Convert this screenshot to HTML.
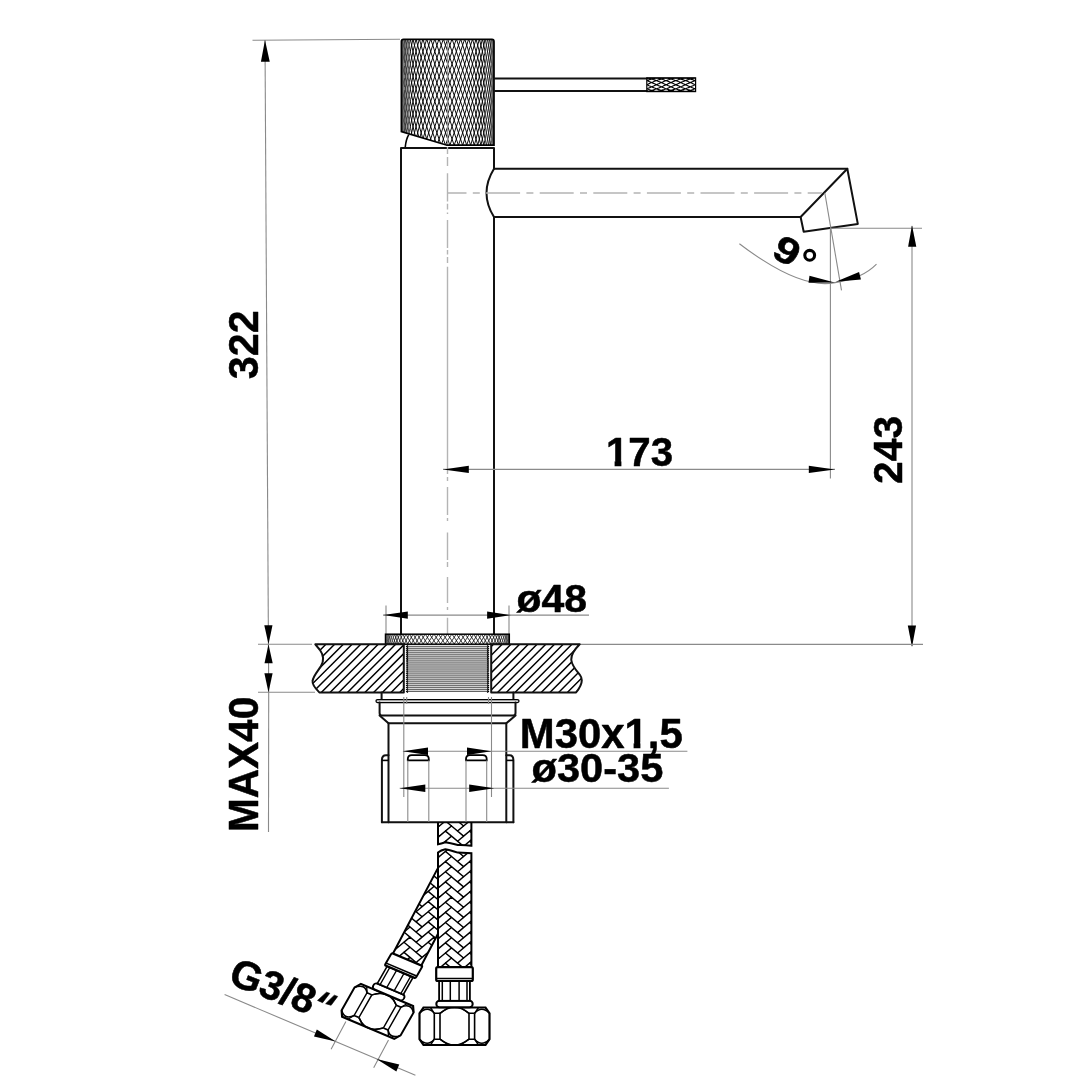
<!DOCTYPE html>
<html><head><meta charset="utf-8"><style>
html,body{margin:0;padding:0;background:#fff;}
svg{display:block;will-change:transform;}
text{font-family:"Liberation Sans",sans-serif;font-weight:bold;}
</style></head><body>
<svg width="1080" height="1080" viewBox="0 0 1080 1080">
<rect width="1080" height="1080" fill="#fff"/>
<path d="M252.5,40.3 L400,39.3" stroke="#8a8a8a" stroke-width="1.1" fill="none"/>
<path d="M265,40 L268.7,692" stroke="#8a8a8a" stroke-width="1.1" fill="none"/>
<path d="M268.7,692 L268.5,832" stroke="#8a8a8a" stroke-width="1.1" fill="none"/>
<path d="M265.00,40.00 L260.95,61.77 L269.75,61.63 Z" fill="#000"/>
<path d="M268.50,644.20 L272.50,625.28 L264.30,625.32 Z" fill="#000"/>
<path d="M268.50,644.20 L264.50,663.32 L272.70,663.28 Z" fill="#000"/>
<path d="M268.50,692.50 L272.60,673.30 L264.40,673.30 Z" fill="#000"/>
<path d="M258,644.3 L312,644.3" stroke="#8a8a8a" stroke-width="1.1" fill="none"/>
<path d="M258,692.3 L315,692.3" stroke="#8a8a8a" stroke-width="1.1" fill="none"/>
<text transform="translate(258.30,379.20) rotate(-90) scale(0.4132,0.4244)" font-size="100" fill="#000" stroke="#000" stroke-width="1.194" stroke-linejoin="round">322</text>
<text transform="translate(258.00,832.10) rotate(-90) scale(0.4060,0.4305)" font-size="100" fill="#000" stroke="#000" stroke-width="1.195" stroke-linejoin="round">MAX40</text>
<defs><clipPath id="hclip"><path d="M401.4,40 L494,40 L494,145.2 L447,145.2 L401.4,131.6 Z"/></clipPath><clipPath id="lclip"><rect x="646.8" y="77.8" width="48.8" height="13.8"/></clipPath><clipPath id="rclip"><rect x="385.5" y="634.2" width="123.8" height="10"/></clipPath></defs>
<g clip-path="url(#hclip)"><path d="M447.7,39.0 L448.7,42.0 M448.7,42.0 L449.8,45.0 M449.8,45.0 L450.8,48.0 M450.8,48.0 L451.9,51.0 M451.9,51.0 L452.9,54.0 M452.9,54.0 L453.9,57.0 M453.9,57.0 L455.0,60.0 M455.0,60.0 L456.0,63.0 M456.0,63.0 L457.0,66.0 M457.0,66.0 L458.1,69.0 M458.1,69.0 L459.1,72.0 M459.1,72.0 L460.1,75.0 M460.1,75.0 L461.1,78.0 M461.1,78.0 L462.1,81.0 M462.1,81.0 L463.1,84.0 M463.1,84.0 L464.0,87.0 M464.0,87.0 L465.0,90.0 M465.0,90.0 L466.0,93.0 M466.0,93.0 L466.9,96.0 M466.9,96.0 L467.9,99.0 M467.9,99.0 L468.8,102.0 M468.8,102.0 L469.7,105.0 M469.7,105.0 L470.7,108.0 M470.7,108.0 L471.6,111.0 M471.6,111.0 L472.4,114.0 M472.4,114.0 L473.3,117.0 M473.3,117.0 L474.2,120.0 M474.2,120.0 L475.0,123.0 M475.0,123.0 L475.9,126.0 M475.9,126.0 L476.7,129.0 M476.7,129.0 L477.5,132.0 M477.5,132.0 L478.3,135.0 M478.3,135.0 L479.1,138.0 M479.1,138.0 L479.8,141.0 M479.8,141.0 L480.6,144.0 M480.6,144.0 L481.1,146.0 M452.0,39.0 L453.1,42.0 M453.1,42.0 L454.1,45.0 M454.1,45.0 L455.2,48.0 M455.2,48.0 L456.2,51.0 M456.2,51.0 L457.2,54.0 M457.2,54.0 L458.2,57.0 M458.2,57.0 L459.2,60.0 M459.2,60.0 L460.2,63.0 M460.2,63.0 L461.2,66.0 M461.2,66.0 L462.2,69.0 M462.2,69.0 L463.2,72.0 M463.2,72.0 L464.2,75.0 M464.2,75.0 L465.2,78.0 M465.2,78.0 L466.1,81.0 M466.1,81.0 L467.1,84.0 M467.1,84.0 L468.0,87.0 M468.0,87.0 L469.0,90.0 M469.0,90.0 L469.9,93.0 M469.9,93.0 L470.8,96.0 M470.8,96.0 L471.7,99.0 M471.7,99.0 L472.6,102.0 M472.6,102.0 L473.5,105.0 M473.5,105.0 L474.3,108.0 M474.3,108.0 L475.2,111.0 M475.2,111.0 L476.0,114.0 M476.0,114.0 L476.8,117.0 M476.8,117.0 L477.6,120.0 M477.6,120.0 L478.4,123.0 M478.4,123.0 L479.2,126.0 M479.2,126.0 L480.0,129.0 M480.0,129.0 L480.7,132.0 M480.7,132.0 L481.4,135.0 M481.4,135.0 L482.1,138.0 M482.1,138.0 L482.8,141.0 M482.8,141.0 L483.5,144.0 M483.5,144.0 L483.9,146.0 M456.4,39.0 L457.4,42.0 M457.4,42.0 L458.4,45.0 M458.4,45.0 L459.4,48.0 M459.4,48.0 L460.4,51.0 M460.4,51.0 L461.4,54.0 M461.4,54.0 L462.4,57.0 M462.4,57.0 L463.4,60.0 M463.4,60.0 L464.4,63.0 M464.4,63.0 L465.3,66.0 M465.3,66.0 L466.3,69.0 M466.3,69.0 L467.3,72.0 M467.3,72.0 L468.2,75.0 M468.2,75.0 L469.1,78.0 M469.1,78.0 L470.0,81.0 M470.0,81.0 L471.0,84.0 M471.0,84.0 L471.9,87.0 M471.9,87.0 L472.7,90.0 M472.7,90.0 L473.6,93.0 M473.6,93.0 L474.5,96.0 M474.5,96.0 L475.3,99.0 M475.3,99.0 L476.2,102.0 M476.2,102.0 L477.0,105.0 M477.0,105.0 L477.8,108.0 M477.8,108.0 L478.6,111.0 M478.6,111.0 L479.3,114.0 M479.3,114.0 L480.1,117.0 M480.1,117.0 L480.8,120.0 M480.8,120.0 L481.5,123.0 M481.5,123.0 L482.3,126.0 M482.3,126.0 L482.9,129.0 M482.9,129.0 L483.6,132.0 M483.6,132.0 L484.3,135.0 M484.3,135.0 L484.9,138.0 M460.6,39.0 L461.6,42.0 M461.6,42.0 L462.6,45.0 M462.6,45.0 L463.6,48.0 M463.6,48.0 L464.5,51.0 M464.5,51.0 L465.5,54.0 M465.5,54.0 L466.5,57.0 M466.5,57.0 L467.4,60.0 M467.4,60.0 L468.4,63.0 M468.4,63.0 L469.3,66.0 M469.3,66.0 L470.2,69.0 M470.2,69.0 L471.1,72.0 M471.1,72.0 L472.0,75.0 M472.0,75.0 L472.9,78.0 M472.9,78.0 L473.8,81.0 M473.8,81.0 L474.6,84.0 M474.6,84.0 L475.5,87.0 M475.5,87.0 L476.3,90.0 M476.3,90.0 L477.1,93.0 M477.1,93.0 L477.9,96.0 M477.9,96.0 L478.7,99.0 M478.7,99.0 L479.5,102.0 M479.5,102.0 L480.2,105.0 M480.2,105.0 L480.9,108.0 M480.9,108.0 L481.7,111.0 M481.7,111.0 L482.4,114.0 M482.4,114.0 L483.1,117.0 M483.1,117.0 L483.7,120.0 M483.7,120.0 L484.4,123.0 M484.4,123.0 L485.0,126.0 M464.7,39.0 L465.7,42.0 M465.7,42.0 L466.6,45.0 M466.6,45.0 L467.6,48.0 M467.6,48.0 L468.5,51.0 M468.5,51.0 L469.4,54.0 M469.4,54.0 L470.4,57.0 M470.4,57.0 L471.3,60.0 M471.3,60.0 L472.2,63.0 M472.2,63.0 L473.0,66.0 M473.0,66.0 L473.9,69.0 M473.9,69.0 L474.8,72.0 M474.8,72.0 L475.6,75.0 M475.6,75.0 L476.4,78.0 M476.4,78.0 L477.2,81.0 M477.2,81.0 L478.0,84.0 M478.0,84.0 L478.8,87.0 M478.8,87.0 L479.6,90.0 M479.6,90.0 L480.3,93.0 M480.3,93.0 L481.1,96.0 M481.1,96.0 L481.8,99.0 M481.8,99.0 L482.5,102.0 M482.5,102.0 L483.2,105.0 M483.2,105.0 L483.8,108.0 M483.8,108.0 L484.5,111.0 M484.5,111.0 L485.1,114.0 M468.7,39.0 L469.6,42.0 M469.6,42.0 L470.5,45.0 M470.5,45.0 L471.4,48.0 M471.4,48.0 L472.3,51.0 M472.3,51.0 L473.2,54.0 M473.2,54.0 L474.0,57.0 M474.0,57.0 L474.9,60.0 M474.9,60.0 L475.7,63.0 M475.7,63.0 L476.6,66.0 M476.6,66.0 L477.4,69.0 M477.4,69.0 L478.2,72.0 M478.2,72.0 L478.9,75.0 M478.9,75.0 L479.7,78.0 M479.7,78.0 L480.5,81.0 M480.5,81.0 L481.2,84.0 M481.2,84.0 L481.9,87.0 M481.9,87.0 L482.6,90.0 M482.6,90.0 L483.3,93.0 M483.3,93.0 L483.9,96.0 M483.9,96.0 L484.6,99.0 M472.5,39.0 L473.3,42.0 M473.3,42.0 L474.2,45.0 M474.2,45.0 L475.0,48.0 M475.0,48.0 L475.9,51.0 M475.9,51.0 L476.7,54.0 M476.7,54.0 L477.5,57.0 M477.5,57.0 L478.3,60.0 M478.3,60.0 L479.1,63.0 M479.1,63.0 L479.8,66.0 M479.8,66.0 L480.6,69.0 M480.6,69.0 L481.3,72.0 M481.3,72.0 L482.0,75.0 M482.0,75.0 L482.7,78.0 M482.7,78.0 L483.4,81.0 M483.4,81.0 L484.1,84.0 M484.1,84.0 L484.7,87.0 M476.0,39.0 L476.8,42.0 M476.8,42.0 L477.6,45.0 M477.6,45.0 L478.4,48.0 M478.4,48.0 L479.2,51.0 M479.2,51.0 L480.0,54.0 M480.0,54.0 L480.7,57.0 M480.7,57.0 L481.4,60.0 M481.4,60.0 L482.1,63.0 M482.1,63.0 L482.8,66.0 M482.8,66.0 L483.5,69.0 M483.5,69.0 L484.2,72.0 M484.2,72.0 L484.8,75.0 M479.3,39.0 L480.1,42.0 M480.1,42.0 L480.8,45.0 M480.8,45.0 L481.6,48.0 M481.6,48.0 L482.3,51.0 M482.3,51.0 L482.9,54.0 M482.9,54.0 L483.6,57.0 M483.6,57.0 L484.3,60.0 M484.3,60.0 L484.9,63.0 M482.4,39.0 L483.1,42.0 M483.1,42.0 L483.7,45.0 M483.7,45.0 L484.4,48.0 M484.4,48.0 L485.0,51.0 M410.7,141.0 L411.3,144.0 M411.3,144.0 L411.8,146.0 M410.8,129.0 L411.4,132.0 M411.4,132.0 L412.1,135.0 M412.1,135.0 L412.8,138.0 M412.8,138.0 L413.5,141.0 M413.5,141.0 L414.2,144.0 M414.2,144.0 L414.7,146.0 M410.3,114.0 L410.9,117.0 M410.9,117.0 L411.6,120.0 M411.6,120.0 L412.2,123.0 M412.2,123.0 L412.9,126.0 M412.9,126.0 L413.6,129.0 M413.6,129.0 L414.3,132.0 M414.3,132.0 L415.1,135.0 M415.1,135.0 L415.8,138.0 M415.8,138.0 L416.6,141.0 M416.6,141.0 L417.4,144.0 M417.4,144.0 L417.9,146.0 M410.4,102.0 L411.0,105.0 M411.0,105.0 L411.7,108.0 M411.7,108.0 L412.3,111.0 M412.3,111.0 L413.0,114.0 M413.0,114.0 L413.7,117.0 M413.7,117.0 L414.4,120.0 M414.4,120.0 L415.2,123.0 M415.2,123.0 L415.9,126.0 M415.9,126.0 L416.7,129.0 M416.7,129.0 L417.5,132.0 M417.5,132.0 L418.3,135.0 M418.3,135.0 L419.1,138.0 M419.1,138.0 L419.9,141.0 M419.9,141.0 L420.8,144.0 M420.8,144.0 L421.3,146.0 M410.5,90.0 L411.1,93.0 M411.1,93.0 L411.8,96.0 M411.8,96.0 L412.4,99.0 M412.4,99.0 L413.1,102.0 M413.1,102.0 L413.8,105.0 M413.8,105.0 L414.6,108.0 M414.6,108.0 L415.3,111.0 M415.3,111.0 L416.1,114.0 M416.1,114.0 L416.8,117.0 M416.8,117.0 L417.6,120.0 M417.6,120.0 L418.4,123.0 M418.4,123.0 L419.2,126.0 M419.2,126.0 L420.1,129.0 M420.1,129.0 L420.9,132.0 M420.9,132.0 L421.8,135.0 M421.8,135.0 L422.6,138.0 M422.6,138.0 L423.5,141.0 M423.5,141.0 L424.4,144.0 M424.4,144.0 L425.0,146.0 M410.6,78.0 L411.2,81.0 M411.2,81.0 L411.9,84.0 M411.9,84.0 L412.6,87.0 M412.6,87.0 L413.3,90.0 M413.3,90.0 L414.0,93.0 M414.0,93.0 L414.7,96.0 M414.7,96.0 L415.4,99.0 M415.4,99.0 L416.2,102.0 M416.2,102.0 L417.0,105.0 M417.0,105.0 L417.8,108.0 M417.8,108.0 L418.6,111.0 M418.6,111.0 L419.4,114.0 M419.4,114.0 L420.2,117.0 M420.2,117.0 L421.1,120.0 M421.1,120.0 L421.9,123.0 M421.9,123.0 L422.8,126.0 M422.8,126.0 L423.7,129.0 M423.7,129.0 L424.6,132.0 M424.6,132.0 L425.5,135.0 M425.5,135.0 L426.4,138.0 M426.4,138.0 L427.3,141.0 M427.3,141.0 L428.3,144.0 M428.3,144.0 L428.9,146.0 M410.7,66.0 L411.3,69.0 M411.3,69.0 L412.0,72.0 M412.0,72.0 L412.7,75.0 M412.7,75.0 L413.4,78.0 M413.4,78.0 L414.1,81.0 M414.1,81.0 L414.8,84.0 M414.8,84.0 L415.6,87.0 M415.6,87.0 L416.3,90.0 M416.3,90.0 L417.1,93.0 M417.1,93.0 L417.9,96.0 M417.9,96.0 L418.7,99.0 M418.7,99.0 L419.5,102.0 M419.5,102.0 L420.4,105.0 M420.4,105.0 L421.2,108.0 M421.2,108.0 L422.1,111.0 M422.1,111.0 L422.9,114.0 M422.9,114.0 L423.8,117.0 M423.8,117.0 L424.7,120.0 M424.7,120.0 L425.6,123.0 M425.6,123.0 L426.6,126.0 M426.6,126.0 L427.5,129.0 M427.5,129.0 L428.4,132.0 M428.4,132.0 L429.4,135.0 M429.4,135.0 L430.4,138.0 M430.4,138.0 L431.3,141.0 M431.3,141.0 L432.3,144.0 M432.3,144.0 L433.0,146.0 M410.8,54.0 L411.5,57.0 M411.5,57.0 L412.1,60.0 M412.1,60.0 L412.8,63.0 M412.8,63.0 L413.5,66.0 M413.5,66.0 L414.2,69.0 M414.2,69.0 L414.9,72.0 M414.9,72.0 L415.7,75.0 M415.7,75.0 L416.4,78.0 M416.4,78.0 L417.2,81.0 M417.2,81.0 L418.0,84.0 M418.0,84.0 L418.8,87.0 M418.8,87.0 L419.7,90.0 M419.7,90.0 L420.5,93.0 M420.5,93.0 L421.3,96.0 M421.3,96.0 L422.2,99.0 M422.2,99.0 L423.1,102.0 M423.1,102.0 L424.0,105.0 M424.0,105.0 L424.9,108.0 M424.9,108.0 L425.8,111.0 M425.8,111.0 L426.7,114.0 M426.7,114.0 L427.7,117.0 M427.7,117.0 L428.6,120.0 M428.6,120.0 L429.6,123.0 M429.6,123.0 L430.5,126.0 M430.5,126.0 L431.5,129.0 M431.5,129.0 L432.5,132.0 M432.5,132.0 L433.5,135.0 M433.5,135.0 L434.5,138.0 M434.5,138.0 L435.5,141.0 M435.5,141.0 L436.5,144.0 M436.5,144.0 L437.2,146.0 M410.3,39.0 L410.9,42.0 M410.9,42.0 L411.6,45.0 M411.6,45.0 L412.2,48.0 M412.2,48.0 L412.9,51.0 M412.9,51.0 L413.6,54.0 M413.6,54.0 L414.3,57.0 M414.3,57.0 L415.1,60.0 M415.1,60.0 L415.8,63.0 M415.8,63.0 L416.6,66.0 M416.6,66.0 L417.4,69.0 M417.4,69.0 L418.2,72.0 M418.2,72.0 L419.0,75.0 M419.0,75.0 L419.8,78.0 M419.8,78.0 L420.6,81.0 M420.6,81.0 L421.5,84.0 M421.5,84.0 L422.4,87.0 M422.4,87.0 L423.2,90.0 M423.2,90.0 L424.1,93.0 M424.1,93.0 L425.0,96.0 M425.0,96.0 L426.0,99.0 M426.0,99.0 L426.9,102.0 M426.9,102.0 L427.8,105.0 M427.8,105.0 L428.8,108.0 M428.8,108.0 L429.7,111.0 M429.7,111.0 L430.7,114.0 M430.7,114.0 L431.7,117.0 M431.7,117.0 L432.7,120.0 M432.7,120.0 L433.6,123.0 M433.6,123.0 L434.6,126.0 M434.6,126.0 L435.6,129.0 M435.6,129.0 L436.7,132.0 M436.7,132.0 L437.7,135.0 M437.7,135.0 L438.7,138.0 M438.7,138.0 L439.7,141.0 M439.7,141.0 L440.8,144.0 M440.8,144.0 L441.4,146.0 M413.0,39.0 L413.7,42.0 M413.7,42.0 L414.4,45.0 M414.4,45.0 L415.2,48.0 M415.2,48.0 L415.9,51.0 M415.9,51.0 L416.7,54.0 M416.7,54.0 L417.5,57.0 M417.5,57.0 L418.3,60.0 M418.3,60.0 L419.1,63.0 M419.1,63.0 L419.9,66.0 M419.9,66.0 L420.8,69.0 M420.8,69.0 L421.6,72.0 M421.6,72.0 L422.5,75.0 M422.5,75.0 L423.4,78.0 M423.4,78.0 L424.3,81.0 M424.3,81.0 L425.2,84.0 M425.2,84.0 L426.1,87.0 M426.1,87.0 L427.0,90.0 M427.0,90.0 L428.0,93.0 M428.0,93.0 L428.9,96.0 M428.9,96.0 L429.9,99.0 M429.9,99.0 L430.9,102.0 M430.9,102.0 L431.8,105.0 M431.8,105.0 L432.8,108.0 M432.8,108.0 L433.8,111.0 M433.8,111.0 L434.8,114.0 M434.8,114.0 L435.8,117.0 M435.8,117.0 L436.8,120.0 M436.8,120.0 L437.8,123.0 M437.8,123.0 L438.9,126.0 M438.9,126.0 L439.9,129.0 M439.9,129.0 L440.9,132.0 M440.9,132.0 L442.0,135.0 M442.0,135.0 L443.0,138.0 M443.0,138.0 L444.0,141.0 M444.0,141.0 L445.1,144.0 M445.1,144.0 L445.8,146.0 M416.1,39.0 L416.8,42.0 M416.8,42.0 L417.6,45.0 M417.6,45.0 L418.4,48.0 M418.4,48.0 L419.2,51.0 M419.2,51.0 L420.1,54.0 M420.1,54.0 L420.9,57.0 M420.9,57.0 L421.8,60.0 M421.8,60.0 L422.7,63.0 M422.7,63.0 L423.5,66.0 M423.5,66.0 L424.4,69.0 M424.4,69.0 L425.3,72.0 M425.3,72.0 L426.3,75.0 M426.3,75.0 L427.2,78.0 M427.2,78.0 L428.1,81.0 M428.1,81.0 L429.1,84.0 M429.1,84.0 L430.0,87.0 M430.0,87.0 L431.0,90.0 M431.0,90.0 L432.0,93.0 M432.0,93.0 L433.0,96.0 M433.0,96.0 L434.0,99.0 M434.0,99.0 L435.0,102.0 M435.0,102.0 L436.0,105.0 M436.0,105.0 L437.0,108.0 M437.0,108.0 L438.0,111.0 M438.0,111.0 L439.0,114.0 M439.0,114.0 L440.1,117.0 M440.1,117.0 L441.1,120.0 M441.1,120.0 L442.1,123.0 M442.1,123.0 L443.2,126.0 M443.2,126.0 L444.2,129.0 M444.2,129.0 L445.3,132.0 M445.3,132.0 L446.3,135.0 M446.3,135.0 L447.3,138.0 M447.3,138.0 L448.4,141.0 M448.4,141.0 L449.4,144.0 M449.4,144.0 L450.1,146.0 M419.4,39.0 L420.2,42.0 M420.2,42.0 L421.1,45.0 M421.1,45.0 L421.9,48.0 M421.9,48.0 L422.8,51.0 M422.8,51.0 L423.7,54.0 M423.7,54.0 L424.6,57.0 M424.6,57.0 L425.5,60.0 M425.5,60.0 L426.4,63.0 M426.4,63.0 L427.4,66.0 M427.4,66.0 L428.3,69.0 M428.3,69.0 L429.2,72.0 M429.2,72.0 L430.2,75.0 M430.2,75.0 L431.2,78.0 M431.2,78.0 L432.2,81.0 M432.2,81.0 L433.2,84.0 M433.2,84.0 L434.1,87.0 M434.1,87.0 L435.1,90.0 M435.1,90.0 L436.2,93.0 M436.2,93.0 L437.2,96.0 M437.2,96.0 L438.2,99.0 M438.2,99.0 L439.2,102.0 M439.2,102.0 L440.2,105.0 M440.2,105.0 L441.3,108.0 M441.3,108.0 L442.3,111.0 M442.3,111.0 L443.3,114.0 M443.3,114.0 L444.4,117.0 M444.4,117.0 L445.4,120.0 M445.4,120.0 L446.5,123.0 M446.5,123.0 L447.5,126.0 M447.5,126.0 L448.6,129.0 M448.6,129.0 L449.6,132.0 M449.6,132.0 L450.6,135.0 M450.6,135.0 L451.7,138.0 M451.7,138.0 L452.7,141.0 M452.7,141.0 L453.8,144.0 M453.8,144.0 L454.5,146.0 M422.9,39.0 L423.8,42.0 M423.8,42.0 L424.7,45.0 M424.7,45.0 L425.7,48.0 M425.7,48.0 L426.6,51.0 M426.6,51.0 L427.5,54.0 M427.5,54.0 L428.5,57.0 M428.5,57.0 L429.4,60.0 M429.4,60.0 L430.4,63.0 M430.4,63.0 L431.3,66.0 M431.3,66.0 L432.3,69.0 M432.3,69.0 L433.3,72.0 M433.3,72.0 L434.3,75.0 M434.3,75.0 L435.3,78.0 M435.3,78.0 L436.3,81.0 M436.3,81.0 L437.3,84.0 M437.3,84.0 L438.4,87.0 M438.4,87.0 L439.4,90.0 M439.4,90.0 L440.4,93.0 M440.4,93.0 L441.4,96.0 M441.4,96.0 L442.5,99.0 M442.5,99.0 L443.5,102.0 M443.5,102.0 L444.6,105.0 M444.6,105.0 L445.6,108.0 M445.6,108.0 L446.6,111.0 M446.6,111.0 L447.7,114.0 M447.7,114.0 L448.7,117.0 M448.7,117.0 L449.8,120.0 M449.8,120.0 L450.8,123.0 M450.8,123.0 L451.9,126.0 M451.9,126.0 L452.9,129.0 M452.9,129.0 L453.9,132.0 M453.9,132.0 L455.0,135.0 M455.0,135.0 L456.0,138.0 M456.0,138.0 L457.0,141.0 M457.0,141.0 L458.0,144.0 M458.0,144.0 L458.7,146.0 M426.7,39.0 L427.7,42.0 M427.7,42.0 L428.6,45.0 M428.6,45.0 L429.6,48.0 M429.6,48.0 L430.5,51.0 M430.5,51.0 L431.5,54.0 M431.5,54.0 L432.5,57.0 M432.5,57.0 L433.5,60.0 M433.5,60.0 L434.5,63.0 M434.5,63.0 L435.5,66.0 M435.5,66.0 L436.5,69.0 M436.5,69.0 L437.5,72.0 M437.5,72.0 L438.5,75.0 M438.5,75.0 L439.6,78.0 M439.6,78.0 L440.6,81.0 M440.6,81.0 L441.6,84.0 M441.6,84.0 L442.7,87.0 M442.7,87.0 L443.7,90.0 M443.7,90.0 L444.7,93.0 M444.7,93.0 L445.8,96.0 M445.8,96.0 L446.8,99.0 M446.8,99.0 L447.9,102.0 M447.9,102.0 L448.9,105.0 M448.9,105.0 L450.0,108.0 M450.0,108.0 L451.0,111.0 M451.0,111.0 L452.0,114.0 M452.0,114.0 L453.1,117.0 M453.1,117.0 L454.1,120.0 M454.1,120.0 L455.1,123.0 M455.1,123.0 L456.2,126.0 M456.2,126.0 L457.2,129.0 M457.2,129.0 L458.2,132.0 M458.2,132.0 L459.2,135.0 M459.2,135.0 L460.2,138.0 M460.2,138.0 L461.2,141.0 M461.2,141.0 L462.2,144.0 M462.2,144.0 L462.9,146.0 M430.7,39.0 L431.7,42.0 M431.7,42.0 L432.7,45.0 M432.7,45.0 L433.7,48.0 M433.7,48.0 L434.6,51.0 M434.6,51.0 L435.7,54.0 M435.7,54.0 L436.7,57.0 M436.7,57.0 L437.7,60.0 M437.7,60.0 L438.7,63.0 M438.7,63.0 L439.7,66.0 M439.7,66.0 L440.8,69.0 M440.8,69.0 L441.8,72.0 M441.8,72.0 L442.8,75.0 M442.8,75.0 L443.9,78.0 M443.9,78.0 L444.9,81.0 M444.9,81.0 L446.0,84.0 M446.0,84.0 L447.0,87.0 M447.0,87.0 L448.0,90.0 M448.0,90.0 L449.1,93.0 M449.1,93.0 L450.1,96.0 M450.1,96.0 L451.2,99.0 M451.2,99.0 L452.2,102.0 M452.2,102.0 L453.2,105.0 M453.2,105.0 L454.3,108.0 M454.3,108.0 L455.3,111.0 M455.3,111.0 L456.3,114.0 M456.3,114.0 L457.4,117.0 M457.4,117.0 L458.4,120.0 M458.4,120.0 L459.4,123.0 M459.4,123.0 L460.4,126.0 M460.4,126.0 L461.4,129.0 M461.4,129.0 L462.4,132.0 M462.4,132.0 L463.4,135.0 M463.4,135.0 L464.4,138.0 M464.4,138.0 L465.3,141.0 M465.3,141.0 L466.3,144.0 M466.3,144.0 L466.9,146.0 M434.8,39.0 L435.8,42.0 M435.8,42.0 L436.8,45.0 M436.8,45.0 L437.9,48.0 M437.9,48.0 L438.9,51.0 M438.9,51.0 L439.9,54.0 M439.9,54.0 L440.9,57.0 M440.9,57.0 L442.0,60.0 M442.0,60.0 L443.0,63.0 M443.0,63.0 L444.0,66.0 M444.0,66.0 L445.1,69.0 M445.1,69.0 L446.1,72.0 M446.1,72.0 L447.2,75.0 M447.2,75.0 L448.2,78.0 M448.2,78.0 L449.3,81.0 M449.3,81.0 L450.3,84.0 M450.3,84.0 L451.3,87.0 M451.3,87.0 L452.4,90.0 M452.4,90.0 L453.4,93.0 M453.4,93.0 L454.5,96.0 M454.5,96.0 L455.5,99.0 M455.5,99.0 L456.5,102.0 M456.5,102.0 L457.5,105.0 M457.5,105.0 L458.6,108.0 M458.6,108.0 L459.6,111.0 M459.6,111.0 L460.6,114.0 M460.6,114.0 L461.6,117.0 M461.6,117.0 L462.6,120.0 M462.6,120.0 L463.6,123.0 M463.6,123.0 L464.5,126.0 M464.5,126.0 L465.5,129.0 M465.5,129.0 L466.5,132.0 M466.5,132.0 L467.4,135.0 M467.4,135.0 L468.3,138.0 M468.3,138.0 L469.3,141.0 M469.3,141.0 L470.2,144.0 M470.2,144.0 L470.8,146.0 M439.0,39.0 L440.1,42.0 M440.1,42.0 L441.1,45.0 M441.1,45.0 L442.1,48.0 M442.1,48.0 L443.2,51.0 M443.2,51.0 L444.2,54.0 M444.2,54.0 L445.3,57.0 M445.3,57.0 L446.3,60.0 M446.3,60.0 L447.3,63.0 M447.3,63.0 L448.4,66.0 M448.4,66.0 L449.4,69.0 M449.4,69.0 L450.5,72.0 M450.5,72.0 L451.5,75.0 M451.5,75.0 L452.6,78.0 M452.6,78.0 L453.6,81.0 M453.6,81.0 L454.6,84.0 M454.6,84.0 L455.7,87.0 M455.7,87.0 L456.7,90.0 M456.7,90.0 L457.7,93.0 M457.7,93.0 L458.7,96.0 M458.7,96.0 L459.7,99.0 M459.7,99.0 L460.7,102.0 M460.7,102.0 L461.7,105.0 M461.7,105.0 L462.7,108.0 M462.7,108.0 L463.7,111.0 M463.7,111.0 L464.7,114.0 M464.7,114.0 L465.7,117.0 M465.7,117.0 L466.6,120.0 M466.6,120.0 L467.6,123.0 M467.6,123.0 L468.5,126.0 M468.5,126.0 L469.4,129.0 M469.4,129.0 L470.3,132.0 M470.3,132.0 L471.3,135.0 M471.3,135.0 L472.1,138.0 M472.1,138.0 L473.0,141.0 M473.0,141.0 L473.9,144.0 M473.9,144.0 L474.5,146.0 M443.4,39.0 L444.4,42.0 M444.4,42.0 L445.4,45.0 M445.4,45.0 L446.5,48.0 M446.5,48.0 L447.5,51.0 M447.5,51.0 L448.6,54.0 M448.6,54.0 L449.6,57.0 M449.6,57.0 L450.7,60.0 M450.7,60.0 L451.7,63.0 M451.7,63.0 L452.7,66.0 M452.7,66.0 L453.8,69.0 M453.8,69.0 L454.8,72.0 M454.8,72.0 L455.8,75.0 M455.8,75.0 L456.9,78.0 M456.9,78.0 L457.9,81.0 M457.9,81.0 L458.9,84.0 M458.9,84.0 L459.9,87.0 M459.9,87.0 L460.9,90.0 M460.9,90.0 L461.9,93.0 M461.9,93.0 L462.9,96.0 M462.9,96.0 L463.9,99.0 M463.9,99.0 L464.9,102.0 M464.9,102.0 L465.8,105.0 M465.8,105.0 L466.8,108.0 M466.8,108.0 L467.7,111.0 M467.7,111.0 L468.7,114.0 M468.7,114.0 L469.6,117.0 M469.6,117.0 L470.5,120.0 M470.5,120.0 L471.4,123.0 M471.4,123.0 L472.3,126.0 M472.3,126.0 L473.2,129.0 M473.2,129.0 L474.0,132.0 M474.0,132.0 L474.9,135.0 M474.9,135.0 L475.7,138.0 M475.7,138.0 L476.6,141.0 M476.6,141.0 L477.4,144.0 M477.4,144.0 L477.9,146.0 M447.7,39.0 L446.7,42.0 M446.7,42.0 L445.6,45.0 M445.6,45.0 L444.6,48.0 M444.6,48.0 L443.5,51.0 M443.5,51.0 L442.5,54.0 M442.5,54.0 L441.5,57.0 M441.5,57.0 L440.4,60.0 M440.4,60.0 L439.4,63.0 M439.4,63.0 L438.4,66.0 M438.4,66.0 L437.3,69.0 M437.3,69.0 L436.3,72.0 M436.3,72.0 L435.3,75.0 M435.3,75.0 L434.3,78.0 M434.3,78.0 L433.3,81.0 M433.3,81.0 L432.3,84.0 M432.3,84.0 L431.4,87.0 M431.4,87.0 L430.4,90.0 M430.4,90.0 L429.4,93.0 M429.4,93.0 L428.5,96.0 M428.5,96.0 L427.5,99.0 M427.5,99.0 L426.6,102.0 M426.6,102.0 L425.7,105.0 M425.7,105.0 L424.7,108.0 M424.7,108.0 L423.8,111.0 M423.8,111.0 L423.0,114.0 M423.0,114.0 L422.1,117.0 M422.1,117.0 L421.2,120.0 M421.2,120.0 L420.4,123.0 M420.4,123.0 L419.5,126.0 M419.5,126.0 L418.7,129.0 M418.7,129.0 L417.9,132.0 M417.9,132.0 L417.1,135.0 M417.1,135.0 L416.3,138.0 M416.3,138.0 L415.6,141.0 M415.6,141.0 L414.8,144.0 M414.8,144.0 L414.3,146.0 M452.0,39.0 L451.0,42.0 M451.0,42.0 L450.0,45.0 M450.0,45.0 L448.9,48.0 M448.9,48.0 L447.9,51.0 M447.9,51.0 L446.8,54.0 M446.8,54.0 L445.8,57.0 M445.8,57.0 L444.7,60.0 M444.7,60.0 L443.7,63.0 M443.7,63.0 L442.7,66.0 M442.7,66.0 L441.6,69.0 M441.6,69.0 L440.6,72.0 M440.6,72.0 L439.6,75.0 M439.6,75.0 L438.5,78.0 M438.5,78.0 L437.5,81.0 M437.5,81.0 L436.5,84.0 M436.5,84.0 L435.5,87.0 M435.5,87.0 L434.5,90.0 M434.5,90.0 L433.5,93.0 M433.5,93.0 L432.5,96.0 M432.5,96.0 L431.5,99.0 M431.5,99.0 L430.5,102.0 M430.5,102.0 L429.6,105.0 M429.6,105.0 L428.6,108.0 M428.6,108.0 L427.7,111.0 M427.7,111.0 L426.7,114.0 M426.7,114.0 L425.8,117.0 M425.8,117.0 L424.9,120.0 M424.9,120.0 L424.0,123.0 M424.0,123.0 L423.1,126.0 M423.1,126.0 L422.2,129.0 M422.2,129.0 L421.4,132.0 M421.4,132.0 L420.5,135.0 M420.5,135.0 L419.7,138.0 M419.7,138.0 L418.8,141.0 M418.8,141.0 L418.0,144.0 M418.0,144.0 L417.5,146.0 M456.4,39.0 L455.3,42.0 M455.3,42.0 L454.3,45.0 M454.3,45.0 L453.3,48.0 M453.3,48.0 L452.2,51.0 M452.2,51.0 L451.2,54.0 M451.2,54.0 L450.1,57.0 M450.1,57.0 L449.1,60.0 M449.1,60.0 L448.1,63.0 M448.1,63.0 L447.0,66.0 M447.0,66.0 L446.0,69.0 M446.0,69.0 L444.9,72.0 M444.9,72.0 L443.9,75.0 M443.9,75.0 L442.8,78.0 M442.8,78.0 L441.8,81.0 M441.8,81.0 L440.8,84.0 M440.8,84.0 L439.7,87.0 M439.7,87.0 L438.7,90.0 M438.7,90.0 L437.7,93.0 M437.7,93.0 L436.7,96.0 M436.7,96.0 L435.7,99.0 M435.7,99.0 L434.7,102.0 M434.7,102.0 L433.7,105.0 M433.7,105.0 L432.7,108.0 M432.7,108.0 L431.7,111.0 M431.7,111.0 L430.7,114.0 M430.7,114.0 L429.7,117.0 M429.7,117.0 L428.8,120.0 M428.8,120.0 L427.8,123.0 M427.8,123.0 L426.9,126.0 M426.9,126.0 L426.0,129.0 M426.0,129.0 L425.1,132.0 M425.1,132.0 L424.1,135.0 M424.1,135.0 L423.3,138.0 M423.3,138.0 L422.4,141.0 M422.4,141.0 L421.5,144.0 M421.5,144.0 L420.9,146.0 M460.6,39.0 L459.6,42.0 M459.6,42.0 L458.6,45.0 M458.6,45.0 L457.5,48.0 M457.5,48.0 L456.5,51.0 M456.5,51.0 L455.5,54.0 M455.5,54.0 L454.5,57.0 M454.5,57.0 L453.4,60.0 M453.4,60.0 L452.4,63.0 M452.4,63.0 L451.4,66.0 M451.4,66.0 L450.3,69.0 M450.3,69.0 L449.3,72.0 M449.3,72.0 L448.2,75.0 M448.2,75.0 L447.2,78.0 M447.2,78.0 L446.1,81.0 M446.1,81.0 L445.1,84.0 M445.1,84.0 L444.1,87.0 M444.1,87.0 L443.0,90.0 M443.0,90.0 L442.0,93.0 M442.0,93.0 L440.9,96.0 M440.9,96.0 L439.9,99.0 M439.9,99.0 L438.9,102.0 M438.9,102.0 L437.9,105.0 M437.9,105.0 L436.8,108.0 M436.8,108.0 L435.8,111.0 M435.8,111.0 L434.8,114.0 M434.8,114.0 L433.8,117.0 M433.8,117.0 L432.8,120.0 M432.8,120.0 L431.8,123.0 M431.8,123.0 L430.9,126.0 M430.9,126.0 L429.9,129.0 M429.9,129.0 L428.9,132.0 M428.9,132.0 L428.0,135.0 M428.0,135.0 L427.1,138.0 M427.1,138.0 L426.1,141.0 M426.1,141.0 L425.2,144.0 M425.2,144.0 L424.6,146.0 M464.7,39.0 L463.7,42.0 M463.7,42.0 L462.7,45.0 M462.7,45.0 L461.7,48.0 M461.7,48.0 L460.8,51.0 M460.8,51.0 L459.7,54.0 M459.7,54.0 L458.7,57.0 M458.7,57.0 L457.7,60.0 M457.7,60.0 L456.7,63.0 M456.7,63.0 L455.7,66.0 M455.7,66.0 L454.6,69.0 M454.6,69.0 L453.6,72.0 M453.6,72.0 L452.6,75.0 M452.6,75.0 L451.5,78.0 M451.5,78.0 L450.5,81.0 M450.5,81.0 L449.4,84.0 M449.4,84.0 L448.4,87.0 M448.4,87.0 L447.4,90.0 M447.4,90.0 L446.3,93.0 M446.3,93.0 L445.3,96.0 M445.3,96.0 L444.2,99.0 M444.2,99.0 L443.2,102.0 M443.2,102.0 L442.2,105.0 M442.2,105.0 L441.1,108.0 M441.1,108.0 L440.1,111.0 M440.1,111.0 L439.1,114.0 M439.1,114.0 L438.0,117.0 M438.0,117.0 L437.0,120.0 M437.0,120.0 L436.0,123.0 M436.0,123.0 L435.0,126.0 M435.0,126.0 L434.0,129.0 M434.0,129.0 L433.0,132.0 M433.0,132.0 L432.0,135.0 M432.0,135.0 L431.0,138.0 M431.0,138.0 L430.1,141.0 M430.1,141.0 L429.1,144.0 M429.1,144.0 L428.5,146.0 M468.7,39.0 L467.7,42.0 M467.7,42.0 L466.8,45.0 M466.8,45.0 L465.8,48.0 M465.8,48.0 L464.9,51.0 M464.9,51.0 L463.9,54.0 M463.9,54.0 L462.9,57.0 M462.9,57.0 L461.9,60.0 M461.9,60.0 L460.9,63.0 M460.9,63.0 L459.9,66.0 M459.9,66.0 L458.9,69.0 M458.9,69.0 L457.9,72.0 M457.9,72.0 L456.9,75.0 M456.9,75.0 L455.8,78.0 M455.8,78.0 L454.8,81.0 M454.8,81.0 L453.8,84.0 M453.8,84.0 L452.7,87.0 M452.7,87.0 L451.7,90.0 M451.7,90.0 L450.7,93.0 M450.7,93.0 L449.6,96.0 M449.6,96.0 L448.6,99.0 M448.6,99.0 L447.5,102.0 M447.5,102.0 L446.5,105.0 M446.5,105.0 L445.4,108.0 M445.4,108.0 L444.4,111.0 M444.4,111.0 L443.4,114.0 M443.4,114.0 L442.3,117.0 M442.3,117.0 L441.3,120.0 M441.3,120.0 L440.3,123.0 M440.3,123.0 L439.2,126.0 M439.2,126.0 L438.2,129.0 M438.2,129.0 L437.2,132.0 M437.2,132.0 L436.2,135.0 M436.2,135.0 L435.2,138.0 M435.2,138.0 L434.2,141.0 M434.2,141.0 L433.2,144.0 M433.2,144.0 L432.5,146.0 M472.5,39.0 L471.6,42.0 M471.6,42.0 L470.7,45.0 M470.7,45.0 L469.7,48.0 M469.7,48.0 L468.8,51.0 M468.8,51.0 L467.9,54.0 M467.9,54.0 L466.9,57.0 M466.9,57.0 L466.0,60.0 M466.0,60.0 L465.0,63.0 M465.0,63.0 L464.1,66.0 M464.1,66.0 L463.1,69.0 M463.1,69.0 L462.1,72.0 M462.1,72.0 L461.1,75.0 M461.1,75.0 L460.1,78.0 M460.1,78.0 L459.1,81.0 M459.1,81.0 L458.1,84.0 M458.1,84.0 L457.0,87.0 M457.0,87.0 L456.0,90.0 M456.0,90.0 L455.0,93.0 M455.0,93.0 L454.0,96.0 M454.0,96.0 L452.9,99.0 M452.9,99.0 L451.9,102.0 M451.9,102.0 L450.8,105.0 M450.8,105.0 L449.8,108.0 M449.8,108.0 L448.8,111.0 M448.8,111.0 L447.7,114.0 M447.7,114.0 L446.7,117.0 M446.7,117.0 L445.6,120.0 M445.6,120.0 L444.6,123.0 M444.6,123.0 L443.5,126.0 M443.5,126.0 L442.5,129.0 M442.5,129.0 L441.5,132.0 M441.5,132.0 L440.4,135.0 M440.4,135.0 L439.4,138.0 M439.4,138.0 L438.4,141.0 M438.4,141.0 L437.4,144.0 M437.4,144.0 L436.7,146.0 M476.0,39.0 L475.2,42.0 M475.2,42.0 L474.3,45.0 M474.3,45.0 L473.5,48.0 M473.5,48.0 L472.6,51.0 M472.6,51.0 L471.7,54.0 M471.7,54.0 L470.8,57.0 M470.8,57.0 L469.9,60.0 M469.9,60.0 L469.0,63.0 M469.0,63.0 L468.0,66.0 M468.0,66.0 L467.1,69.0 M467.1,69.0 L466.2,72.0 M466.2,72.0 L465.2,75.0 M465.2,75.0 L464.2,78.0 M464.2,78.0 L463.2,81.0 M463.2,81.0 L462.2,84.0 M462.2,84.0 L461.3,87.0 M461.3,87.0 L460.3,90.0 M460.3,90.0 L459.2,93.0 M459.2,93.0 L458.2,96.0 M458.2,96.0 L457.2,99.0 M457.2,99.0 L456.2,102.0 M456.2,102.0 L455.2,105.0 M455.2,105.0 L454.1,108.0 M454.1,108.0 L453.1,111.0 M453.1,111.0 L452.1,114.0 M452.1,114.0 L451.0,117.0 M451.0,117.0 L450.0,120.0 M450.0,120.0 L448.9,123.0 M448.9,123.0 L447.9,126.0 M447.9,126.0 L446.8,129.0 M446.8,129.0 L445.8,132.0 M445.8,132.0 L444.8,135.0 M444.8,135.0 L443.7,138.0 M443.7,138.0 L442.7,141.0 M442.7,141.0 L441.6,144.0 M441.6,144.0 L440.9,146.0 M479.3,39.0 L478.6,42.0 M478.6,42.0 L477.8,45.0 M477.8,45.0 L477.0,48.0 M477.0,48.0 L476.2,51.0 M476.2,51.0 L475.3,54.0 M475.3,54.0 L474.5,57.0 M474.5,57.0 L473.6,60.0 M473.6,60.0 L472.7,63.0 M472.7,63.0 L471.9,66.0 M471.9,66.0 L471.0,69.0 M471.0,69.0 L470.1,72.0 M470.1,72.0 L469.1,75.0 M469.1,75.0 L468.2,78.0 M468.2,78.0 L467.3,81.0 M467.3,81.0 L466.3,84.0 M466.3,84.0 L465.4,87.0 M465.4,87.0 L464.4,90.0 M464.4,90.0 L463.4,93.0 M463.4,93.0 L462.4,96.0 M462.4,96.0 L461.4,99.0 M461.4,99.0 L460.4,102.0 M460.4,102.0 L459.4,105.0 M459.4,105.0 L458.4,108.0 M458.4,108.0 L457.4,111.0 M457.4,111.0 L456.4,114.0 M456.4,114.0 L455.3,117.0 M455.3,117.0 L454.3,120.0 M454.3,120.0 L453.3,123.0 M453.3,123.0 L452.2,126.0 M452.2,126.0 L451.2,129.0 M451.2,129.0 L450.1,132.0 M450.1,132.0 L449.1,135.0 M449.1,135.0 L448.1,138.0 M448.1,138.0 L447.0,141.0 M447.0,141.0 L446.0,144.0 M446.0,144.0 L445.3,146.0 M482.4,39.0 L481.7,42.0 M481.7,42.0 L481.0,45.0 M481.0,45.0 L480.2,48.0 M480.2,48.0 L479.5,51.0 M479.5,51.0 L478.7,54.0 M478.7,54.0 L477.9,57.0 M477.9,57.0 L477.1,60.0 M477.1,60.0 L476.3,63.0 M476.3,63.0 L475.5,66.0 M475.5,66.0 L474.6,69.0 M474.6,69.0 L473.8,72.0 M473.8,72.0 L472.9,75.0 M472.9,75.0 L472.0,78.0 M472.0,78.0 L471.1,81.0 M471.1,81.0 L470.2,84.0 M470.2,84.0 L469.3,87.0 M469.3,87.0 L468.4,90.0 M468.4,90.0 L467.4,93.0 M467.4,93.0 L466.5,96.0 M466.5,96.0 L465.5,99.0 M465.5,99.0 L464.5,102.0 M464.5,102.0 L463.6,105.0 M463.6,105.0 L462.6,108.0 M462.6,108.0 L461.6,111.0 M461.6,111.0 L460.6,114.0 M460.6,114.0 L459.6,117.0 M459.6,117.0 L458.6,120.0 M458.6,120.0 L457.6,123.0 M457.6,123.0 L456.5,126.0 M456.5,126.0 L455.5,129.0 M455.5,129.0 L454.5,132.0 M454.5,132.0 L453.4,135.0 M453.4,135.0 L452.4,138.0 M452.4,138.0 L451.4,141.0 M451.4,141.0 L450.3,144.0 M450.3,144.0 L449.6,146.0 M485.1,39.0 L484.5,42.0 M484.5,42.0 L483.8,45.0 M483.8,45.0 L483.2,48.0 M483.2,48.0 L482.5,51.0 M482.5,51.0 L481.8,54.0 M481.8,54.0 L481.1,57.0 M481.1,57.0 L480.3,60.0 M480.3,60.0 L479.6,63.0 M479.6,63.0 L478.8,66.0 M478.8,66.0 L478.0,69.0 M478.0,69.0 L477.2,72.0 M477.2,72.0 L476.4,75.0 M476.4,75.0 L475.6,78.0 M475.6,78.0 L474.8,81.0 M474.8,81.0 L473.9,84.0 M473.9,84.0 L473.0,87.0 M473.0,87.0 L472.2,90.0 M472.2,90.0 L471.3,93.0 M471.3,93.0 L470.4,96.0 M470.4,96.0 L469.4,99.0 M469.4,99.0 L468.5,102.0 M468.5,102.0 L467.6,105.0 M467.6,105.0 L466.6,108.0 M466.6,108.0 L465.7,111.0 M465.7,111.0 L464.7,114.0 M464.7,114.0 L463.7,117.0 M463.7,117.0 L462.7,120.0 M462.7,120.0 L461.8,123.0 M461.8,123.0 L460.8,126.0 M460.8,126.0 L459.8,129.0 M459.8,129.0 L458.7,132.0 M458.7,132.0 L457.7,135.0 M457.7,135.0 L456.7,138.0 M456.7,138.0 L455.7,141.0 M455.7,141.0 L454.6,144.0 M454.6,144.0 L454.0,146.0 M484.6,54.0 L483.9,57.0 M483.9,57.0 L483.3,60.0 M483.3,60.0 L482.6,63.0 M482.6,63.0 L481.9,66.0 M481.9,66.0 L481.2,69.0 M481.2,69.0 L480.5,72.0 M480.5,72.0 L479.7,75.0 M479.7,75.0 L479.0,78.0 M479.0,78.0 L478.2,81.0 M478.2,81.0 L477.4,84.0 M477.4,84.0 L476.6,87.0 M476.6,87.0 L475.7,90.0 M475.7,90.0 L474.9,93.0 M474.9,93.0 L474.1,96.0 M474.1,96.0 L473.2,99.0 M473.2,99.0 L472.3,102.0 M472.3,102.0 L471.4,105.0 M471.4,105.0 L470.5,108.0 M470.5,108.0 L469.6,111.0 M469.6,111.0 L468.7,114.0 M468.7,114.0 L467.7,117.0 M467.7,117.0 L466.8,120.0 M466.8,120.0 L465.8,123.0 M465.8,123.0 L464.9,126.0 M464.9,126.0 L463.9,129.0 M463.9,129.0 L462.9,132.0 M462.9,132.0 L461.9,135.0 M461.9,135.0 L460.9,138.0 M460.9,138.0 L459.9,141.0 M459.9,141.0 L458.9,144.0 M458.9,144.0 L458.2,146.0 M484.7,66.0 L484.1,69.0 M484.1,69.0 L483.4,72.0 M483.4,72.0 L482.7,75.0 M482.7,75.0 L482.0,78.0 M482.0,78.0 L481.3,81.0 M481.3,81.0 L480.6,84.0 M480.6,84.0 L479.8,87.0 M479.8,87.0 L479.1,90.0 M479.1,90.0 L478.3,93.0 M478.3,93.0 L477.5,96.0 M477.5,96.0 L476.7,99.0 M476.7,99.0 L475.9,102.0 M475.9,102.0 L475.0,105.0 M475.0,105.0 L474.2,108.0 M474.2,108.0 L473.3,111.0 M473.3,111.0 L472.5,114.0 M472.5,114.0 L471.6,117.0 M471.6,117.0 L470.7,120.0 M470.7,120.0 L469.8,123.0 M469.8,123.0 L468.8,126.0 M468.8,126.0 L467.9,129.0 M467.9,129.0 L467.0,132.0 M467.0,132.0 L466.0,135.0 M466.0,135.0 L465.0,138.0 M465.0,138.0 L464.1,141.0 M464.1,141.0 L463.1,144.0 M463.1,144.0 L462.4,146.0 M484.8,78.0 L484.2,81.0 M484.2,81.0 L483.5,84.0 M483.5,84.0 L482.8,87.0 M482.8,87.0 L482.1,90.0 M482.1,90.0 L481.4,93.0 M481.4,93.0 L480.7,96.0 M480.7,96.0 L480.0,99.0 M480.0,99.0 L479.2,102.0 M479.2,102.0 L478.4,105.0 M478.4,105.0 L477.6,108.0 M477.6,108.0 L476.8,111.0 M476.8,111.0 L476.0,114.0 M476.0,114.0 L475.2,117.0 M475.2,117.0 L474.3,120.0 M474.3,120.0 L473.5,123.0 M473.5,123.0 L472.6,126.0 M472.6,126.0 L471.7,129.0 M471.7,129.0 L470.8,132.0 M470.8,132.0 L469.9,135.0 M469.9,135.0 L469.0,138.0 M469.0,138.0 L468.1,141.0 M468.1,141.0 L467.1,144.0 M467.1,144.0 L466.5,146.0 M484.9,90.0 L484.3,93.0 M484.3,93.0 L483.6,96.0 M483.6,96.0 L483.0,99.0 M483.0,99.0 L482.3,102.0 M482.3,102.0 L481.6,105.0 M481.6,105.0 L480.8,108.0 M480.8,108.0 L480.1,111.0 M480.1,111.0 L479.3,114.0 M479.3,114.0 L478.6,117.0 M478.6,117.0 L477.8,120.0 M477.8,120.0 L477.0,123.0 M477.0,123.0 L476.2,126.0 M476.2,126.0 L475.3,129.0 M475.3,129.0 L474.5,132.0 M474.5,132.0 L473.6,135.0 M473.6,135.0 L472.8,138.0 M472.8,138.0 L471.9,141.0 M471.9,141.0 L471.0,144.0 M471.0,144.0 L470.4,146.0 M485.0,102.0 L484.4,105.0 M484.4,105.0 L483.7,108.0 M483.7,108.0 L483.1,111.0 M483.1,111.0 L482.4,114.0 M482.4,114.0 L481.7,117.0 M481.7,117.0 L481.0,120.0 M481.0,120.0 L480.2,123.0 M480.2,123.0 L479.5,126.0 M479.5,126.0 L478.7,129.0 M478.7,129.0 L477.9,132.0 M477.9,132.0 L477.1,135.0 M477.1,135.0 L476.3,138.0 M476.3,138.0 L475.5,141.0 M475.5,141.0 L474.6,144.0 M474.6,144.0 L474.1,146.0 M485.1,114.0 L484.5,117.0 M484.5,117.0 L483.8,120.0 M483.8,120.0 L483.2,123.0 M483.2,123.0 L482.5,126.0 M482.5,126.0 L481.8,129.0 M481.8,129.0 L481.1,132.0 M481.1,132.0 L480.3,135.0 M480.3,135.0 L479.6,138.0 M479.6,138.0 L478.8,141.0 M478.8,141.0 L478.0,144.0 M478.0,144.0 L477.5,146.0 M484.6,129.0 L484.0,132.0 M484.0,132.0 L483.3,135.0 M483.3,135.0 L482.6,138.0 M482.6,138.0 L481.9,141.0 M481.9,141.0 L481.2,144.0 M481.2,144.0 L480.7,146.0 M484.7,141.0 L484.1,144.0 M484.1,144.0 L483.6,146.0 M413.0,39.0 L412.3,42.0 M412.3,42.0 L411.7,45.0 M411.7,45.0 L411.0,48.0 M411.0,48.0 L410.4,51.0 M416.1,39.0 L415.3,42.0 M415.3,42.0 L414.6,45.0 M414.6,45.0 L413.8,48.0 M413.8,48.0 L413.1,51.0 M413.1,51.0 L412.5,54.0 M412.5,54.0 L411.8,57.0 M411.8,57.0 L411.1,60.0 M411.1,60.0 L410.5,63.0 M419.4,39.0 L418.6,42.0 M418.6,42.0 L417.8,45.0 M417.8,45.0 L417.0,48.0 M417.0,48.0 L416.2,51.0 M416.2,51.0 L415.4,54.0 M415.4,54.0 L414.7,57.0 M414.7,57.0 L414.0,60.0 M414.0,60.0 L413.3,63.0 M413.3,63.0 L412.6,66.0 M412.6,66.0 L411.9,69.0 M411.9,69.0 L411.2,72.0 M411.2,72.0 L410.6,75.0 M422.9,39.0 L422.1,42.0 M422.1,42.0 L421.2,45.0 M421.2,45.0 L420.4,48.0 M420.4,48.0 L419.5,51.0 M419.5,51.0 L418.7,54.0 M418.7,54.0 L417.9,57.0 M417.9,57.0 L417.1,60.0 M417.1,60.0 L416.3,63.0 M416.3,63.0 L415.6,66.0 M415.6,66.0 L414.8,69.0 M414.8,69.0 L414.1,72.0 M414.1,72.0 L413.4,75.0 M413.4,75.0 L412.7,78.0 M412.7,78.0 L412.0,81.0 M412.0,81.0 L411.3,84.0 M411.3,84.0 L410.7,87.0 M426.7,39.0 L425.8,42.0 M425.8,42.0 L424.9,45.0 M424.9,45.0 L424.0,48.0 M424.0,48.0 L423.1,51.0 M423.1,51.0 L422.2,54.0 M422.2,54.0 L421.4,57.0 M421.4,57.0 L420.5,60.0 M420.5,60.0 L419.7,63.0 M419.7,63.0 L418.8,66.0 M418.8,66.0 L418.0,69.0 M418.0,69.0 L417.2,72.0 M417.2,72.0 L416.5,75.0 M416.5,75.0 L415.7,78.0 M415.7,78.0 L414.9,81.0 M414.9,81.0 L414.2,84.0 M414.2,84.0 L413.5,87.0 M413.5,87.0 L412.8,90.0 M412.8,90.0 L412.1,93.0 M412.1,93.0 L411.5,96.0 M411.5,96.0 L410.8,99.0 M430.7,39.0 L429.7,42.0 M429.7,42.0 L428.8,45.0 M428.8,45.0 L427.8,48.0 M427.8,48.0 L426.9,51.0 M426.9,51.0 L426.0,54.0 M426.0,54.0 L425.0,57.0 M425.0,57.0 L424.1,60.0 M424.1,60.0 L423.2,63.0 M423.2,63.0 L422.4,66.0 M422.4,66.0 L421.5,69.0 M421.5,69.0 L420.6,72.0 M420.6,72.0 L419.8,75.0 M419.8,75.0 L419.0,78.0 M419.0,78.0 L418.2,81.0 M418.2,81.0 L417.4,84.0 M417.4,84.0 L416.6,87.0 M416.6,87.0 L415.8,90.0 M415.8,90.0 L415.1,93.0 M415.1,93.0 L414.3,96.0 M414.3,96.0 L413.6,99.0 M413.6,99.0 L412.9,102.0 M412.9,102.0 L412.2,105.0 M412.2,105.0 L411.6,108.0 M411.6,108.0 L410.9,111.0 M410.9,111.0 L410.3,114.0 M434.8,39.0 L433.8,42.0 M433.8,42.0 L432.8,45.0 M432.8,45.0 L431.8,48.0 M431.8,48.0 L430.9,51.0 M430.9,51.0 L429.9,54.0 M429.9,54.0 L428.9,57.0 M428.9,57.0 L428.0,60.0 M428.0,60.0 L427.0,63.0 M427.0,63.0 L426.1,66.0 M426.1,66.0 L425.2,69.0 M425.2,69.0 L424.3,72.0 M424.3,72.0 L423.4,75.0 M423.4,75.0 L422.5,78.0 M422.5,78.0 L421.6,81.0 M421.6,81.0 L420.8,84.0 M420.8,84.0 L419.9,87.0 M419.9,87.0 L419.1,90.0 M419.1,90.0 L418.3,93.0 M418.3,93.0 L417.5,96.0 M417.5,96.0 L416.7,99.0 M416.7,99.0 L415.9,102.0 M415.9,102.0 L415.2,105.0 M415.2,105.0 L414.5,108.0 M414.5,108.0 L413.7,111.0 M413.7,111.0 L413.0,114.0 M413.0,114.0 L412.3,117.0 M412.3,117.0 L411.7,120.0 M411.7,120.0 L411.0,123.0 M411.0,123.0 L410.4,126.0 M439.0,39.0 L438.0,42.0 M438.0,42.0 L437.0,45.0 M437.0,45.0 L436.0,48.0 M436.0,48.0 L435.0,51.0 M435.0,51.0 L434.0,54.0 M434.0,54.0 L433.0,57.0 M433.0,57.0 L432.0,60.0 M432.0,60.0 L431.0,63.0 M431.0,63.0 L430.1,66.0 M430.1,66.0 L429.1,69.0 M429.1,69.0 L428.1,72.0 M428.1,72.0 L427.2,75.0 M427.2,75.0 L426.3,78.0 M426.3,78.0 L425.4,81.0 M425.4,81.0 L424.4,84.0 M424.4,84.0 L423.5,87.0 M423.5,87.0 L422.7,90.0 M422.7,90.0 L421.8,93.0 M421.8,93.0 L420.9,96.0 M420.9,96.0 L420.1,99.0 M420.1,99.0 L419.2,102.0 M419.2,102.0 L418.4,105.0 M418.4,105.0 L417.6,108.0 M417.6,108.0 L416.8,111.0 M416.8,111.0 L416.1,114.0 M416.1,114.0 L415.3,117.0 M415.3,117.0 L414.6,120.0 M414.6,120.0 L413.9,123.0 M413.9,123.0 L413.1,126.0 M413.1,126.0 L412.5,129.0 M412.5,129.0 L411.8,132.0 M411.8,132.0 L411.1,135.0 M411.1,135.0 L410.5,138.0 M443.4,39.0 L442.3,42.0 M442.3,42.0 L441.3,45.0 M441.3,45.0 L440.2,48.0 M440.2,48.0 L439.2,51.0 M439.2,51.0 L438.2,54.0 M438.2,54.0 L437.2,57.0 M437.2,57.0 L436.2,60.0 M436.2,60.0 L435.2,63.0 M435.2,63.0 L434.2,66.0 M434.2,66.0 L433.2,69.0 M433.2,69.0 L432.2,72.0 M432.2,72.0 L431.2,75.0 M431.2,75.0 L430.2,78.0 M430.2,78.0 L429.3,81.0 M429.3,81.0 L428.3,84.0 M428.3,84.0 L427.4,87.0 M427.4,87.0 L426.4,90.0 M426.4,90.0 L425.5,93.0 M425.5,93.0 L424.6,96.0 M424.6,96.0 L423.7,99.0 M423.7,99.0 L422.8,102.0 M422.8,102.0 L421.9,105.0 M421.9,105.0 L421.1,108.0 M421.1,108.0 L420.2,111.0 M420.2,111.0 L419.4,114.0 M419.4,114.0 L418.6,117.0 M418.6,117.0 L417.8,120.0 M417.8,120.0 L417.0,123.0 M417.0,123.0 L416.2,126.0 M416.2,126.0 L415.4,129.0 M415.4,129.0 L414.7,132.0 M414.7,132.0 L414.0,135.0 M414.0,135.0 L413.3,138.0 M413.3,138.0 L412.6,141.0 M412.6,141.0 L411.9,144.0 M411.9,144.0 L411.5,146.0" stroke="#000" stroke-width="0.95" fill="none"/><path d="M484.9,138.0 L485.5,141.0 M485.5,141.0 L486.1,144.0 M486.1,144.0 L486.5,146.0 M485.0,126.0 L485.6,129.0 M485.6,129.0 L486.2,132.0 M486.2,132.0 L486.8,135.0 M486.8,135.0 L487.3,138.0 M487.3,138.0 L487.9,141.0 M487.9,141.0 L488.4,144.0 M488.4,144.0 L488.7,146.0 M485.1,114.0 L485.7,117.0 M485.7,117.0 L486.3,120.0 M486.3,120.0 L486.9,123.0 M486.9,123.0 L487.4,126.0 M487.4,126.0 L488.0,129.0 M488.0,129.0 L488.5,132.0 M488.5,132.0 L488.9,135.0 M488.9,135.0 L489.4,138.0 M489.4,138.0 L489.9,141.0 M489.9,141.0 L490.3,144.0 M490.3,144.0 L490.6,146.0 M484.6,99.0 L485.2,102.0 M485.2,102.0 L485.8,105.0 M485.8,105.0 L486.4,108.0 M486.4,108.0 L487.0,111.0 M487.0,111.0 L487.5,114.0 M487.5,114.0 L488.0,117.0 M488.0,117.0 L488.5,120.0 M488.5,120.0 L489.0,123.0 M489.0,123.0 L489.5,126.0 M489.5,126.0 L489.9,129.0 M489.9,129.0 L490.4,132.0 M490.4,132.0 L490.8,135.0 M490.8,135.0 L491.1,138.0 M484.7,87.0 L485.3,90.0 M485.3,90.0 L485.9,93.0 M485.9,93.0 L486.5,96.0 M486.5,96.0 L487.1,99.0 M487.1,99.0 L487.6,102.0 M487.6,102.0 L488.1,105.0 M488.1,105.0 L488.6,108.0 M488.6,108.0 L489.1,111.0 M489.1,111.0 L489.6,114.0 M489.6,114.0 L490.0,117.0 M490.0,117.0 L490.4,120.0 M490.4,120.0 L490.8,123.0 M490.8,123.0 L491.2,126.0 M484.8,75.0 L485.4,78.0 M485.4,78.0 L486.0,81.0 M486.0,81.0 L486.6,84.0 M486.6,84.0 L487.2,87.0 M487.2,87.0 L487.7,90.0 M487.7,90.0 L488.2,93.0 M488.2,93.0 L488.7,96.0 M488.7,96.0 L489.2,99.0 M489.2,99.0 L489.6,102.0 M489.6,102.0 L490.1,105.0 M490.1,105.0 L490.5,108.0 M490.5,108.0 L490.9,111.0 M490.9,111.0 L491.3,114.0 M484.9,63.0 L485.5,66.0 M485.5,66.0 L486.1,69.0 M486.1,69.0 L486.7,72.0 M486.7,72.0 L487.2,75.0 M487.2,75.0 L487.8,78.0 M487.8,78.0 L488.3,81.0 M488.3,81.0 L488.8,84.0 M488.8,84.0 L489.3,87.0 M489.3,87.0 L489.7,90.0 M489.7,90.0 L490.2,93.0 M490.2,93.0 L490.6,96.0 M490.6,96.0 L491.0,99.0 M491.0,99.0 L491.3,102.0 M485.0,51.0 L485.6,54.0 M485.6,54.0 L486.2,57.0 M486.2,57.0 L486.8,60.0 M486.8,60.0 L487.3,63.0 M487.3,63.0 L487.9,66.0 M487.9,66.0 L488.4,69.0 M488.4,69.0 L488.9,72.0 M488.9,72.0 L489.3,75.0 M489.3,75.0 L489.8,78.0 M489.8,78.0 L490.2,81.0 M490.2,81.0 L490.6,84.0 M490.6,84.0 L491.0,87.0 M485.1,39.0 L485.7,42.0 M485.7,42.0 L486.3,45.0 M486.3,45.0 L486.9,48.0 M486.9,48.0 L487.4,51.0 M487.4,51.0 L488.0,54.0 M488.0,54.0 L488.5,57.0 M488.5,57.0 L489.0,60.0 M489.0,60.0 L489.4,63.0 M489.4,63.0 L489.9,66.0 M489.9,66.0 L490.3,69.0 M490.3,69.0 L490.7,72.0 M490.7,72.0 L491.1,75.0 M487.5,39.0 L488.0,42.0 M488.0,42.0 L488.5,45.0 M488.5,45.0 L489.0,48.0 M489.0,48.0 L489.5,51.0 M489.5,51.0 L489.9,54.0 M489.9,54.0 L490.4,57.0 M490.4,57.0 L490.8,60.0 M490.8,60.0 L491.1,63.0 M489.6,39.0 L490.0,42.0 M490.0,42.0 L490.4,45.0 M490.4,45.0 L490.8,48.0 M490.8,48.0 L491.2,51.0 M404.4,141.0 L404.8,144.0 M404.8,144.0 L405.0,146.0 M404.1,126.0 L404.4,129.0 M404.4,129.0 L404.8,132.0 M404.8,132.0 L405.2,135.0 M405.2,135.0 L405.7,138.0 M405.7,138.0 L406.1,141.0 M406.1,141.0 L406.6,144.0 M406.6,144.0 L406.9,146.0 M404.1,114.0 L404.5,117.0 M404.5,117.0 L404.9,120.0 M404.9,120.0 L405.3,123.0 M405.3,123.0 L405.7,126.0 M405.7,126.0 L406.2,129.0 M406.2,129.0 L406.7,132.0 M406.7,132.0 L407.2,135.0 M407.2,135.0 L407.7,138.0 M407.7,138.0 L408.2,141.0 M408.2,141.0 L408.8,144.0 M408.8,144.0 L409.2,146.0 M404.2,102.0 L404.6,105.0 M404.6,105.0 L405.0,108.0 M405.0,108.0 L405.4,111.0 M405.4,111.0 L405.8,114.0 M405.8,114.0 L406.3,117.0 M406.3,117.0 L406.8,120.0 M406.8,120.0 L407.3,123.0 M407.3,123.0 L407.8,126.0 M407.8,126.0 L408.3,129.0 M408.3,129.0 L408.9,132.0 M408.9,132.0 L409.5,135.0 M409.5,135.0 L410.1,138.0 M410.1,138.0 L410.7,141.0 M404.3,90.0 L404.6,93.0 M404.6,93.0 L405.0,96.0 M405.0,96.0 L405.5,99.0 M405.5,99.0 L405.9,102.0 M405.9,102.0 L406.4,105.0 M406.4,105.0 L406.8,108.0 M406.8,108.0 L407.4,111.0 M407.4,111.0 L407.9,114.0 M407.9,114.0 L408.4,117.0 M408.4,117.0 L409.0,120.0 M409.0,120.0 L409.6,123.0 M409.6,123.0 L410.2,126.0 M410.2,126.0 L410.8,129.0 M404.3,78.0 L404.7,81.0 M404.7,81.0 L405.1,84.0 M405.1,84.0 L405.5,87.0 M405.5,87.0 L406.0,90.0 M406.0,90.0 L406.4,93.0 M406.4,93.0 L406.9,96.0 M406.9,96.0 L407.4,99.0 M407.4,99.0 L408.0,102.0 M408.0,102.0 L408.5,105.0 M408.5,105.0 L409.1,108.0 M409.1,108.0 L409.7,111.0 M409.7,111.0 L410.3,114.0 M404.4,66.0 L404.8,69.0 M404.8,69.0 L405.2,72.0 M405.2,72.0 L405.6,75.0 M405.6,75.0 L406.1,78.0 M406.1,78.0 L406.5,81.0 M406.5,81.0 L407.0,84.0 M407.0,84.0 L407.5,87.0 M407.5,87.0 L408.1,90.0 M408.1,90.0 L408.6,93.0 M408.6,93.0 L409.2,96.0 M409.2,96.0 L409.8,99.0 M409.8,99.0 L410.4,102.0 M404.1,51.0 L404.4,54.0 M404.4,54.0 L404.8,57.0 M404.8,57.0 L405.2,60.0 M405.2,60.0 L405.7,63.0 M405.7,63.0 L406.1,66.0 M406.1,66.0 L406.6,69.0 M406.6,69.0 L407.1,72.0 M407.1,72.0 L407.6,75.0 M407.6,75.0 L408.2,78.0 M408.2,78.0 L408.7,81.0 M408.7,81.0 L409.3,84.0 M409.3,84.0 L409.9,87.0 M409.9,87.0 L410.5,90.0 M404.1,39.0 L404.5,42.0 M404.5,42.0 L404.9,45.0 M404.9,45.0 L405.3,48.0 M405.3,48.0 L405.8,51.0 M405.8,51.0 L406.2,54.0 M406.2,54.0 L406.7,57.0 M406.7,57.0 L407.2,60.0 M407.2,60.0 L407.7,63.0 M407.7,63.0 L408.2,66.0 M408.2,66.0 L408.8,69.0 M408.8,69.0 L409.4,72.0 M409.4,72.0 L410.0,75.0 M410.0,75.0 L410.6,78.0 M405.8,39.0 L406.3,42.0 M406.3,42.0 L406.8,45.0 M406.8,45.0 L407.3,48.0 M407.3,48.0 L407.8,51.0 M407.8,51.0 L408.3,54.0 M408.3,54.0 L408.9,57.0 M408.9,57.0 L409.5,60.0 M409.5,60.0 L410.1,63.0 M410.1,63.0 L410.7,66.0 M407.9,39.0 L408.4,42.0 M408.4,42.0 L409.0,45.0 M409.0,45.0 L409.6,48.0 M409.6,48.0 L410.2,51.0 M410.2,51.0 L410.8,54.0 M487.5,39.0 L487.0,42.0 M487.0,42.0 L486.4,45.0 M486.4,45.0 L485.8,48.0 M485.8,48.0 L485.2,51.0 M485.2,51.0 L484.6,54.0 M489.6,39.0 L489.1,42.0 M489.1,42.0 L488.6,45.0 M488.6,45.0 L488.1,48.0 M488.1,48.0 L487.6,51.0 M487.6,51.0 L487.1,54.0 M487.1,54.0 L486.5,57.0 M486.5,57.0 L485.9,60.0 M485.9,60.0 L485.3,63.0 M485.3,63.0 L484.7,66.0 M491.3,39.0 L490.9,42.0 M490.9,42.0 L490.5,45.0 M490.5,45.0 L490.1,48.0 M490.1,48.0 L489.6,51.0 M489.6,51.0 L489.2,54.0 M489.2,54.0 L488.7,57.0 M488.7,57.0 L488.2,60.0 M488.2,60.0 L487.7,63.0 M487.7,63.0 L487.2,66.0 M487.2,66.0 L486.6,69.0 M486.6,69.0 L486.0,72.0 M486.0,72.0 L485.4,75.0 M485.4,75.0 L484.8,78.0 M491.3,51.0 L491.0,54.0 M491.0,54.0 L490.6,57.0 M490.6,57.0 L490.2,60.0 M490.2,60.0 L489.7,63.0 M489.7,63.0 L489.3,66.0 M489.3,66.0 L488.8,69.0 M488.8,69.0 L488.3,72.0 M488.3,72.0 L487.8,75.0 M487.8,75.0 L487.2,78.0 M487.2,78.0 L486.7,81.0 M486.7,81.0 L486.1,84.0 M486.1,84.0 L485.5,87.0 M485.5,87.0 L484.9,90.0 M491.0,66.0 L490.6,69.0 M490.6,69.0 L490.2,72.0 M490.2,72.0 L489.8,75.0 M489.8,75.0 L489.3,78.0 M489.3,78.0 L488.9,81.0 M488.9,81.0 L488.4,84.0 M488.4,84.0 L487.9,87.0 M487.9,87.0 L487.3,90.0 M487.3,90.0 L486.8,93.0 M486.8,93.0 L486.2,96.0 M486.2,96.0 L485.6,99.0 M485.6,99.0 L485.0,102.0 M491.1,78.0 L490.7,81.0 M490.7,81.0 L490.3,84.0 M490.3,84.0 L489.9,87.0 M489.9,87.0 L489.4,90.0 M489.4,90.0 L489.0,93.0 M489.0,93.0 L488.5,96.0 M488.5,96.0 L488.0,99.0 M488.0,99.0 L487.4,102.0 M487.4,102.0 L486.9,105.0 M486.9,105.0 L486.3,108.0 M486.3,108.0 L485.7,111.0 M485.7,111.0 L485.1,114.0 M491.1,90.0 L490.8,93.0 M490.8,93.0 L490.4,96.0 M490.4,96.0 L489.9,99.0 M489.9,99.0 L489.5,102.0 M489.5,102.0 L489.0,105.0 M489.0,105.0 L488.6,108.0 M488.6,108.0 L488.0,111.0 M488.0,111.0 L487.5,114.0 M487.5,114.0 L487.0,117.0 M487.0,117.0 L486.4,120.0 M486.4,120.0 L485.8,123.0 M485.8,123.0 L485.2,126.0 M485.2,126.0 L484.6,129.0 M491.2,102.0 L490.8,105.0 M490.8,105.0 L490.4,108.0 M490.4,108.0 L490.0,111.0 M490.0,111.0 L489.6,114.0 M489.6,114.0 L489.1,117.0 M489.1,117.0 L488.6,120.0 M488.6,120.0 L488.1,123.0 M488.1,123.0 L487.6,126.0 M487.6,126.0 L487.1,129.0 M487.1,129.0 L486.5,132.0 M486.5,132.0 L485.9,135.0 M485.9,135.0 L485.3,138.0 M485.3,138.0 L484.7,141.0 M491.3,114.0 L490.9,117.0 M490.9,117.0 L490.5,120.0 M490.5,120.0 L490.1,123.0 M490.1,123.0 L489.7,126.0 M489.7,126.0 L489.2,129.0 M489.2,129.0 L488.7,132.0 M488.7,132.0 L488.2,135.0 M488.2,135.0 L487.7,138.0 M487.7,138.0 L487.2,141.0 M487.2,141.0 L486.6,144.0 M486.6,144.0 L486.2,146.0 M491.3,126.0 L491.0,129.0 M491.0,129.0 L490.6,132.0 M490.6,132.0 L490.2,135.0 M490.2,135.0 L489.7,138.0 M489.7,138.0 L489.3,141.0 M489.3,141.0 L488.8,144.0 M488.8,144.0 L488.5,146.0 M491.0,141.0 L490.6,144.0 M490.6,144.0 L490.4,146.0 M405.8,39.0 L405.4,42.0 M405.4,42.0 L405.0,45.0 M405.0,45.0 L404.6,48.0 M404.6,48.0 L404.2,51.0 M407.9,39.0 L407.4,42.0 M407.4,42.0 L406.9,45.0 M406.9,45.0 L406.4,48.0 M406.4,48.0 L405.9,51.0 M405.9,51.0 L405.5,54.0 M405.5,54.0 L405.0,57.0 M405.0,57.0 L404.6,60.0 M404.6,60.0 L404.3,63.0 M410.3,39.0 L409.7,42.0 M409.7,42.0 L409.1,45.0 M409.1,45.0 L408.5,48.0 M408.5,48.0 L408.0,51.0 M408.0,51.0 L407.4,54.0 M407.4,54.0 L406.9,57.0 M406.9,57.0 L406.4,60.0 M406.4,60.0 L406.0,63.0 M406.0,63.0 L405.5,66.0 M405.5,66.0 L405.1,69.0 M405.1,69.0 L404.7,72.0 M404.7,72.0 L404.3,75.0 M410.4,51.0 L409.8,54.0 M409.8,54.0 L409.2,57.0 M409.2,57.0 L408.6,60.0 M408.6,60.0 L408.1,63.0 M408.1,63.0 L407.5,66.0 M407.5,66.0 L407.0,69.0 M407.0,69.0 L406.5,72.0 M406.5,72.0 L406.1,75.0 M406.1,75.0 L405.6,78.0 M405.6,78.0 L405.2,81.0 M405.2,81.0 L404.8,84.0 M404.8,84.0 L404.4,87.0 M410.5,63.0 L409.9,66.0 M409.9,66.0 L409.3,69.0 M409.3,69.0 L408.7,72.0 M408.7,72.0 L408.2,75.0 M408.2,75.0 L407.6,78.0 M407.6,78.0 L407.1,81.0 M407.1,81.0 L406.6,84.0 M406.6,84.0 L406.1,87.0 M406.1,87.0 L405.7,90.0 M405.7,90.0 L405.2,93.0 M405.2,93.0 L404.8,96.0 M404.8,96.0 L404.4,99.0 M404.4,99.0 L404.1,102.0 M410.6,75.0 L410.0,78.0 M410.0,78.0 L409.4,81.0 M409.4,81.0 L408.8,84.0 M408.8,84.0 L408.2,87.0 M408.2,87.0 L407.7,90.0 M407.7,90.0 L407.2,93.0 M407.2,93.0 L406.7,96.0 M406.7,96.0 L406.2,99.0 M406.2,99.0 L405.8,102.0 M405.8,102.0 L405.3,105.0 M405.3,105.0 L404.9,108.0 M404.9,108.0 L404.5,111.0 M404.5,111.0 L404.1,114.0 M410.7,87.0 L410.1,90.0 M410.1,90.0 L409.5,93.0 M409.5,93.0 L408.9,96.0 M408.9,96.0 L408.3,99.0 M408.3,99.0 L407.8,102.0 M407.8,102.0 L407.3,105.0 M407.3,105.0 L406.8,108.0 M406.8,108.0 L406.3,111.0 M406.3,111.0 L405.8,114.0 M405.8,114.0 L405.4,117.0 M405.4,117.0 L405.0,120.0 M405.0,120.0 L404.6,123.0 M404.6,123.0 L404.2,126.0 M410.8,99.0 L410.2,102.0 M410.2,102.0 L409.6,105.0 M409.6,105.0 L409.0,108.0 M409.0,108.0 L408.4,111.0 M408.4,111.0 L407.9,114.0 M407.9,114.0 L407.4,117.0 M407.4,117.0 L406.9,120.0 M406.9,120.0 L406.4,123.0 M406.4,123.0 L405.9,126.0 M405.9,126.0 L405.5,129.0 M405.5,129.0 L405.0,132.0 M405.0,132.0 L404.6,135.0 M404.6,135.0 L404.3,138.0 M410.3,114.0 L409.7,117.0 M409.7,117.0 L409.1,120.0 M409.1,120.0 L408.5,123.0 M408.5,123.0 L408.0,126.0 M408.0,126.0 L407.4,129.0 M407.4,129.0 L406.9,132.0 M406.9,132.0 L406.5,135.0 M406.5,135.0 L406.0,138.0 M406.0,138.0 L405.5,141.0 M405.5,141.0 L405.1,144.0 M405.1,144.0 L404.8,146.0 M410.4,126.0 L409.8,129.0 M409.8,129.0 L409.2,132.0 M409.2,132.0 L408.6,135.0 M408.6,135.0 L408.1,138.0 M408.1,138.0 L407.5,141.0 M407.5,141.0 L407.0,144.0 M407.0,144.0 L406.7,146.0 M410.5,138.0 L409.9,141.0 M409.9,141.0 L409.3,144.0 M409.3,144.0 L408.9,146.0" stroke="#000" stroke-width="0.71" fill="none"/><path d="M491.1,138.0 L491.5,141.0 M491.5,141.0 L491.8,144.0 M491.8,144.0 L492.0,146.0 M491.2,126.0 L491.5,129.0 M491.5,129.0 L491.9,132.0 M491.9,132.0 L492.2,135.0 M492.2,135.0 L492.5,138.0 M492.5,138.0 L492.7,141.0 M492.7,141.0 L493.0,144.0 M493.0,144.0 L493.1,146.0 M491.3,114.0 L491.6,117.0 M491.6,117.0 L491.9,120.0 M491.9,120.0 L492.2,123.0 M492.2,123.0 L492.5,126.0 M492.5,126.0 L492.8,129.0 M492.8,129.0 L493.0,132.0 M493.0,132.0 L493.2,135.0 M493.2,135.0 L493.4,138.0 M493.4,138.0 L493.6,141.0 M491.3,102.0 L491.7,105.0 M491.7,105.0 L492.0,108.0 M492.0,108.0 L492.3,111.0 M492.3,111.0 L492.6,114.0 M492.6,114.0 L492.8,117.0 M492.8,117.0 L493.1,120.0 M493.1,120.0 L493.3,123.0 M493.3,123.0 L493.4,126.0 M493.4,126.0 L493.6,129.0 M491.0,87.0 L491.4,90.0 M491.4,90.0 L491.7,93.0 M491.7,93.0 L492.0,96.0 M492.0,96.0 L492.3,99.0 M492.3,99.0 L492.6,102.0 M492.6,102.0 L492.9,105.0 M492.9,105.0 L493.1,108.0 M493.1,108.0 L493.3,111.0 M493.3,111.0 L493.5,114.0 M493.5,114.0 L493.6,117.0 M491.1,75.0 L491.4,78.0 M491.4,78.0 L491.8,81.0 M491.8,81.0 L492.1,84.0 M492.1,84.0 L492.4,87.0 M492.4,87.0 L492.7,90.0 M492.7,90.0 L492.9,93.0 M492.9,93.0 L493.1,96.0 M493.1,96.0 L493.3,99.0 M493.3,99.0 L493.5,102.0 M491.1,63.0 L491.5,66.0 M491.5,66.0 L491.8,69.0 M491.8,69.0 L492.1,72.0 M492.1,72.0 L492.4,75.0 M492.4,75.0 L492.7,78.0 M492.7,78.0 L492.9,81.0 M492.9,81.0 L493.2,84.0 M493.2,84.0 L493.4,87.0 M493.4,87.0 L493.5,90.0 M491.2,51.0 L491.6,54.0 M491.6,54.0 L491.9,57.0 M491.9,57.0 L492.2,60.0 M492.2,60.0 L492.5,63.0 M492.5,63.0 L492.7,66.0 M492.7,66.0 L493.0,69.0 M493.0,69.0 L493.2,72.0 M493.2,72.0 L493.4,75.0 M493.4,75.0 L493.6,78.0 M491.3,39.0 L491.6,42.0 M491.6,42.0 L491.9,45.0 M491.9,45.0 L492.2,48.0 M492.2,48.0 L492.5,51.0 M492.5,51.0 L492.8,54.0 M492.8,54.0 L493.0,57.0 M493.0,57.0 L493.2,60.0 M493.2,60.0 L493.4,63.0 M493.4,63.0 L493.6,66.0 M492.6,39.0 L492.8,42.0 M492.8,42.0 L493.1,45.0 M493.1,45.0 L493.3,48.0 M493.3,48.0 L493.4,51.0 M493.4,51.0 L493.6,54.0 M493.5,39.0 L493.6,42.0 M401.9,138.0 L402.0,141.0 M402.0,141.0 L402.2,144.0 M402.2,144.0 L402.4,146.0 M401.9,126.0 L402.1,129.0 M402.1,129.0 L402.3,132.0 M402.3,132.0 L402.5,135.0 M402.5,135.0 L402.7,138.0 M402.7,138.0 L403.0,141.0 M403.0,141.0 L403.3,144.0 M403.3,144.0 L403.5,146.0 M401.8,111.0 L401.9,114.0 M401.9,114.0 L402.1,117.0 M402.1,117.0 L402.3,120.0 M402.3,120.0 L402.5,123.0 M402.5,123.0 L402.8,126.0 M402.8,126.0 L403.1,129.0 M403.1,129.0 L403.4,132.0 M403.4,132.0 L403.7,135.0 M403.7,135.0 L404.0,138.0 M404.0,138.0 L404.4,141.0 M401.8,99.0 L402.0,102.0 M402.0,102.0 L402.1,105.0 M402.1,105.0 L402.3,108.0 M402.3,108.0 L402.6,111.0 M402.6,111.0 L402.8,114.0 M402.8,114.0 L403.1,117.0 M403.1,117.0 L403.4,120.0 M403.4,120.0 L403.7,123.0 M403.7,123.0 L404.1,126.0 M401.8,87.0 L402.0,90.0 M402.0,90.0 L402.2,93.0 M402.2,93.0 L402.4,96.0 M402.4,96.0 L402.6,99.0 M402.6,99.0 L402.9,102.0 M402.9,102.0 L403.2,105.0 M403.2,105.0 L403.5,108.0 M403.5,108.0 L403.8,111.0 M403.8,111.0 L404.1,114.0 M401.8,75.0 L402.0,78.0 M402.0,78.0 L402.2,81.0 M402.2,81.0 L402.4,84.0 M402.4,84.0 L402.7,87.0 M402.7,87.0 L402.9,90.0 M402.9,90.0 L403.2,93.0 M403.2,93.0 L403.5,96.0 M403.5,96.0 L403.8,99.0 M403.8,99.0 L404.2,102.0 M401.9,63.0 L402.0,66.0 M402.0,66.0 L402.2,69.0 M402.2,69.0 L402.5,72.0 M402.5,72.0 L402.7,75.0 M402.7,75.0 L403.0,78.0 M403.0,78.0 L403.3,81.0 M403.3,81.0 L403.6,84.0 M403.6,84.0 L403.9,87.0 M403.9,87.0 L404.3,90.0 M401.9,51.0 L402.1,54.0 M402.1,54.0 L402.3,57.0 M402.3,57.0 L402.5,60.0 M402.5,60.0 L402.7,63.0 M402.7,63.0 L403.0,66.0 M403.0,66.0 L403.3,69.0 M403.3,69.0 L403.6,72.0 M403.6,72.0 L404.0,75.0 M404.0,75.0 L404.3,78.0 M401.9,39.0 L402.1,42.0 M402.1,42.0 L402.3,45.0 M402.3,45.0 L402.5,48.0 M402.5,48.0 L402.8,51.0 M402.8,51.0 L403.1,54.0 M403.1,54.0 L403.4,57.0 M403.4,57.0 L403.7,60.0 M403.7,60.0 L404.0,63.0 M404.0,63.0 L404.4,66.0 M402.8,39.0 L403.1,42.0 M403.1,42.0 L403.4,45.0 M403.4,45.0 L403.7,48.0 M403.7,48.0 L404.1,51.0 M492.6,39.0 L492.3,42.0 M492.3,42.0 L492.0,45.0 M492.0,45.0 L491.7,48.0 M491.7,48.0 L491.3,51.0 M493.5,39.0 L493.3,42.0 M493.3,42.0 L493.1,45.0 M493.1,45.0 L492.9,48.0 M492.9,48.0 L492.6,51.0 M492.6,51.0 L492.3,54.0 M492.3,54.0 L492.0,57.0 M492.0,57.0 L491.7,60.0 M491.7,60.0 L491.4,63.0 M491.4,63.0 L491.0,66.0 M493.5,51.0 L493.3,54.0 M493.3,54.0 L493.1,57.0 M493.1,57.0 L492.9,60.0 M492.9,60.0 L492.7,63.0 M492.7,63.0 L492.4,66.0 M492.4,66.0 L492.1,69.0 M492.1,69.0 L491.8,72.0 M491.8,72.0 L491.4,75.0 M491.4,75.0 L491.1,78.0 M493.5,63.0 L493.4,66.0 M493.4,66.0 L493.2,69.0 M493.2,69.0 L492.9,72.0 M492.9,72.0 L492.7,75.0 M492.7,75.0 L492.4,78.0 M492.4,78.0 L492.1,81.0 M492.1,81.0 L491.8,84.0 M491.8,84.0 L491.5,87.0 M491.5,87.0 L491.1,90.0 M493.6,75.0 L493.4,78.0 M493.4,78.0 L493.2,81.0 M493.2,81.0 L493.0,84.0 M493.0,84.0 L492.7,87.0 M492.7,87.0 L492.5,90.0 M492.5,90.0 L492.2,93.0 M492.2,93.0 L491.9,96.0 M491.9,96.0 L491.6,99.0 M491.6,99.0 L491.2,102.0 M493.6,87.0 L493.4,90.0 M493.4,90.0 L493.2,93.0 M493.2,93.0 L493.0,96.0 M493.0,96.0 L492.8,99.0 M492.8,99.0 L492.5,102.0 M492.5,102.0 L492.2,105.0 M492.2,105.0 L491.9,108.0 M491.9,108.0 L491.6,111.0 M491.6,111.0 L491.3,114.0 M493.6,99.0 L493.4,102.0 M493.4,102.0 L493.3,105.0 M493.3,105.0 L493.1,108.0 M493.1,108.0 L492.8,111.0 M492.8,111.0 L492.6,114.0 M492.6,114.0 L492.3,117.0 M492.3,117.0 L492.0,120.0 M492.0,120.0 L491.7,123.0 M491.7,123.0 L491.3,126.0 M493.6,111.0 L493.5,114.0 M493.5,114.0 L493.3,117.0 M493.3,117.0 L493.1,120.0 M493.1,120.0 L492.9,123.0 M492.9,123.0 L492.6,126.0 M492.6,126.0 L492.3,129.0 M492.3,129.0 L492.0,132.0 M492.0,132.0 L491.7,135.0 M491.7,135.0 L491.4,138.0 M491.4,138.0 L491.0,141.0 M493.5,126.0 L493.3,129.0 M493.3,129.0 L493.1,132.0 M493.1,132.0 L492.9,135.0 M492.9,135.0 L492.7,138.0 M492.7,138.0 L492.4,141.0 M492.4,141.0 L492.1,144.0 M492.1,144.0 L491.9,146.0 M493.5,138.0 L493.4,141.0 M493.4,141.0 L493.2,144.0 M493.2,144.0 L493.0,146.0 M401.9,39.0 L401.8,42.0 M402.8,39.0 L402.6,42.0 M402.6,42.0 L402.3,45.0 M402.3,45.0 L402.1,48.0 M402.1,48.0 L402.0,51.0 M402.0,51.0 L401.8,54.0 M404.1,39.0 L403.8,42.0 M403.8,42.0 L403.5,45.0 M403.5,45.0 L403.2,48.0 M403.2,48.0 L402.9,51.0 M402.9,51.0 L402.6,54.0 M402.6,54.0 L402.4,57.0 M402.4,57.0 L402.2,60.0 M402.2,60.0 L402.0,63.0 M402.0,63.0 L401.8,66.0 M404.2,51.0 L403.8,54.0 M403.8,54.0 L403.5,57.0 M403.5,57.0 L403.2,60.0 M403.2,60.0 L402.9,63.0 M402.9,63.0 L402.7,66.0 M402.7,66.0 L402.4,69.0 M402.4,69.0 L402.2,72.0 M402.2,72.0 L402.0,75.0 M402.0,75.0 L401.8,78.0 M404.3,63.0 L403.9,66.0 M403.9,66.0 L403.6,69.0 M403.6,69.0 L403.3,72.0 M403.3,72.0 L403.0,75.0 M403.0,75.0 L402.7,78.0 M402.7,78.0 L402.5,81.0 M402.5,81.0 L402.2,84.0 M402.2,84.0 L402.0,87.0 M402.0,87.0 L401.9,90.0 M404.3,75.0 L404.0,78.0 M404.0,78.0 L403.6,81.0 M403.6,81.0 L403.3,84.0 M403.3,84.0 L403.0,87.0 M403.0,87.0 L402.7,90.0 M402.7,90.0 L402.5,93.0 M402.5,93.0 L402.3,96.0 M402.3,96.0 L402.1,99.0 M402.1,99.0 L401.9,102.0 M404.4,87.0 L404.0,90.0 M404.0,90.0 L403.7,93.0 M403.7,93.0 L403.4,96.0 M403.4,96.0 L403.1,99.0 M403.1,99.0 L402.8,102.0 M402.8,102.0 L402.5,105.0 M402.5,105.0 L402.3,108.0 M402.3,108.0 L402.1,111.0 M402.1,111.0 L401.9,114.0 M401.9,114.0 L401.8,117.0 M404.1,102.0 L403.7,105.0 M403.7,105.0 L403.4,108.0 M403.4,108.0 L403.1,111.0 M403.1,111.0 L402.8,114.0 M402.8,114.0 L402.6,117.0 M402.6,117.0 L402.3,120.0 M402.3,120.0 L402.1,123.0 M402.1,123.0 L402.0,126.0 M402.0,126.0 L401.8,129.0 M404.1,114.0 L403.8,117.0 M403.8,117.0 L403.5,120.0 M403.5,120.0 L403.2,123.0 M403.2,123.0 L402.9,126.0 M402.9,126.0 L402.6,129.0 M402.6,129.0 L402.4,132.0 M402.4,132.0 L402.2,135.0 M402.2,135.0 L402.0,138.0 M402.0,138.0 L401.8,141.0 M404.2,126.0 L403.9,129.0 M403.9,129.0 L403.5,132.0 M403.5,132.0 L403.2,135.0 M403.2,135.0 L402.9,138.0 M402.9,138.0 L402.7,141.0 M402.7,141.0 L402.4,144.0 M402.4,144.0 L402.3,146.0 M404.3,138.0 L403.9,141.0 M403.9,141.0 L403.6,144.0 M403.6,144.0 L403.4,146.0" stroke="#000" stroke-width="0.47" fill="none"/><path d="M493.6,141.0 L493.7,144.0 M493.7,144.0 L493.8,146.0 M493.6,129.0 L493.7,132.0 M493.7,132.0 L493.9,135.0 M493.9,135.0 L494.0,138.0 M494.0,138.0 L494.0,141.0 M494.0,141.0 L494.1,144.0 M494.1,144.0 L494.1,146.0 M493.6,117.0 L493.8,120.0 M493.8,120.0 L493.9,123.0 M493.9,123.0 L494.0,126.0 M494.0,126.0 L494.0,129.0 M494.0,129.0 L494.1,132.0 M494.1,132.0 L494.1,135.0 M494.1,135.0 L494.1,138.0 M493.5,102.0 L493.7,105.0 M493.7,105.0 L493.8,108.0 M493.8,108.0 L493.9,111.0 M493.9,111.0 L494.0,114.0 M494.0,114.0 L494.0,117.0 M494.0,117.0 L494.1,120.0 M494.1,120.0 L494.1,123.0 M494.1,123.0 L494.1,126.0 M493.5,90.0 L493.7,93.0 M493.7,93.0 L493.8,96.0 M493.8,96.0 L493.9,99.0 M493.9,99.0 L494.0,102.0 M494.0,102.0 L494.1,105.0 M494.1,105.0 L494.1,108.0 M494.1,108.0 L494.1,111.0 M493.6,78.0 L493.7,81.0 M493.7,81.0 L493.8,84.0 M493.8,84.0 L493.9,87.0 M493.9,87.0 L494.0,90.0 M494.0,90.0 L494.1,93.0 M494.1,93.0 L494.1,96.0 M494.1,96.0 L494.1,99.0 M493.6,66.0 L493.7,69.0 M493.7,69.0 L493.8,72.0 M493.8,72.0 L493.9,75.0 M493.9,75.0 L494.0,78.0 M494.0,78.0 L494.1,81.0 M494.1,81.0 L494.1,84.0 M494.1,84.0 L494.1,87.0 M493.6,54.0 L493.8,57.0 M493.8,57.0 L493.9,60.0 M493.9,60.0 L494.0,63.0 M494.0,63.0 L494.0,66.0 M494.0,66.0 L494.1,69.0 M494.1,69.0 L494.1,72.0 M494.1,72.0 L494.1,75.0 M493.6,42.0 L493.8,45.0 M493.8,45.0 L493.9,48.0 M493.9,48.0 L494.0,51.0 M494.0,51.0 L494.0,54.0 M494.0,54.0 L494.1,57.0 M494.1,57.0 L494.1,60.0 M494.1,60.0 L494.1,63.0 M494.0,39.0 L494.0,42.0 M494.0,42.0 L494.1,45.0 M494.1,45.0 L494.1,48.0 M494.1,48.0 L494.1,51.0 M401.3,141.0 L401.3,144.0 M401.3,144.0 L401.3,146.0 M401.3,129.0 L401.3,132.0 M401.3,132.0 L401.3,135.0 M401.3,135.0 L401.4,138.0 M401.4,138.0 L401.5,141.0 M401.5,141.0 L401.6,144.0 M401.6,144.0 L401.6,146.0 M401.3,117.0 L401.3,120.0 M401.3,120.0 L401.3,123.0 M401.3,123.0 L401.4,126.0 M401.4,126.0 L401.5,129.0 M401.5,129.0 L401.6,132.0 M401.6,132.0 L401.7,135.0 M401.7,135.0 L401.9,138.0 M401.3,102.0 L401.3,105.0 M401.3,105.0 L401.3,108.0 M401.3,108.0 L401.4,111.0 M401.4,111.0 L401.4,114.0 M401.4,114.0 L401.5,117.0 M401.5,117.0 L401.6,120.0 M401.6,120.0 L401.7,123.0 M401.7,123.0 L401.9,126.0 M401.3,90.0 L401.3,93.0 M401.3,93.0 L401.3,96.0 M401.3,96.0 L401.4,99.0 M401.4,99.0 L401.4,102.0 M401.4,102.0 L401.5,105.0 M401.5,105.0 L401.6,108.0 M401.6,108.0 L401.8,111.0 M401.3,78.0 L401.3,81.0 M401.3,81.0 L401.3,84.0 M401.3,84.0 L401.4,87.0 M401.4,87.0 L401.4,90.0 M401.4,90.0 L401.5,93.0 M401.5,93.0 L401.6,96.0 M401.6,96.0 L401.8,99.0 M401.3,66.0 L401.3,69.0 M401.3,69.0 L401.3,72.0 M401.3,72.0 L401.4,75.0 M401.4,75.0 L401.5,78.0 M401.5,78.0 L401.6,81.0 M401.6,81.0 L401.7,84.0 M401.7,84.0 L401.8,87.0 M401.3,54.0 L401.3,57.0 M401.3,57.0 L401.3,60.0 M401.3,60.0 L401.4,63.0 M401.4,63.0 L401.5,66.0 M401.5,66.0 L401.6,69.0 M401.6,69.0 L401.7,72.0 M401.7,72.0 L401.8,75.0 M401.3,42.0 L401.3,45.0 M401.3,45.0 L401.3,48.0 M401.3,48.0 L401.4,51.0 M401.4,51.0 L401.5,54.0 M401.5,54.0 L401.6,57.0 M401.6,57.0 L401.7,60.0 M401.7,60.0 L401.9,63.0 M401.4,39.0 L401.5,42.0 M401.5,42.0 L401.6,45.0 M401.6,45.0 L401.7,48.0 M401.7,48.0 L401.9,51.0 M494.0,39.0 L493.9,42.0 M493.9,42.0 L493.8,45.0 M493.8,45.0 L493.7,48.0 M493.7,48.0 L493.5,51.0 M494.1,42.0 L494.1,45.0 M494.1,45.0 L494.1,48.0 M494.1,48.0 L494.0,51.0 M494.0,51.0 L493.9,54.0 M493.9,54.0 L493.8,57.0 M493.8,57.0 L493.7,60.0 M493.7,60.0 L493.5,63.0 M494.1,54.0 L494.1,57.0 M494.1,57.0 L494.1,60.0 M494.1,60.0 L494.0,63.0 M494.0,63.0 L493.9,66.0 M493.9,66.0 L493.8,69.0 M493.8,69.0 L493.7,72.0 M493.7,72.0 L493.6,75.0 M494.1,66.0 L494.1,69.0 M494.1,69.0 L494.1,72.0 M494.1,72.0 L494.0,75.0 M494.0,75.0 L493.9,78.0 M493.9,78.0 L493.8,81.0 M493.8,81.0 L493.7,84.0 M493.7,84.0 L493.6,87.0 M494.1,78.0 L494.1,81.0 M494.1,81.0 L494.1,84.0 M494.1,84.0 L494.0,87.0 M494.0,87.0 L494.0,90.0 M494.0,90.0 L493.9,93.0 M493.9,93.0 L493.8,96.0 M493.8,96.0 L493.6,99.0 M494.1,90.0 L494.1,93.0 M494.1,93.0 L494.1,96.0 M494.1,96.0 L494.0,99.0 M494.0,99.0 L494.0,102.0 M494.0,102.0 L493.9,105.0 M493.9,105.0 L493.8,108.0 M493.8,108.0 L493.6,111.0 M494.1,102.0 L494.1,105.0 M494.1,105.0 L494.1,108.0 M494.1,108.0 L494.0,111.0 M494.0,111.0 L494.0,114.0 M494.0,114.0 L493.9,117.0 M493.9,117.0 L493.8,120.0 M493.8,120.0 L493.7,123.0 M493.7,123.0 L493.5,126.0 M494.1,117.0 L494.1,120.0 M494.1,120.0 L494.1,123.0 M494.1,123.0 L494.0,126.0 M494.0,126.0 L493.9,129.0 M493.9,129.0 L493.8,132.0 M493.8,132.0 L493.7,135.0 M493.7,135.0 L493.5,138.0 M494.1,129.0 L494.1,132.0 M494.1,132.0 L494.1,135.0 M494.1,135.0 L494.0,138.0 M494.0,138.0 L493.9,141.0 M493.9,141.0 L493.8,144.0 M493.8,144.0 L493.8,146.0 M494.1,141.0 L494.1,144.0 M494.1,144.0 L494.1,146.0 M401.4,39.0 L401.4,42.0 M401.4,42.0 L401.3,45.0 M401.3,45.0 L401.3,48.0 M401.3,48.0 L401.3,51.0 M401.8,42.0 L401.6,45.0 M401.6,45.0 L401.5,48.0 M401.5,48.0 L401.4,51.0 M401.4,51.0 L401.4,54.0 M401.4,54.0 L401.3,57.0 M401.3,57.0 L401.3,60.0 M401.3,60.0 L401.3,63.0 M401.8,54.0 L401.6,57.0 M401.6,57.0 L401.5,60.0 M401.5,60.0 L401.4,63.0 M401.4,63.0 L401.4,66.0 M401.4,66.0 L401.3,69.0 M401.3,69.0 L401.3,72.0 M401.3,72.0 L401.3,75.0 M401.8,66.0 L401.7,69.0 M401.7,69.0 L401.6,72.0 M401.6,72.0 L401.5,75.0 M401.5,75.0 L401.4,78.0 M401.4,78.0 L401.3,81.0 M401.3,81.0 L401.3,84.0 M401.3,84.0 L401.3,87.0 M401.8,78.0 L401.7,81.0 M401.7,81.0 L401.6,84.0 M401.6,84.0 L401.5,87.0 M401.5,87.0 L401.4,90.0 M401.4,90.0 L401.3,93.0 M401.3,93.0 L401.3,96.0 M401.3,96.0 L401.3,99.0 M401.9,90.0 L401.7,93.0 M401.7,93.0 L401.6,96.0 M401.6,96.0 L401.5,99.0 M401.5,99.0 L401.4,102.0 M401.4,102.0 L401.3,105.0 M401.3,105.0 L401.3,108.0 M401.3,108.0 L401.3,111.0 M401.9,102.0 L401.7,105.0 M401.7,105.0 L401.6,108.0 M401.6,108.0 L401.5,111.0 M401.5,111.0 L401.4,114.0 M401.4,114.0 L401.4,117.0 M401.4,117.0 L401.3,120.0 M401.3,120.0 L401.3,123.0 M401.3,123.0 L401.3,126.0 M401.8,117.0 L401.6,120.0 M401.6,120.0 L401.5,123.0 M401.5,123.0 L401.4,126.0 M401.4,126.0 L401.4,129.0 M401.4,129.0 L401.3,132.0 M401.3,132.0 L401.3,135.0 M401.3,135.0 L401.3,138.0 M401.8,129.0 L401.7,132.0 M401.7,132.0 L401.5,135.0 M401.5,135.0 L401.4,138.0 M401.4,138.0 L401.4,141.0 M401.4,141.0 L401.3,144.0 M401.3,144.0 L401.3,146.0 M401.8,141.0 L401.7,144.0 M401.7,144.0 L401.6,146.0" stroke="#000" stroke-width="0.24" fill="none"/></g>
<path d="M447.6,40 L447.6,146" stroke="#999" stroke-width="1.1"/>
<path d="M401.4,131.6 L401.4,41.5 Q401.4,39.4 403.5,39.4 L492,39.4 Q494,39.4 494,41.5 L494,145.2 L447,145.2 Z" stroke="#000" stroke-width="1.7" fill="none"/>
<path d="M405.2,147.5 Q406,139 408.8,134.6" stroke="#000" stroke-width="1.6" fill="none"/>
<path d="M494,78.6 L647,78.6 M494,91 L647,91" stroke="#111" stroke-width="2.0" fill="none" stroke-linejoin="round" stroke-linecap="round"/>
<g clip-path="url(#lclip)"><path d="M646.8,84.7 L647.5,85.0 L648.2,85.3 L648.9,85.7 L649.6,86.0 L650.3,86.3 L651.0,86.6 L651.7,86.9 L652.4,87.2 L653.1,87.5 L653.8,87.8 L654.5,88.1 L655.2,88.3 L655.9,88.6 L656.6,88.9 L657.3,89.1 L658.0,89.4 L658.7,89.6 L659.4,89.8 L660.1,90.0 L660.8,90.2 L661.5,90.4 L662.2,90.6 L662.9,90.8 L663.6,90.9 L664.3,91.1 L665.0,91.2 L665.7,91.3 L666.4,91.4 L667.1,91.5 L667.8,91.6 L668.5,91.6 L669.2,91.7 L669.9,91.7 L670.6,91.7 M646.8,88.8 L647.5,89.1 L648.2,89.3 L648.9,89.5 L649.6,89.8 L650.3,90.0 L651.0,90.2 L651.7,90.4 L652.4,90.6 L653.1,90.7 L653.8,90.9 L654.5,91.0 L655.2,91.2 L655.9,91.3 L656.6,91.4 L657.3,91.5 L658.0,91.5 L658.7,91.6 L659.4,91.6 L660.1,91.7 L660.8,91.7 L661.5,91.7 M646.8,91.4 L647.5,91.4 L648.2,91.5 L648.9,91.6 L649.6,91.6 L650.3,91.7 L651.0,91.7 L651.7,91.7 M690.2,77.7 L690.9,77.7 L691.6,77.7 L692.3,77.8 L693.0,77.8 L693.7,77.9 L694.4,77.9 L695.1,78.0 M680.4,77.7 L681.1,77.7 L681.8,77.7 L682.5,77.8 L683.2,77.8 L683.9,77.9 L684.6,77.9 L685.3,78.0 L686.0,78.1 L686.7,78.2 L687.4,78.4 L688.1,78.5 L688.8,78.7 L689.5,78.8 L690.2,79.0 L690.9,79.2 L691.6,79.4 L692.3,79.6 L693.0,79.8 L693.7,80.1 L694.4,80.3 L695.1,80.6 M671.3,77.7 L672.0,77.7 L672.7,77.7 L673.4,77.8 L674.1,77.8 L674.8,77.9 L675.5,78.0 L676.2,78.1 L676.9,78.2 L677.6,78.3 L678.3,78.5 L679.0,78.6 L679.7,78.8 L680.4,79.0 L681.1,79.2 L681.8,79.4 L682.5,79.6 L683.2,79.8 L683.9,80.0 L684.6,80.3 L685.3,80.5 L686.0,80.8 L686.7,81.1 L687.4,81.3 L688.1,81.6 L688.8,81.9 L689.5,82.2 L690.2,82.5 L690.9,82.8 L691.6,83.1 L692.3,83.4 L693.0,83.7 L693.7,84.0 L694.4,84.4 L695.1,84.7 M661.5,77.7 L662.2,77.7 L662.9,77.7 L663.6,77.8 L664.3,77.8 L665.0,77.9 L665.7,78.0 L666.4,78.1 L667.1,78.2 L667.8,78.3 L668.5,78.5 L669.2,78.6 L669.9,78.8 L670.6,78.9 L671.3,79.1 L672.0,79.3 L672.7,79.5 L673.4,79.8 L674.1,80.0 L674.8,80.2 L675.5,80.5 L676.2,80.7 L676.9,81.0 L677.6,81.3 L678.3,81.6 L679.0,81.8 L679.7,82.1 L680.4,82.4 L681.1,82.7 L681.8,83.0 L682.5,83.4 L683.2,83.7 L683.9,84.0 L684.6,84.3 L685.3,84.6 L686.0,84.9 L686.7,85.3 L687.4,85.6 L688.1,85.9 L688.8,86.2 L689.5,86.5 L690.2,86.8 L690.9,87.1 L691.6,87.4 L692.3,87.7 L693.0,88.0 L693.7,88.3 L694.4,88.5 L695.1,88.8 M651.7,77.7 L652.4,77.7 L653.1,77.7 L653.8,77.8 L654.5,77.8 L655.2,77.9 L655.9,78.0 L656.6,78.1 L657.3,78.2 L658.0,78.3 L658.7,78.4 L659.4,78.6 L660.1,78.7 L660.8,78.9 L661.5,79.1 L662.2,79.3 L662.9,79.5 L663.6,79.7 L664.3,79.9 L665.0,80.2 L665.7,80.4 L666.4,80.7 L667.1,80.9 L667.8,81.2 L668.5,81.5 L669.2,81.8 L669.9,82.1 L670.6,82.4 L671.3,82.7 L672.0,83.0 L672.7,83.3 L673.4,83.6 L674.1,83.9 L674.8,84.2 L675.5,84.6 L676.2,84.9 L676.9,85.2 L677.6,85.5 L678.3,85.8 L679.0,86.1 L679.7,86.5 L680.4,86.8 L681.1,87.1 L681.8,87.4 L682.5,87.7 L683.2,87.9 L683.9,88.2 L684.6,88.5 L685.3,88.8 L686.0,89.0 L686.7,89.3 L687.4,89.5 L688.1,89.7 L688.8,89.9 L689.5,90.1 L690.2,90.3 L690.9,90.5 L691.6,90.7 L692.3,90.8 L693.0,91.0 L693.7,91.1 L694.4,91.2 L695.1,91.4 M646.8,78.0 L647.5,78.1 L648.2,78.3 L648.9,78.4 L649.6,78.5 L650.3,78.7 L651.0,78.9 L651.7,79.1 L652.4,79.2 L653.1,79.5 L653.8,79.7 L654.5,79.9 L655.2,80.1 L655.9,80.4 L656.6,80.6 L657.3,80.9 L658.0,81.2 L658.7,81.4 L659.4,81.7 L660.1,82.0 L660.8,82.3 L661.5,82.6 L662.2,82.9 L662.9,83.2 L663.6,83.6 L664.3,83.9 L665.0,84.2 L665.7,84.5 L666.4,84.8 L667.1,85.1 L667.8,85.5 L668.5,85.8 L669.2,86.1 L669.9,86.4 L670.6,86.7 L671.3,87.0 L672.0,87.3 L672.7,87.6 L673.4,87.9 L674.1,88.2 L674.8,88.4 L675.5,88.7 L676.2,89.0 L676.9,89.2 L677.6,89.4 L678.3,89.7 L679.0,89.9 L679.7,90.1 L680.4,90.3 L681.1,90.5 L681.8,90.7 L682.5,90.8 L683.2,91.0 L683.9,91.1 L684.6,91.2 L685.3,91.3 L686.0,91.4 L686.7,91.5 L687.4,91.6 L688.1,91.6 L688.8,91.7 L689.5,91.7 L690.2,91.7 M646.8,80.6 L647.5,80.8 L648.2,81.1 L648.9,81.4 L649.6,81.7 L650.3,82.0 L651.0,82.3 L651.7,82.6 L652.4,82.9 L653.1,83.2 L653.8,83.5 L654.5,83.8 L655.2,84.1 L655.9,84.4 L656.6,84.8 L657.3,85.1 L658.0,85.4 L658.7,85.7 L659.4,86.0 L660.1,86.3 L660.8,86.6 L661.5,86.9 L662.2,87.2 L662.9,87.5 L663.6,87.8 L664.3,88.1 L665.0,88.4 L665.7,88.7 L666.4,88.9 L667.1,89.2 L667.8,89.4 L668.5,89.6 L669.2,89.9 L669.9,90.1 L670.6,90.3 L671.3,90.5 L672.0,90.6 L672.7,90.8 L673.4,90.9 L674.1,91.1 L674.8,91.2 L675.5,91.3 L676.2,91.4 L676.9,91.5 L677.6,91.6 L678.3,91.6 L679.0,91.7 L679.7,91.7 L680.4,91.7 M646.8,84.7 L647.5,84.4 L648.2,84.1 L648.9,83.7 L649.6,83.4 L650.3,83.1 L651.0,82.8 L651.7,82.5 L652.4,82.2 L653.1,81.9 L653.8,81.6 L654.5,81.3 L655.2,81.1 L655.9,80.8 L656.6,80.5 L657.3,80.3 L658.0,80.0 L658.7,79.8 L659.4,79.6 L660.1,79.4 L660.8,79.2 L661.5,79.0 L662.2,78.8 L662.9,78.6 L663.6,78.5 L664.3,78.3 L665.0,78.2 L665.7,78.1 L666.4,78.0 L667.1,77.9 L667.8,77.8 L668.5,77.8 L669.2,77.7 L669.9,77.7 L670.6,77.7 M646.8,88.8 L647.5,88.6 L648.2,88.3 L648.9,88.0 L649.6,87.7 L650.3,87.4 L651.0,87.1 L651.7,86.8 L652.4,86.5 L653.1,86.2 L653.8,85.9 L654.5,85.6 L655.2,85.3 L655.9,85.0 L656.6,84.6 L657.3,84.3 L658.0,84.0 L658.7,83.7 L659.4,83.4 L660.1,83.1 L660.8,82.8 L661.5,82.5 L662.2,82.2 L662.9,81.9 L663.6,81.6 L664.3,81.3 L665.0,81.0 L665.7,80.7 L666.4,80.5 L667.1,80.2 L667.8,80.0 L668.5,79.8 L669.2,79.5 L669.9,79.3 L670.6,79.1 L671.3,78.9 L672.0,78.8 L672.7,78.6 L673.4,78.5 L674.1,78.3 L674.8,78.2 L675.5,78.1 L676.2,78.0 L676.9,77.9 L677.6,77.8 L678.3,77.8 L679.0,77.7 L679.7,77.7 L680.4,77.7 M646.8,91.4 L647.5,91.3 L648.2,91.1 L648.9,91.0 L649.6,90.9 L650.3,90.7 L651.0,90.5 L651.7,90.3 L652.4,90.2 L653.1,89.9 L653.8,89.7 L654.5,89.5 L655.2,89.3 L655.9,89.0 L656.6,88.8 L657.3,88.5 L658.0,88.2 L658.7,88.0 L659.4,87.7 L660.1,87.4 L660.8,87.1 L661.5,86.8 L662.2,86.5 L662.9,86.2 L663.6,85.8 L664.3,85.5 L665.0,85.2 L665.7,84.9 L666.4,84.6 L667.1,84.3 L667.8,83.9 L668.5,83.6 L669.2,83.3 L669.9,83.0 L670.6,82.7 L671.3,82.4 L672.0,82.1 L672.7,81.8 L673.4,81.5 L674.1,81.2 L674.8,81.0 L675.5,80.7 L676.2,80.4 L676.9,80.2 L677.6,80.0 L678.3,79.7 L679.0,79.5 L679.7,79.3 L680.4,79.1 L681.1,78.9 L681.8,78.7 L682.5,78.6 L683.2,78.4 L683.9,78.3 L684.6,78.2 L685.3,78.1 L686.0,78.0 L686.7,77.9 L687.4,77.8 L688.1,77.8 L688.8,77.7 L689.5,77.7 L690.2,77.7 M651.7,91.7 L652.4,91.7 L653.1,91.7 L653.8,91.6 L654.5,91.6 L655.2,91.5 L655.9,91.4 L656.6,91.3 L657.3,91.2 L658.0,91.1 L658.7,91.0 L659.4,90.8 L660.1,90.7 L660.8,90.5 L661.5,90.3 L662.2,90.1 L662.9,89.9 L663.6,89.7 L664.3,89.5 L665.0,89.2 L665.7,89.0 L666.4,88.7 L667.1,88.5 L667.8,88.2 L668.5,87.9 L669.2,87.6 L669.9,87.3 L670.6,87.0 L671.3,86.7 L672.0,86.4 L672.7,86.1 L673.4,85.8 L674.1,85.5 L674.8,85.2 L675.5,84.8 L676.2,84.5 L676.9,84.2 L677.6,83.9 L678.3,83.6 L679.0,83.3 L679.7,82.9 L680.4,82.6 L681.1,82.3 L681.8,82.0 L682.5,81.7 L683.2,81.5 L683.9,81.2 L684.6,80.9 L685.3,80.6 L686.0,80.4 L686.7,80.1 L687.4,79.9 L688.1,79.7 L688.8,79.5 L689.5,79.3 L690.2,79.1 L690.9,78.9 L691.6,78.7 L692.3,78.6 L693.0,78.4 L693.7,78.3 L694.4,78.2 L695.1,78.0 M661.5,91.7 L662.2,91.7 L662.9,91.7 L663.6,91.6 L664.3,91.6 L665.0,91.5 L665.7,91.4 L666.4,91.3 L667.1,91.2 L667.8,91.1 L668.5,90.9 L669.2,90.8 L669.9,90.6 L670.6,90.5 L671.3,90.3 L672.0,90.1 L672.7,89.9 L673.4,89.6 L674.1,89.4 L674.8,89.2 L675.5,88.9 L676.2,88.7 L676.9,88.4 L677.6,88.1 L678.3,87.8 L679.0,87.6 L679.7,87.3 L680.4,87.0 L681.1,86.7 L681.8,86.4 L682.5,86.0 L683.2,85.7 L683.9,85.4 L684.6,85.1 L685.3,84.8 L686.0,84.5 L686.7,84.1 L687.4,83.8 L688.1,83.5 L688.8,83.2 L689.5,82.9 L690.2,82.6 L690.9,82.3 L691.6,82.0 L692.3,81.7 L693.0,81.4 L693.7,81.1 L694.4,80.9 L695.1,80.6 M671.3,91.7 L672.0,91.7 L672.7,91.7 L673.4,91.6 L674.1,91.6 L674.8,91.5 L675.5,91.4 L676.2,91.3 L676.9,91.2 L677.6,91.1 L678.3,90.9 L679.0,90.8 L679.7,90.6 L680.4,90.4 L681.1,90.2 L681.8,90.0 L682.5,89.8 L683.2,89.6 L683.9,89.4 L684.6,89.1 L685.3,88.9 L686.0,88.6 L686.7,88.3 L687.4,88.1 L688.1,87.8 L688.8,87.5 L689.5,87.2 L690.2,86.9 L690.9,86.6 L691.6,86.3 L692.3,86.0 L693.0,85.7 L693.7,85.4 L694.4,85.0 L695.1,84.7 M680.4,91.7 L681.1,91.7 L681.8,91.7 L682.5,91.6 L683.2,91.6 L683.9,91.5 L684.6,91.5 L685.3,91.4 L686.0,91.3 L686.7,91.2 L687.4,91.0 L688.1,90.9 L688.8,90.7 L689.5,90.6 L690.2,90.4 L690.9,90.2 L691.6,90.0 L692.3,89.8 L693.0,89.6 L693.7,89.3 L694.4,89.1 L695.1,88.8 M690.2,91.7 L690.9,91.7 L691.6,91.7 L692.3,91.6 L693.0,91.6 L693.7,91.5 L694.4,91.5 L695.1,91.4 M646.8,78.0 L647.5,78.0 L648.2,77.9 L648.9,77.8 L649.6,77.8 L650.3,77.7 L651.0,77.7 L651.7,77.7 M646.8,80.6 L647.5,80.3 L648.2,80.1 L648.9,79.9 L649.6,79.6 L650.3,79.4 L651.0,79.2 L651.7,79.0 L652.4,78.8 L653.1,78.7 L653.8,78.5 L654.5,78.4 L655.2,78.2 L655.9,78.1 L656.6,78.0 L657.3,77.9 L658.0,77.9 L658.7,77.8 L659.4,77.8 L660.1,77.7 L660.8,77.7 L661.5,77.7" stroke="#000" stroke-width="1.1" fill="none"/></g>
<rect x="646.8" y="77.8" width="48.8" height="13.8" stroke="#000" stroke-width="1.2" fill="none"/>
<path d="M401,634 L401,148 L494,148 L494,168.7 M494,217 L494,634" stroke="#111" stroke-width="2.0" fill="none" stroke-linejoin="round" stroke-linecap="round"/>
<path d="M494,168.7 L847.3,168.7 L857.8,223.9 L803.7,231.7 L800.6,217 L494,217 Q479,193 494,168.7" stroke="#111" stroke-width="2.0" fill="none" stroke-linejoin="round" stroke-linecap="round"/>
<path d="M800.6,217 L847.3,168.7" stroke="#111" stroke-width="2.0" fill="none" stroke-linejoin="round" stroke-linecap="round"/>
<path d="M448,193 L822,193" stroke="#b4b4b4" stroke-width="1.4" fill="none" stroke-dasharray="34 6.3 7 6.3" stroke-dashoffset="15.5"/>
<path d="M447.5,147 L447.5,154 M447.5,157 L447.5,166 M447.5,173.3 L447.5,201.5 M447.5,203.7 L447.5,209.6 M447.5,212.6 L447.5,214 M447.5,220 L447.5,248 M447.5,250 L447.5,254.5 M447.5,257 L447.5,263 M447.5,266.7 L447.5,474 M447.5,477 L447.5,481 M447.5,487 L447.5,515 M447.5,518 L447.5,521 M447.5,532.6 L447.5,560 M447.5,562 L447.5,567 M447.5,577 L447.5,603 M447.5,607 L447.5,610 M447.5,617.8 L447.5,634" stroke="#b4b4b4" stroke-width="1.4" fill="none"/>
<path d="M824.8,192.8 L841.5,290.4" stroke="#8a8a8a" stroke-width="1.1" fill="none"/>
<path d="M830.4,228 L830.4,478.4" stroke="#8a8a8a" stroke-width="1.1" fill="none"/>
<path d="M830,228.2 L922,228.2" stroke="#8a8a8a" stroke-width="1.1" fill="none"/>
<path d="M739.4,243.7 Q800,290 835,282.6 Q862,279 876.5,264.2" stroke="#8a8a8a" stroke-width="1.1" fill="none"/>
<path d="M834.70,282.60 L809.47,275.63 L808.53,282.77 Z" fill="#000"/>
<path d="M835.70,281.70 L860.92,279.59 L859.08,272.01 Z" fill="#000"/>
<text transform="translate(787.3,250.3) rotate(28) scale(0.45,0.37) translate(-27.8,36)" font-size="100" fill="#000" stroke="#000" stroke-width="1.5">9</text>
<circle cx="809.7" cy="255.3" r="4.9" stroke="#000" stroke-width="3.1" fill="none"/>
<path d="M443,469.4 L835,469.4" stroke="#8a8a8a" stroke-width="1.1" fill="none"/>
<path d="M443.20,469.40 L468.80,473.10 L468.80,465.70 Z" fill="#000"/>
<path d="M834.70,469.40 L808.80,465.70 L808.80,473.10 Z" fill="#000"/>
<text transform="translate(605.90,466.30) rotate(0) scale(0.4030,0.4145)" font-size="100" fill="#000" stroke="#000" stroke-width="1.223" stroke-linejoin="round">173</text>
<path d="M912,226 L912,646" stroke="#8a8a8a" stroke-width="1.1" fill="none"/>
<path d="M912.00,225.30 L908.10,246.74 L916.30,246.66 Z" fill="#000"/>
<path d="M912.00,647.10 L916.00,625.38 L907.80,625.42 Z" fill="#000"/>
<path d="M578,644.35 L923,644.35" stroke="#8a8a8a" stroke-width="1.1" fill="none"/>
<text transform="translate(901.50,483.90) rotate(-90) scale(0.4078,0.4115)" font-size="100" fill="#000" stroke="#000" stroke-width="1.221" stroke-linejoin="round">243</text>
<path d="M383,615.1 L589,615.1" stroke="#8a8a8a" stroke-width="1.1" fill="none"/>
<path d="M386,605.6 L386,634 M509,605.6 L509,634" stroke="#8a8a8a" stroke-width="1.1" fill="none"/>
<path d="M383.30,615.10 L407.80,618.70 L407.80,611.50 Z" fill="#000"/>
<path d="M511.00,615.10 L487.10,611.50 L487.10,618.70 Z" fill="#000"/>
<text transform="translate(516.40,611.60) rotate(0) scale(0.4099,0.3928)" font-size="100" fill="#000" stroke="#000" stroke-width="1.246" stroke-linejoin="round">ø48</text>
<g clip-path="url(#rclip)"><path d="M447.4,634.0 L447.7,634.5 M447.7,634.5 L448.1,635.0 M448.1,635.0 L448.4,635.5 M448.4,635.5 L448.8,636.0 M448.8,636.0 L449.1,636.5 M449.1,636.5 L449.4,637.0 M449.4,637.0 L449.8,637.5 M449.8,637.5 L450.1,638.0 M450.1,638.0 L450.5,638.5 M450.5,638.5 L450.8,639.0 M450.8,639.0 L451.1,639.5 M451.1,639.5 L451.5,640.0 M451.5,640.0 L451.8,640.5 M451.8,640.5 L452.2,641.0 M452.2,641.0 L452.5,641.5 M452.5,641.5 L452.8,642.0 M452.8,642.0 L453.2,642.5 M453.2,642.5 L453.5,643.0 M453.5,643.0 L453.9,643.5 M453.9,643.5 L454.2,644.0 M454.2,644.0 L454.3,644.2 M451.9,634.0 L452.3,634.5 M452.3,634.5 L452.6,635.0 M452.6,635.0 L452.9,635.5 M452.9,635.5 L453.3,636.0 M453.3,636.0 L453.6,636.5 M453.6,636.5 L454.0,637.0 M454.0,637.0 L454.3,637.5 M454.3,637.5 L454.6,638.0 M454.6,638.0 L455.0,638.5 M455.0,638.5 L455.3,639.0 M455.3,639.0 L455.7,639.5 M455.7,639.5 L456.0,640.0 M456.0,640.0 L456.3,640.5 M456.3,640.5 L456.7,641.0 M456.7,641.0 L457.0,641.5 M457.0,641.5 L457.3,642.0 M457.3,642.0 L457.7,642.5 M457.7,642.5 L458.0,643.0 M458.0,643.0 L458.4,643.5 M458.4,643.5 L458.7,644.0 M458.7,644.0 L458.8,644.2 M456.4,634.0 L456.8,634.5 M456.8,634.5 L457.1,635.0 M457.1,635.0 L457.4,635.5 M457.4,635.5 L457.8,636.0 M457.8,636.0 L458.1,636.5 M458.1,636.5 L458.4,637.0 M458.4,637.0 L458.8,637.5 M458.8,637.5 L459.1,638.0 M459.1,638.0 L459.5,638.5 M459.5,638.5 L459.8,639.0 M459.8,639.0 L460.1,639.5 M460.1,639.5 L460.5,640.0 M460.5,640.0 L460.8,640.5 M460.8,640.5 L461.1,641.0 M461.1,641.0 L461.5,641.5 M461.5,641.5 L461.8,642.0 M461.8,642.0 L462.1,642.5 M462.1,642.5 L462.4,643.0 M462.4,643.0 L462.8,643.5 M462.8,643.5 L463.1,644.0 M463.1,644.0 L463.2,644.2 M460.9,634.0 L461.2,634.5 M461.2,634.5 L461.5,635.0 M461.5,635.0 L461.9,635.5 M461.9,635.5 L462.2,636.0 M462.2,636.0 L462.5,636.5 M462.5,636.5 L462.9,637.0 M462.9,637.0 L463.2,637.5 M463.2,637.5 L463.5,638.0 M463.5,638.0 L463.9,638.5 M463.9,638.5 L464.2,639.0 M464.2,639.0 L464.5,639.5 M464.5,639.5 L464.8,640.0 M464.8,640.0 L465.2,640.5 M465.2,640.5 L465.5,641.0 M465.5,641.0 L465.8,641.5 M465.8,641.5 L466.1,642.0 M466.1,642.0 L466.5,642.5 M466.5,642.5 L466.8,643.0 M466.8,643.0 L467.1,643.5 M467.1,643.5 L467.4,644.0 M467.4,644.0 L467.6,644.2 M465.3,634.0 L465.6,634.5 M465.6,634.5 L465.9,635.0 M465.9,635.0 L466.2,635.5 M466.2,635.5 L466.6,636.0 M466.6,636.0 L466.9,636.5 M466.9,636.5 L467.2,637.0 M467.2,637.0 L467.5,637.5 M467.5,637.5 L467.9,638.0 M467.9,638.0 L468.2,638.5 M468.2,638.5 L468.5,639.0 M468.5,639.0 L468.8,639.5 M468.8,639.5 L469.1,640.0 M469.1,640.0 L469.5,640.5 M469.5,640.5 L469.8,641.0 M469.8,641.0 L470.1,641.5 M470.1,641.5 L470.4,642.0 M470.4,642.0 L470.7,642.5 M470.7,642.5 L471.0,643.0 M471.0,643.0 L471.4,643.5 M471.4,643.5 L471.7,644.0 M471.7,644.0 L471.8,644.2 M469.5,634.0 L469.9,634.5 M469.9,634.5 L470.2,635.0 M470.2,635.0 L470.5,635.5 M470.5,635.5 L470.8,636.0 M470.8,636.0 L471.1,636.5 M471.1,636.5 L471.4,637.0 M471.4,637.0 L471.8,637.5 M471.8,637.5 L472.1,638.0 M472.1,638.0 L472.4,638.5 M472.4,638.5 L472.7,639.0 M472.7,639.0 L473.0,639.5 M473.0,639.5 L473.3,640.0 M473.3,640.0 L473.6,640.5 M473.6,640.5 L473.9,641.0 M473.9,641.0 L474.2,641.5 M474.2,641.5 L474.6,642.0 M474.6,642.0 L474.9,642.5 M474.9,642.5 L475.2,643.0 M475.2,643.0 L475.5,643.5 M475.5,643.5 L475.8,644.0 M475.8,644.0 L475.9,644.2 M473.7,634.0 L474.0,634.5 M474.0,634.5 L474.3,635.0 M474.3,635.0 L474.6,635.5 M474.6,635.5 L474.9,636.0 M474.9,636.0 L475.2,636.5 M475.2,636.5 L475.6,637.0 M475.6,637.0 L475.9,637.5 M475.9,637.5 L476.2,638.0 M476.2,638.0 L476.5,638.5 M476.5,638.5 L476.8,639.0 M476.8,639.0 L477.1,639.5 M477.1,639.5 L477.4,640.0 M477.4,640.0 L477.7,640.5 M477.7,640.5 L478.0,641.0 M478.0,641.0 L478.3,641.5 M478.3,641.5 L478.5,642.0 M478.5,642.0 L478.8,642.5 M478.8,642.5 L479.1,643.0 M479.1,643.0 L479.4,643.5 M479.4,643.5 L479.7,644.0 M479.7,644.0 L479.8,644.2 M477.7,634.0 L478.0,634.5 M478.0,634.5 L478.3,635.0 M478.3,635.0 L478.6,635.5 M478.6,635.5 L478.9,636.0 M478.9,636.0 L479.2,636.5 M479.2,636.5 L479.5,637.0 M479.5,637.0 L479.8,637.5 M479.8,637.5 L480.1,638.0 M480.1,638.0 L480.4,638.5 M480.4,638.5 L480.7,639.0 M480.7,639.0 L481.0,639.5 M481.0,639.5 L481.2,640.0 M481.2,640.0 L481.5,640.5 M481.5,640.5 L481.8,641.0 M481.8,641.0 L482.1,641.5 M482.1,641.5 L482.4,642.0 M482.4,642.0 L482.7,642.5 M482.7,642.5 L482.9,643.0 M482.9,643.0 L483.2,643.5 M483.2,643.5 L483.5,644.0 M483.5,644.0 L483.6,644.2 M481.6,634.0 L481.9,634.5 M481.9,634.5 L482.2,635.0 M482.2,635.0 L482.5,635.5 M482.5,635.5 L482.7,636.0 M482.7,636.0 L483.0,636.5 M483.0,636.5 L483.3,637.0 M483.3,637.0 L483.6,637.5 M483.6,637.5 L483.9,638.0 M483.9,638.0 L484.1,638.5 M484.1,638.5 L484.4,639.0 M484.4,639.0 L484.7,639.5 M484.7,639.5 L484.9,640.0 M484.9,640.0 L485.2,640.5 M485.2,640.5 L485.5,641.0 M485.5,641.0 L485.8,641.5 M485.8,641.5 L486.0,642.0 M486.0,642.0 L486.3,642.5 M486.3,642.5 L486.6,643.0 M486.6,643.0 L486.8,643.5 M486.8,643.5 L487.1,644.0 M487.1,644.0 L487.2,644.2 M485.3,634.0 L485.6,634.5 M485.6,634.5 L485.8,635.0 M485.8,635.0 L486.1,635.5 M486.1,635.5 L486.4,636.0 M486.4,636.0 L486.6,636.5 M486.6,636.5 L486.9,637.0 M486.9,637.0 L487.2,637.5 M487.2,637.5 L487.4,638.0 M487.4,638.0 L487.7,638.5 M487.7,638.5 L487.9,639.0 M487.9,639.0 L488.2,639.5 M488.2,639.5 L488.4,640.0 M488.4,640.0 L488.7,640.5 M488.7,640.5 L489.0,641.0 M489.0,641.0 L489.2,641.5 M489.2,641.5 L489.5,642.0 M489.5,642.0 L489.7,642.5 M489.7,642.5 L490.0,643.0 M490.0,643.0 L490.2,643.5 M490.2,643.5 L490.5,644.0 M490.5,644.0 L490.5,644.2 M488.8,634.0 L489.0,634.5 M489.0,634.5 L489.3,635.0 M489.3,635.0 L489.5,635.5 M489.5,635.5 L489.8,636.0 M489.8,636.0 L490.0,636.5 M490.0,636.5 L490.3,637.0 M490.3,637.0 L490.5,637.5 M490.5,637.5 L490.8,638.0 M490.8,638.0 L491.0,638.5 M491.0,638.5 L491.2,639.0 M491.2,639.0 L491.5,639.5 M491.5,639.5 L491.7,640.0 M491.7,640.0 L492.0,640.5 M492.0,640.5 L492.2,641.0 M492.2,641.0 L492.4,641.5 M492.4,641.5 L492.7,642.0 M492.7,642.0 L492.9,642.5 M492.9,642.5 L493.1,643.0 M493.1,643.0 L493.4,643.5 M493.4,643.5 L493.6,644.0 M493.6,644.0 L493.7,644.2 M492.0,634.0 L492.3,634.5 M492.3,634.5 L492.5,635.0 M492.5,635.0 L492.7,635.5 M492.7,635.5 L493.0,636.0 M493.0,636.0 L493.2,636.5 M493.2,636.5 L493.4,637.0 M493.4,637.0 L493.7,637.5 M493.7,637.5 L493.9,638.0 M493.9,638.0 L494.1,638.5 M494.1,638.5 L494.3,639.0 M494.3,639.0 L494.6,639.5 M494.6,639.5 L494.8,640.0 M494.8,640.0 L495.0,640.5 M495.0,640.5 L495.2,641.0 M495.2,641.0 L495.4,641.5 M495.4,641.5 L495.6,642.0 M495.6,642.0 L495.9,642.5 M495.9,642.5 L496.1,643.0 M496.1,643.0 L496.3,643.5 M496.3,643.5 L496.5,644.0 M496.5,644.0 L496.6,644.2 M495.1,634.0 L495.3,634.5 M495.3,634.5 L495.5,635.0 M495.5,635.0 L495.7,635.5 M495.7,635.5 L495.9,636.0 M495.9,636.0 L496.1,636.5 M496.1,636.5 L496.3,637.0 M496.3,637.0 L496.5,637.5 M496.5,637.5 L496.8,638.0 M496.8,638.0 L497.0,638.5 M497.0,638.5 L497.2,639.0 M497.2,639.0 L497.4,639.5 M497.4,639.5 L497.6,640.0 M497.6,640.0 L497.8,640.5 M497.8,640.5 L498.0,641.0 M498.0,641.0 L498.2,641.5 M498.2,641.5 L498.4,642.0 M498.4,642.0 L498.6,642.5 M498.6,642.5 L498.7,643.0 M498.7,643.0 L498.9,643.5 M498.9,643.5 L499.1,644.0 M499.1,644.0 L499.2,644.2 M497.8,634.0 L498.0,634.5 M498.0,634.5 L498.2,635.0 M498.2,635.0 L498.4,635.5 M498.4,635.5 L498.6,636.0 M498.6,636.0 L498.8,636.5 M498.8,636.5 L499.0,637.0 M499.0,637.0 L499.2,637.5 M499.2,637.5 L499.4,638.0 M499.4,638.0 L499.5,638.5 M499.5,638.5 L499.7,639.0 M499.7,639.0 L499.9,639.5 M499.9,639.5 L500.1,640.0 M500.1,640.0 L500.3,640.5 M500.3,640.5 L500.4,641.0 M500.4,641.0 L500.6,641.5 M500.6,641.5 L500.8,642.0 M500.8,642.0 L501.0,642.5 M501.0,642.5 L501.1,643.0 M500.3,634.0 L500.5,634.5 M500.5,634.5 L500.7,635.0 M500.7,635.0 L500.8,635.5 M500.8,635.5 L501.0,636.0 M393.7,638.5 L393.9,639.0 M393.9,639.0 L394.1,639.5 M394.1,639.5 L394.3,640.0 M394.3,640.0 L394.4,640.5 M394.4,640.5 L394.6,641.0 M394.6,641.0 L394.8,641.5 M394.8,641.5 L395.0,642.0 M395.0,642.0 L395.1,642.5 M395.1,642.5 L395.3,643.0 M395.3,643.0 L395.5,643.5 M395.5,643.5 L395.7,644.0 M395.7,644.0 L395.8,644.2 M394.5,634.0 L394.7,634.5 M394.7,634.5 L394.8,635.0 M394.8,635.0 L395.0,635.5 M395.0,635.5 L395.2,636.0 M395.2,636.0 L395.4,636.5 M395.4,636.5 L395.6,637.0 M395.6,637.0 L395.8,637.5 M395.8,637.5 L395.9,638.0 M395.9,638.0 L396.1,638.5 M396.1,638.5 L396.3,639.0 M396.3,639.0 L396.5,639.5 M396.5,639.5 L396.7,640.0 M396.7,640.0 L396.9,640.5 M396.9,640.5 L397.1,641.0 M397.1,641.0 L397.3,641.5 M397.3,641.5 L397.5,642.0 M397.5,642.0 L397.7,642.5 M397.7,642.5 L397.9,643.0 M397.9,643.0 L398.1,643.5 M398.1,643.5 L398.3,644.0 M398.3,644.0 L398.4,644.2 M397.0,634.0 L397.2,634.5 M397.2,634.5 L397.4,635.0 M397.4,635.0 L397.6,635.5 M397.6,635.5 L397.8,636.0 M397.8,636.0 L398.0,636.5 M398.0,636.5 L398.2,637.0 M398.2,637.0 L398.4,637.5 M398.4,637.5 L398.6,638.0 M398.6,638.0 L398.8,638.5 M398.8,638.5 L399.0,639.0 M399.0,639.0 L399.2,639.5 M399.2,639.5 L399.5,640.0 M399.5,640.0 L399.7,640.5 M399.7,640.5 L399.9,641.0 M399.9,641.0 L400.1,641.5 M400.1,641.5 L400.3,642.0 M400.3,642.0 L400.6,642.5 M400.6,642.5 L400.8,643.0 M400.8,643.0 L401.0,643.5 M401.0,643.5 L401.2,644.0 M401.2,644.0 L401.3,644.2 M399.7,634.0 L400.0,634.5 M400.0,634.5 L400.2,635.0 M400.2,635.0 L400.4,635.5 M400.4,635.5 L400.6,636.0 M400.6,636.0 L400.9,636.5 M400.9,636.5 L401.1,637.0 M401.1,637.0 L401.3,637.5 M401.3,637.5 L401.5,638.0 M401.5,638.0 L401.8,638.5 M401.8,638.5 L402.0,639.0 M402.0,639.0 L402.2,639.5 M402.2,639.5 L402.5,640.0 M402.5,640.0 L402.7,640.5 M402.7,640.5 L402.9,641.0 M402.9,641.0 L403.2,641.5 M403.2,641.5 L403.4,642.0 M403.4,642.0 L403.7,642.5 M403.7,642.5 L403.9,643.0 M403.9,643.0 L404.1,643.5 M404.1,643.5 L404.4,644.0 M404.4,644.0 L404.5,644.2 M402.8,634.0 L403.0,634.5 M403.0,634.5 L403.2,635.0 M403.2,635.0 L403.5,635.5 M403.5,635.5 L403.7,636.0 M403.7,636.0 L404.0,636.5 M404.0,636.5 L404.2,637.0 M404.2,637.0 L404.5,637.5 M404.5,637.5 L404.7,638.0 M404.7,638.0 L404.9,638.5 M404.9,638.5 L405.2,639.0 M405.2,639.0 L405.4,639.5 M405.4,639.5 L405.7,640.0 M405.7,640.0 L406.0,640.5 M406.0,640.5 L406.2,641.0 M406.2,641.0 L406.5,641.5 M406.5,641.5 L406.7,642.0 M406.7,642.0 L407.0,642.5 M407.0,642.5 L407.2,643.0 M407.2,643.0 L407.5,643.5 M407.5,643.5 L407.8,644.0 M407.8,644.0 L407.9,644.2 M406.0,634.0 L406.3,634.5 M406.3,634.5 L406.5,635.0 M406.5,635.0 L406.8,635.5 M406.8,635.5 L407.1,636.0 M407.1,636.0 L407.3,636.5 M407.3,636.5 L407.6,637.0 M407.6,637.0 L407.8,637.5 M407.8,637.5 L408.1,638.0 M408.1,638.0 L408.4,638.5 M408.4,638.5 L408.6,639.0 M408.6,639.0 L408.9,639.5 M408.9,639.5 L409.2,640.0 M409.2,640.0 L409.4,640.5 M409.4,640.5 L409.7,641.0 M409.7,641.0 L410.0,641.5 M410.0,641.5 L410.2,642.0 M410.2,642.0 L410.5,642.5 M410.5,642.5 L410.8,643.0 M410.8,643.0 L411.1,643.5 M411.1,643.5 L411.3,644.0 M411.3,644.0 L411.5,644.2 M409.5,634.0 L409.8,634.5 M409.8,634.5 L410.0,635.0 M410.0,635.0 L410.3,635.5 M410.3,635.5 L410.6,636.0 M410.6,636.0 L410.9,636.5 M410.9,636.5 L411.1,637.0 M411.1,637.0 L411.4,637.5 M411.4,637.5 L411.7,638.0 M411.7,638.0 L412.0,638.5 M412.0,638.5 L412.3,639.0 M412.3,639.0 L412.5,639.5 M412.5,639.5 L412.8,640.0 M412.8,640.0 L413.1,640.5 M413.1,640.5 L413.4,641.0 M413.4,641.0 L413.7,641.5 M413.7,641.5 L414.0,642.0 M414.0,642.0 L414.3,642.5 M414.3,642.5 L414.5,643.0 M414.5,643.0 L414.8,643.5 M414.8,643.5 L415.1,644.0 M415.1,644.0 L415.2,644.2 M413.2,634.0 L413.5,634.5 M413.5,634.5 L413.8,635.0 M413.8,635.0 L414.0,635.5 M414.0,635.5 L414.3,636.0 M414.3,636.0 L414.6,636.5 M414.6,636.5 L414.9,637.0 M414.9,637.0 L415.2,637.5 M415.2,637.5 L415.5,638.0 M415.5,638.0 L415.8,638.5 M415.8,638.5 L416.1,639.0 M416.1,639.0 L416.4,639.5 M416.4,639.5 L416.7,640.0 M416.7,640.0 L417.0,640.5 M417.0,640.5 L417.3,641.0 M417.3,641.0 L417.6,641.5 M417.6,641.5 L417.9,642.0 M417.9,642.0 L418.2,642.5 M418.2,642.5 L418.5,643.0 M418.5,643.0 L418.8,643.5 M418.8,643.5 L419.1,644.0 M419.1,644.0 L419.2,644.2 M417.1,634.0 L417.4,634.5 M417.4,634.5 L417.7,635.0 M417.7,635.0 L418.0,635.5 M418.0,635.5 L418.3,636.0 M418.3,636.0 L418.6,636.5 M418.6,636.5 L418.9,637.0 M418.9,637.0 L419.2,637.5 M419.2,637.5 L419.5,638.0 M419.5,638.0 L419.8,638.5 M419.8,638.5 L420.1,639.0 M420.1,639.0 L420.4,639.5 M420.4,639.5 L420.7,640.0 M420.7,640.0 L421.0,640.5 M421.0,640.5 L421.3,641.0 M421.3,641.0 L421.6,641.5 M421.6,641.5 L421.9,642.0 M421.9,642.0 L422.2,642.5 M422.2,642.5 L422.5,643.0 M422.5,643.0 L422.9,643.5 M422.9,643.5 L423.2,644.0 M423.2,644.0 L423.3,644.2 M421.1,634.0 L421.4,634.5 M421.4,634.5 L421.7,635.0 M421.7,635.0 L422.0,635.5 M422.0,635.5 L422.3,636.0 M422.3,636.0 L422.6,636.5 M422.6,636.5 L423.0,637.0 M423.0,637.0 L423.3,637.5 M423.3,637.5 L423.6,638.0 M423.6,638.0 L423.9,638.5 M423.9,638.5 L424.2,639.0 M424.2,639.0 L424.5,639.5 M424.5,639.5 L424.8,640.0 M424.8,640.0 L425.2,640.5 M425.2,640.5 L425.5,641.0 M425.5,641.0 L425.8,641.5 M425.8,641.5 L426.1,642.0 M426.1,642.0 L426.4,642.5 M426.4,642.5 L426.8,643.0 M426.8,643.0 L427.1,643.5 M427.1,643.5 L427.4,644.0 M427.4,644.0 L427.5,644.2 M425.3,634.0 L425.6,634.5 M425.6,634.5 L425.9,635.0 M425.9,635.0 L426.2,635.5 M426.2,635.5 L426.5,636.0 M426.5,636.0 L426.9,636.5 M426.9,636.5 L427.2,637.0 M427.2,637.0 L427.5,637.5 M427.5,637.5 L427.8,638.0 M427.8,638.0 L428.1,638.5 M428.1,638.5 L428.5,639.0 M428.5,639.0 L428.8,639.5 M428.8,639.5 L429.1,640.0 M429.1,640.0 L429.4,640.5 M429.4,640.5 L429.8,641.0 M429.8,641.0 L430.1,641.5 M430.1,641.5 L430.4,642.0 M430.4,642.0 L430.8,642.5 M430.8,642.5 L431.1,643.0 M431.1,643.0 L431.4,643.5 M431.4,643.5 L431.7,644.0 M431.7,644.0 L431.9,644.2 M429.5,634.0 L429.9,634.5 M429.9,634.5 L430.2,635.0 M430.2,635.0 L430.5,635.5 M430.5,635.5 L430.8,636.0 M430.8,636.0 L431.2,636.5 M431.2,636.5 L431.5,637.0 M431.5,637.0 L431.8,637.5 M431.8,637.5 L432.2,638.0 M432.2,638.0 L432.5,638.5 M432.5,638.5 L432.8,639.0 M432.8,639.0 L433.2,639.5 M433.2,639.5 L433.5,640.0 M433.5,640.0 L433.8,640.5 M433.8,640.5 L434.2,641.0 M434.2,641.0 L434.5,641.5 M434.5,641.5 L434.8,642.0 M434.8,642.0 L435.2,642.5 M435.2,642.5 L435.5,643.0 M435.5,643.0 L435.8,643.5 M435.8,643.5 L436.2,644.0 M436.2,644.0 L436.3,644.2 M433.9,634.0 L434.3,634.5 M434.3,634.5 L434.6,635.0 M434.6,635.0 L434.9,635.5 M434.9,635.5 L435.3,636.0 M435.3,636.0 L435.6,636.5 M435.6,636.5 L435.9,637.0 M435.9,637.0 L436.3,637.5 M436.3,637.5 L436.6,638.0 M436.6,638.0 L436.9,638.5 M436.9,638.5 L437.3,639.0 M437.3,639.0 L437.6,639.5 M437.6,639.5 L437.9,640.0 M437.9,640.0 L438.3,640.5 M438.3,640.5 L438.6,641.0 M438.6,641.0 L439.0,641.5 M439.0,641.5 L439.3,642.0 M439.3,642.0 L439.6,642.5 M439.6,642.5 L440.0,643.0 M440.0,643.0 L440.3,643.5 M440.3,643.5 L440.6,644.0 M440.6,644.0 L440.8,644.2 M438.4,634.0 L438.7,634.5 M438.7,634.5 L439.0,635.0 M439.0,635.0 L439.4,635.5 M439.4,635.5 L439.7,636.0 M439.7,636.0 L440.1,636.5 M440.1,636.5 L440.4,637.0 M440.4,637.0 L440.7,637.5 M440.7,637.5 L441.1,638.0 M441.1,638.0 L441.4,638.5 M441.4,638.5 L441.8,639.0 M441.8,639.0 L442.1,639.5 M442.1,639.5 L442.4,640.0 M442.4,640.0 L442.8,640.5 M442.8,640.5 L443.1,641.0 M443.1,641.0 L443.5,641.5 M443.5,641.5 L443.8,642.0 M443.8,642.0 L444.1,642.5 M444.1,642.5 L444.5,643.0 M444.5,643.0 L444.8,643.5 M444.8,643.5 L445.2,644.0 M445.2,644.0 L445.3,644.2 M442.9,634.0 L443.2,634.5 M443.2,634.5 L443.6,635.0 M443.6,635.0 L443.9,635.5 M443.9,635.5 L444.2,636.0 M444.2,636.0 L444.6,636.5 M444.6,636.5 L444.9,637.0 M444.9,637.0 L445.3,637.5 M445.3,637.5 L445.6,638.0 M445.6,638.0 L445.9,638.5 M445.9,638.5 L446.3,639.0 M446.3,639.0 L446.6,639.5 M446.6,639.5 L447.0,640.0 M447.0,640.0 L447.3,640.5 M447.3,640.5 L447.6,641.0 M447.6,641.0 L448.0,641.5 M448.0,641.5 L448.3,642.0 M448.3,642.0 L448.7,642.5 M448.7,642.5 L449.0,643.0 M449.0,643.0 L449.3,643.5 M449.3,643.5 L449.7,644.0 M449.7,644.0 L449.8,644.2 M447.4,634.0 L447.1,634.5 M447.1,634.5 L446.7,635.0 M446.7,635.0 L446.4,635.5 M446.4,635.5 L446.0,636.0 M446.0,636.0 L445.7,636.5 M445.7,636.5 L445.4,637.0 M445.4,637.0 L445.0,637.5 M445.0,637.5 L444.7,638.0 M444.7,638.0 L444.3,638.5 M444.3,638.5 L444.0,639.0 M444.0,639.0 L443.7,639.5 M443.7,639.5 L443.3,640.0 M443.3,640.0 L443.0,640.5 M443.0,640.5 L442.6,641.0 M442.6,641.0 L442.3,641.5 M442.3,641.5 L442.0,642.0 M442.0,642.0 L441.6,642.5 M441.6,642.5 L441.3,643.0 M441.3,643.0 L440.9,643.5 M440.9,643.5 L440.6,644.0 M440.6,644.0 L440.5,644.2 M451.9,634.0 L451.6,634.5 M451.6,634.5 L451.2,635.0 M451.2,635.0 L450.9,635.5 M450.9,635.5 L450.6,636.0 M450.6,636.0 L450.2,636.5 M450.2,636.5 L449.9,637.0 M449.9,637.0 L449.5,637.5 M449.5,637.5 L449.2,638.0 M449.2,638.0 L448.9,638.5 M448.9,638.5 L448.5,639.0 M448.5,639.0 L448.2,639.5 M448.2,639.5 L447.8,640.0 M447.8,640.0 L447.5,640.5 M447.5,640.5 L447.2,641.0 M447.2,641.0 L446.8,641.5 M446.8,641.5 L446.5,642.0 M446.5,642.0 L446.1,642.5 M446.1,642.5 L445.8,643.0 M445.8,643.0 L445.5,643.5 M445.5,643.5 L445.1,644.0 M445.1,644.0 L445.0,644.2 M456.4,634.0 L456.1,634.5 M456.1,634.5 L455.8,635.0 M455.8,635.0 L455.4,635.5 M455.4,635.5 L455.1,636.0 M455.1,636.0 L454.7,636.5 M454.7,636.5 L454.4,637.0 M454.4,637.0 L454.1,637.5 M454.1,637.5 L453.7,638.0 M453.7,638.0 L453.4,638.5 M453.4,638.5 L453.0,639.0 M453.0,639.0 L452.7,639.5 M452.7,639.5 L452.4,640.0 M452.4,640.0 L452.0,640.5 M452.0,640.5 L451.7,641.0 M451.7,641.0 L451.3,641.5 M451.3,641.5 L451.0,642.0 M451.0,642.0 L450.7,642.5 M450.7,642.5 L450.3,643.0 M450.3,643.0 L450.0,643.5 M450.0,643.5 L449.6,644.0 M449.6,644.0 L449.5,644.2 M460.9,634.0 L460.5,634.5 M460.5,634.5 L460.2,635.0 M460.2,635.0 L459.9,635.5 M459.9,635.5 L459.5,636.0 M459.5,636.0 L459.2,636.5 M459.2,636.5 L458.9,637.0 M458.9,637.0 L458.5,637.5 M458.5,637.5 L458.2,638.0 M458.2,638.0 L457.9,638.5 M457.9,638.5 L457.5,639.0 M457.5,639.0 L457.2,639.5 M457.2,639.5 L456.9,640.0 M456.9,640.0 L456.5,640.5 M456.5,640.5 L456.2,641.0 M456.2,641.0 L455.8,641.5 M455.8,641.5 L455.5,642.0 M455.5,642.0 L455.2,642.5 M455.2,642.5 L454.8,643.0 M454.8,643.0 L454.5,643.5 M454.5,643.5 L454.2,644.0 M454.2,644.0 L454.0,644.2 M465.3,634.0 L464.9,634.5 M464.9,634.5 L464.6,635.0 M464.6,635.0 L464.3,635.5 M464.3,635.5 L464.0,636.0 M464.0,636.0 L463.6,636.5 M463.6,636.5 L463.3,637.0 M463.3,637.0 L463.0,637.5 M463.0,637.5 L462.6,638.0 M462.6,638.0 L462.3,638.5 M462.3,638.5 L462.0,639.0 M462.0,639.0 L461.6,639.5 M461.6,639.5 L461.3,640.0 M461.3,640.0 L461.0,640.5 M461.0,640.5 L460.6,641.0 M460.6,641.0 L460.3,641.5 M460.3,641.5 L460.0,642.0 M460.0,642.0 L459.6,642.5 M459.6,642.5 L459.3,643.0 M459.3,643.0 L459.0,643.5 M459.0,643.5 L458.6,644.0 M458.6,644.0 L458.5,644.2 M469.5,634.0 L469.2,634.5 M469.2,634.5 L468.9,635.0 M468.9,635.0 L468.6,635.5 M468.6,635.5 L468.3,636.0 M468.3,636.0 L467.9,636.5 M467.9,636.5 L467.6,637.0 M467.6,637.0 L467.3,637.5 M467.3,637.5 L467.0,638.0 M467.0,638.0 L466.7,638.5 M466.7,638.5 L466.3,639.0 M466.3,639.0 L466.0,639.5 M466.0,639.5 L465.7,640.0 M465.7,640.0 L465.4,640.5 M465.4,640.5 L465.0,641.0 M465.0,641.0 L464.7,641.5 M464.7,641.5 L464.4,642.0 M464.4,642.0 L464.0,642.5 M464.0,642.5 L463.7,643.0 M463.7,643.0 L463.4,643.5 M463.4,643.5 L463.1,644.0 M463.1,644.0 L462.9,644.2 M473.7,634.0 L473.4,634.5 M473.4,634.5 L473.1,635.0 M473.1,635.0 L472.8,635.5 M472.8,635.5 L472.5,636.0 M472.5,636.0 L472.2,636.5 M472.2,636.5 L471.8,637.0 M471.8,637.0 L471.5,637.5 M471.5,637.5 L471.2,638.0 M471.2,638.0 L470.9,638.5 M470.9,638.5 L470.6,639.0 M470.6,639.0 L470.3,639.5 M470.3,639.5 L470.0,640.0 M470.0,640.0 L469.6,640.5 M469.6,640.5 L469.3,641.0 M469.3,641.0 L469.0,641.5 M469.0,641.5 L468.7,642.0 M468.7,642.0 L468.4,642.5 M468.4,642.5 L468.0,643.0 M468.0,643.0 L467.7,643.5 M467.7,643.5 L467.4,644.0 M467.4,644.0 L467.3,644.2 M477.7,634.0 L477.4,634.5 M477.4,634.5 L477.1,635.0 M477.1,635.0 L476.8,635.5 M476.8,635.5 L476.5,636.0 M476.5,636.0 L476.2,636.5 M476.2,636.5 L475.9,637.0 M475.9,637.0 L475.6,637.5 M475.6,637.5 L475.3,638.0 M475.3,638.0 L475.0,638.5 M475.0,638.5 L474.7,639.0 M474.7,639.0 L474.4,639.5 M474.4,639.5 L474.1,640.0 M474.1,640.0 L473.8,640.5 M473.8,640.5 L473.5,641.0 M473.5,641.0 L473.2,641.5 M473.2,641.5 L472.9,642.0 M472.9,642.0 L472.6,642.5 M472.6,642.5 L472.3,643.0 M472.3,643.0 L471.9,643.5 M471.9,643.5 L471.6,644.0 M471.6,644.0 L471.5,644.2 M481.6,634.0 L481.3,634.5 M481.3,634.5 L481.0,635.0 M481.0,635.0 L480.8,635.5 M480.8,635.5 L480.5,636.0 M480.5,636.0 L480.2,636.5 M480.2,636.5 L479.9,637.0 M479.9,637.0 L479.6,637.5 M479.6,637.5 L479.3,638.0 M479.3,638.0 L479.0,638.5 M479.0,638.5 L478.7,639.0 M478.7,639.0 L478.4,639.5 M478.4,639.5 L478.1,640.0 M478.1,640.0 L477.8,640.5 M477.8,640.5 L477.5,641.0 M477.5,641.0 L477.2,641.5 M477.2,641.5 L476.9,642.0 M476.9,642.0 L476.6,642.5 M476.6,642.5 L476.3,643.0 M476.3,643.0 L476.0,643.5 M476.0,643.5 L475.7,644.0 M475.7,644.0 L475.6,644.2 M485.3,634.0 L485.0,634.5 M485.0,634.5 L484.8,635.0 M484.8,635.0 L484.5,635.5 M484.5,635.5 L484.2,636.0 M484.2,636.0 L483.9,636.5 M483.9,636.5 L483.7,637.0 M483.7,637.0 L483.4,637.5 M483.4,637.5 L483.1,638.0 M483.1,638.0 L482.8,638.5 M482.8,638.5 L482.5,639.0 M482.5,639.0 L482.3,639.5 M482.3,639.5 L482.0,640.0 M482.0,640.0 L481.7,640.5 M481.7,640.5 L481.4,641.0 M481.4,641.0 L481.1,641.5 M481.1,641.5 L480.8,642.0 M480.8,642.0 L480.5,642.5 M480.5,642.5 L480.3,643.0 M480.3,643.0 L480.0,643.5 M480.0,643.5 L479.7,644.0 M479.7,644.0 L479.6,644.2 M488.8,634.0 L488.5,634.5 M488.5,634.5 L488.3,635.0 M488.3,635.0 L488.0,635.5 M488.0,635.5 L487.7,636.0 M487.7,636.0 L487.5,636.5 M487.5,636.5 L487.2,637.0 M487.2,637.0 L487.0,637.5 M487.0,637.5 L486.7,638.0 M486.7,638.0 L486.4,638.5 M486.4,638.5 L486.2,639.0 M486.2,639.0 L485.9,639.5 M485.9,639.5 L485.6,640.0 M485.6,640.0 L485.4,640.5 M485.4,640.5 L485.1,641.0 M485.1,641.0 L484.8,641.5 M484.8,641.5 L484.6,642.0 M484.6,642.0 L484.3,642.5 M484.3,642.5 L484.0,643.0 M484.0,643.0 L483.7,643.5 M483.7,643.5 L483.5,644.0 M483.5,644.0 L483.3,644.2 M492.0,634.0 L491.8,634.5 M491.8,634.5 L491.6,635.0 M491.6,635.0 L491.3,635.5 M491.3,635.5 L491.1,636.0 M491.1,636.0 L490.8,636.5 M490.8,636.5 L490.6,637.0 M490.6,637.0 L490.3,637.5 M490.3,637.5 L490.1,638.0 M490.1,638.0 L489.9,638.5 M489.9,638.5 L489.6,639.0 M489.6,639.0 L489.4,639.5 M489.4,639.5 L489.1,640.0 M489.1,640.0 L488.8,640.5 M488.8,640.5 L488.6,641.0 M488.6,641.0 L488.3,641.5 M488.3,641.5 L488.1,642.0 M488.1,642.0 L487.8,642.5 M487.8,642.5 L487.6,643.0 M487.6,643.0 L487.3,643.5 M487.3,643.5 L487.0,644.0 M487.0,644.0 L486.9,644.2 M495.1,634.0 L494.8,634.5 M494.8,634.5 L494.6,635.0 M494.6,635.0 L494.4,635.5 M494.4,635.5 L494.2,636.0 M494.2,636.0 L493.9,636.5 M493.9,636.5 L493.7,637.0 M493.7,637.0 L493.5,637.5 M493.5,637.5 L493.3,638.0 M493.3,638.0 L493.0,638.5 M493.0,638.5 L492.8,639.0 M492.8,639.0 L492.6,639.5 M492.6,639.5 L492.3,640.0 M492.3,640.0 L492.1,640.5 M492.1,640.5 L491.9,641.0 M491.9,641.0 L491.6,641.5 M491.6,641.5 L491.4,642.0 M491.4,642.0 L491.1,642.5 M491.1,642.5 L490.9,643.0 M490.9,643.0 L490.7,643.5 M490.7,643.5 L490.4,644.0 M490.4,644.0 L490.3,644.2 M497.8,634.0 L497.6,634.5 M497.6,634.5 L497.4,635.0 M497.4,635.0 L497.2,635.5 M497.2,635.5 L497.0,636.0 M497.0,636.0 L496.8,636.5 M496.8,636.5 L496.6,637.0 M496.6,637.0 L496.4,637.5 M496.4,637.5 L496.2,638.0 M496.2,638.0 L496.0,638.5 M496.0,638.5 L495.8,639.0 M495.8,639.0 L495.6,639.5 M495.6,639.5 L495.3,640.0 M495.3,640.0 L495.1,640.5 M495.1,640.5 L494.9,641.0 M494.9,641.0 L494.7,641.5 M494.7,641.5 L494.5,642.0 M494.5,642.0 L494.2,642.5 M494.2,642.5 L494.0,643.0 M494.0,643.0 L493.8,643.5 M493.8,643.5 L493.6,644.0 M493.6,644.0 L493.5,644.2 M500.3,634.0 L500.1,634.5 M500.1,634.5 L500.0,635.0 M500.0,635.0 L499.8,635.5 M499.8,635.5 L499.6,636.0 M499.6,636.0 L499.4,636.5 M499.4,636.5 L499.2,637.0 M499.2,637.0 L499.0,637.5 M499.0,637.5 L498.9,638.0 M498.9,638.0 L498.7,638.5 M498.7,638.5 L498.5,639.0 M498.5,639.0 L498.3,639.5 M498.3,639.5 L498.1,640.0 M498.1,640.0 L497.9,640.5 M497.9,640.5 L497.7,641.0 M497.7,641.0 L497.5,641.5 M497.5,641.5 L497.3,642.0 M497.3,642.0 L497.1,642.5 M497.1,642.5 L496.9,643.0 M496.9,643.0 L496.7,643.5 M496.7,643.5 L496.5,644.0 M496.5,644.0 L496.4,644.2 M501.1,638.5 L500.9,639.0 M500.9,639.0 L500.7,639.5 M500.7,639.5 L500.5,640.0 M500.5,640.0 L500.4,640.5 M500.4,640.5 L500.2,641.0 M500.2,641.0 L500.0,641.5 M500.0,641.5 L499.8,642.0 M499.8,642.0 L499.7,642.5 M499.7,642.5 L499.5,643.0 M499.5,643.0 L499.3,643.5 M499.3,643.5 L499.1,644.0 M499.1,644.0 L499.0,644.2 M394.5,634.0 L394.3,634.5 M394.3,634.5 L394.1,635.0 M394.1,635.0 L394.0,635.5 M394.0,635.5 L393.8,636.0 M397.0,634.0 L396.8,634.5 M396.8,634.5 L396.6,635.0 M396.6,635.0 L396.4,635.5 M396.4,635.5 L396.2,636.0 M396.2,636.0 L396.0,636.5 M396.0,636.5 L395.8,637.0 M395.8,637.0 L395.6,637.5 M395.6,637.5 L395.4,638.0 M395.4,638.0 L395.3,638.5 M395.3,638.5 L395.1,639.0 M395.1,639.0 L394.9,639.5 M394.9,639.5 L394.7,640.0 M394.7,640.0 L394.5,640.5 M394.5,640.5 L394.4,641.0 M394.4,641.0 L394.2,641.5 M394.2,641.5 L394.0,642.0 M394.0,642.0 L393.8,642.5 M393.8,642.5 L393.7,643.0 M399.7,634.0 L399.5,634.5 M399.5,634.5 L399.3,635.0 M399.3,635.0 L399.1,635.5 M399.1,635.5 L398.9,636.0 M398.9,636.0 L398.7,636.5 M398.7,636.5 L398.5,637.0 M398.5,637.0 L398.3,637.5 M398.3,637.5 L398.0,638.0 M398.0,638.0 L397.8,638.5 M397.8,638.5 L397.6,639.0 M397.6,639.0 L397.4,639.5 M397.4,639.5 L397.2,640.0 M397.2,640.0 L397.0,640.5 M397.0,640.5 L396.8,641.0 M396.8,641.0 L396.6,641.5 M396.6,641.5 L396.4,642.0 M396.4,642.0 L396.2,642.5 M396.2,642.5 L396.1,643.0 M396.1,643.0 L395.9,643.5 M395.9,643.5 L395.7,644.0 M395.7,644.0 L395.6,644.2 M402.8,634.0 L402.5,634.5 M402.5,634.5 L402.3,635.0 M402.3,635.0 L402.1,635.5 M402.1,635.5 L401.8,636.0 M401.8,636.0 L401.6,636.5 M401.6,636.5 L401.4,637.0 M401.4,637.0 L401.1,637.5 M401.1,637.5 L400.9,638.0 M400.9,638.0 L400.7,638.5 M400.7,638.5 L400.5,639.0 M400.5,639.0 L400.2,639.5 M400.2,639.5 L400.0,640.0 M400.0,640.0 L399.8,640.5 M399.8,640.5 L399.6,641.0 M399.6,641.0 L399.4,641.5 M399.4,641.5 L399.2,642.0 M399.2,642.0 L398.9,642.5 M398.9,642.5 L398.7,643.0 M398.7,643.0 L398.5,643.5 M398.5,643.5 L398.3,644.0 M398.3,644.0 L398.2,644.2 M406.0,634.0 L405.8,634.5 M405.8,634.5 L405.5,635.0 M405.5,635.0 L405.3,635.5 M405.3,635.5 L405.0,636.0 M405.0,636.0 L404.8,636.5 M404.8,636.5 L404.5,637.0 M404.5,637.0 L404.3,637.5 M404.3,637.5 L404.0,638.0 M404.0,638.0 L403.8,638.5 M403.8,638.5 L403.6,639.0 M403.6,639.0 L403.3,639.5 M403.3,639.5 L403.1,640.0 M403.1,640.0 L402.8,640.5 M402.8,640.5 L402.6,641.0 M402.6,641.0 L402.4,641.5 M402.4,641.5 L402.1,642.0 M402.1,642.0 L401.9,642.5 M401.9,642.5 L401.7,643.0 M401.7,643.0 L401.4,643.5 M401.4,643.5 L401.2,644.0 M401.2,644.0 L401.1,644.2 M409.5,634.0 L409.2,634.5 M409.2,634.5 L409.0,635.0 M409.0,635.0 L408.7,635.5 M408.7,635.5 L408.4,636.0 M408.4,636.0 L408.2,636.5 M408.2,636.5 L407.9,637.0 M407.9,637.0 L407.6,637.5 M407.6,637.5 L407.4,638.0 M407.4,638.0 L407.1,638.5 M407.1,638.5 L406.9,639.0 M406.9,639.0 L406.6,639.5 M406.6,639.5 L406.4,640.0 M406.4,640.0 L406.1,640.5 M406.1,640.5 L405.8,641.0 M405.8,641.0 L405.6,641.5 M405.6,641.5 L405.3,642.0 M405.3,642.0 L405.1,642.5 M405.1,642.5 L404.8,643.0 M404.8,643.0 L404.6,643.5 M404.6,643.5 L404.3,644.0 M404.3,644.0 L404.3,644.2 M413.2,634.0 L412.9,634.5 M412.9,634.5 L412.6,635.0 M412.6,635.0 L412.3,635.5 M412.3,635.5 L412.1,636.0 M412.1,636.0 L411.8,636.5 M411.8,636.5 L411.5,637.0 M411.5,637.0 L411.2,637.5 M411.2,637.5 L410.9,638.0 M410.9,638.0 L410.7,638.5 M410.7,638.5 L410.4,639.0 M410.4,639.0 L410.1,639.5 M410.1,639.5 L409.9,640.0 M409.9,640.0 L409.6,640.5 M409.6,640.5 L409.3,641.0 M409.3,641.0 L409.0,641.5 M409.0,641.5 L408.8,642.0 M408.8,642.0 L408.5,642.5 M408.5,642.5 L408.2,643.0 M408.2,643.0 L408.0,643.5 M408.0,643.5 L407.7,644.0 M407.7,644.0 L407.6,644.2 M417.1,634.0 L416.8,634.5 M416.8,634.5 L416.5,635.0 M416.5,635.0 L416.2,635.5 M416.2,635.5 L415.9,636.0 M415.9,636.0 L415.6,636.5 M415.6,636.5 L415.3,637.0 M415.3,637.0 L415.0,637.5 M415.0,637.5 L414.7,638.0 M414.7,638.0 L414.4,638.5 M414.4,638.5 L414.1,639.0 M414.1,639.0 L413.8,639.5 M413.8,639.5 L413.6,640.0 M413.6,640.0 L413.3,640.5 M413.3,640.5 L413.0,641.0 M413.0,641.0 L412.7,641.5 M412.7,641.5 L412.4,642.0 M412.4,642.0 L412.1,642.5 M412.1,642.5 L411.9,643.0 M411.9,643.0 L411.6,643.5 M411.6,643.5 L411.3,644.0 M411.3,644.0 L411.2,644.2 M421.1,634.0 L420.8,634.5 M420.8,634.5 L420.5,635.0 M420.5,635.0 L420.2,635.5 M420.2,635.5 L419.9,636.0 M419.9,636.0 L419.6,636.5 M419.6,636.5 L419.2,637.0 M419.2,637.0 L418.9,637.5 M418.9,637.5 L418.6,638.0 M418.6,638.0 L418.3,638.5 M418.3,638.5 L418.0,639.0 M418.0,639.0 L417.7,639.5 M417.7,639.5 L417.4,640.0 M417.4,640.0 L417.1,640.5 M417.1,640.5 L416.8,641.0 M416.8,641.0 L416.5,641.5 M416.5,641.5 L416.3,642.0 M416.3,642.0 L416.0,642.5 M416.0,642.5 L415.7,643.0 M415.7,643.0 L415.4,643.5 M415.4,643.5 L415.1,644.0 M415.1,644.0 L415.0,644.2 M425.3,634.0 L424.9,634.5 M424.9,634.5 L424.6,635.0 M424.6,635.0 L424.3,635.5 M424.3,635.5 L424.0,636.0 M424.0,636.0 L423.7,636.5 M423.7,636.5 L423.4,637.0 M423.4,637.0 L423.0,637.5 M423.0,637.5 L422.7,638.0 M422.7,638.0 L422.4,638.5 M422.4,638.5 L422.1,639.0 M422.1,639.0 L421.8,639.5 M421.8,639.5 L421.5,640.0 M421.5,640.0 L421.2,640.5 M421.2,640.5 L420.9,641.0 M420.9,641.0 L420.6,641.5 M420.6,641.5 L420.2,642.0 M420.2,642.0 L419.9,642.5 M419.9,642.5 L419.6,643.0 M419.6,643.0 L419.3,643.5 M419.3,643.5 L419.0,644.0 M419.0,644.0 L418.9,644.2 M429.5,634.0 L429.2,634.5 M429.2,634.5 L428.9,635.0 M428.9,635.0 L428.6,635.5 M428.6,635.5 L428.2,636.0 M428.2,636.0 L427.9,636.5 M427.9,636.5 L427.6,637.0 M427.6,637.0 L427.3,637.5 M427.3,637.5 L426.9,638.0 M426.9,638.0 L426.6,638.5 M426.6,638.5 L426.3,639.0 M426.3,639.0 L426.0,639.5 M426.0,639.5 L425.7,640.0 M425.7,640.0 L425.3,640.5 M425.3,640.5 L425.0,641.0 M425.0,641.0 L424.7,641.5 M424.7,641.5 L424.4,642.0 M424.4,642.0 L424.1,642.5 M424.1,642.5 L423.8,643.0 M423.8,643.0 L423.4,643.5 M423.4,643.5 L423.1,644.0 M423.1,644.0 L423.0,644.2 M433.9,634.0 L433.6,634.5 M433.6,634.5 L433.3,635.0 M433.3,635.0 L432.9,635.5 M432.9,635.5 L432.6,636.0 M432.6,636.0 L432.3,636.5 M432.3,636.5 L431.9,637.0 M431.9,637.0 L431.6,637.5 M431.6,637.5 L431.3,638.0 M431.3,638.0 L430.9,638.5 M430.9,638.5 L430.6,639.0 M430.6,639.0 L430.3,639.5 M430.3,639.5 L430.0,640.0 M430.0,640.0 L429.6,640.5 M429.6,640.5 L429.3,641.0 M429.3,641.0 L429.0,641.5 M429.0,641.5 L428.7,642.0 M428.7,642.0 L428.3,642.5 M428.3,642.5 L428.0,643.0 M428.0,643.0 L427.7,643.5 M427.7,643.5 L427.4,644.0 M427.4,644.0 L427.2,644.2 M438.4,634.0 L438.0,634.5 M438.0,634.5 L437.7,635.0 M437.7,635.0 L437.4,635.5 M437.4,635.5 L437.0,636.0 M437.0,636.0 L436.7,636.5 M436.7,636.5 L436.4,637.0 M436.4,637.0 L436.0,637.5 M436.0,637.5 L435.7,638.0 M435.7,638.0 L435.3,638.5 M435.3,638.5 L435.0,639.0 M435.0,639.0 L434.7,639.5 M434.7,639.5 L434.3,640.0 M434.3,640.0 L434.0,640.5 M434.0,640.5 L433.7,641.0 M433.7,641.0 L433.3,641.5 M433.3,641.5 L433.0,642.0 M433.0,642.0 L432.7,642.5 M432.7,642.5 L432.4,643.0 M432.4,643.0 L432.0,643.5 M432.0,643.5 L431.7,644.0 M431.7,644.0 L431.6,644.2 M442.9,634.0 L442.5,634.5 M442.5,634.5 L442.2,635.0 M442.2,635.0 L441.9,635.5 M441.9,635.5 L441.5,636.0 M441.5,636.0 L441.2,636.5 M441.2,636.5 L440.8,637.0 M440.8,637.0 L440.5,637.5 M440.5,637.5 L440.2,638.0 M440.2,638.0 L439.8,638.5 M439.8,638.5 L439.5,639.0 M439.5,639.0 L439.1,639.5 M439.1,639.5 L438.8,640.0 M438.8,640.0 L438.5,640.5 M438.5,640.5 L438.1,641.0 M438.1,641.0 L437.8,641.5 M437.8,641.5 L437.5,642.0 M437.5,642.0 L437.1,642.5 M437.1,642.5 L436.8,643.0 M436.8,643.0 L436.4,643.5 M436.4,643.5 L436.1,644.0 M436.1,644.0 L436.0,644.2" stroke="#000" stroke-width="0.90" fill="none"/><path d="M501.1,643.0 L501.3,643.5 M501.3,643.5 L501.5,644.0 M501.5,644.0 L501.5,644.2 M501.0,636.0 L501.2,636.5 M501.2,636.5 L501.4,637.0 M501.4,637.0 L501.5,637.5 M501.5,637.5 L501.7,638.0 M501.7,638.0 L501.9,638.5 M501.9,638.5 L502.0,639.0 M502.0,639.0 L502.2,639.5 M502.2,639.5 L502.3,640.0 M502.3,640.0 L502.5,640.5 M502.5,640.5 L502.7,641.0 M502.7,641.0 L502.8,641.5 M502.8,641.5 L503.0,642.0 M503.0,642.0 L503.1,642.5 M503.1,642.5 L503.3,643.0 M503.3,643.0 L503.4,643.5 M503.4,643.5 L503.5,644.0 M503.5,644.0 L503.6,644.2 M502.5,634.0 L502.7,634.5 M502.7,634.5 L502.8,635.0 M502.8,635.0 L503.0,635.5 M503.0,635.5 L503.1,636.0 M503.1,636.0 L503.3,636.5 M503.3,636.5 L503.4,637.0 M503.4,637.0 L503.6,637.5 M503.6,637.5 L503.7,638.0 M503.7,638.0 L503.9,638.5 M503.9,638.5 L504.0,639.0 M504.0,639.0 L504.2,639.5 M504.2,639.5 L504.3,640.0 M504.3,640.0 L504.4,640.5 M504.4,640.5 L504.6,641.0 M504.6,641.0 L504.7,641.5 M504.7,641.5 L504.8,642.0 M504.8,642.0 L504.9,642.5 M504.9,642.5 L505.1,643.0 M505.1,643.0 L505.2,643.5 M505.2,643.5 L505.3,644.0 M505.3,644.0 L505.4,644.2 M504.5,634.0 L504.6,634.5 M504.6,634.5 L504.7,635.0 M504.7,635.0 L504.9,635.5 M504.9,635.5 L505.0,636.0 M505.0,636.0 L505.1,636.5 M505.1,636.5 L505.2,637.0 M505.2,637.0 L505.4,637.5 M505.4,637.5 L505.5,638.0 M505.5,638.0 L505.6,638.5 M505.6,638.5 L505.7,639.0 M505.7,639.0 L505.8,639.5 M505.8,639.5 L505.9,640.0 M505.9,640.0 L506.0,640.5 M506.0,640.5 L506.2,641.0 M506.2,641.0 L506.3,641.5 M506.3,641.5 L506.4,642.0 M506.4,642.0 L506.5,642.5 M506.5,642.5 L506.6,643.0 M506.6,643.0 L506.7,643.5 M506.7,643.5 L506.8,644.0 M506.8,644.0 L506.8,644.2 M506.1,634.0 L506.2,634.5 M506.2,634.5 L506.3,635.0 M506.3,635.0 L506.4,635.5 M506.4,635.5 L506.5,636.0 M506.5,636.0 L506.6,636.5 M506.6,636.5 L506.7,637.0 M506.7,637.0 L506.8,637.5 M506.8,637.5 L506.9,638.0 M506.9,638.0 L507.0,638.5 M507.0,638.5 L507.1,639.0 M507.1,639.0 L507.2,639.5 M507.2,639.5 L507.3,640.0 M507.3,640.0 L507.4,640.5 M507.4,640.5 L507.4,641.0 M507.4,634.0 L507.5,634.5 M387.4,640.5 L387.5,641.0 M387.5,641.0 L387.6,641.5 M387.6,641.5 L387.7,642.0 M387.7,642.0 L387.7,642.5 M387.7,642.5 L387.8,643.0 M387.8,643.0 L387.9,643.5 M387.9,643.5 L388.0,644.0 M388.0,644.0 L388.1,644.2 M387.4,634.0 L387.5,634.5 M387.5,634.5 L387.6,635.0 M387.6,635.0 L387.7,635.5 M387.7,635.5 L387.8,636.0 M387.8,636.0 L387.9,636.5 M387.9,636.5 L388.0,637.0 M388.0,637.0 L388.1,637.5 M388.1,637.5 L388.2,638.0 M388.2,638.0 L388.3,638.5 M388.3,638.5 L388.4,639.0 M388.4,639.0 L388.5,639.5 M388.5,639.5 L388.6,640.0 M388.6,640.0 L388.7,640.5 M388.7,640.5 L388.8,641.0 M388.8,641.0 L388.9,641.5 M388.9,641.5 L389.0,642.0 M389.0,642.0 L389.1,642.5 M389.1,642.5 L389.3,643.0 M389.3,643.0 L389.4,643.5 M389.4,643.5 L389.5,644.0 M389.5,644.0 L389.5,644.2 M388.7,634.0 L388.8,634.5 M388.8,634.5 L388.9,635.0 M388.9,635.0 L389.1,635.5 M389.1,635.5 L389.2,636.0 M389.2,636.0 L389.3,636.5 M389.3,636.5 L389.4,637.0 M389.4,637.0 L389.5,637.5 M389.5,637.5 L389.7,638.0 M389.7,638.0 L389.8,638.5 M389.8,638.5 L389.9,639.0 M389.9,639.0 L390.0,639.5 M390.0,639.5 L390.2,640.0 M390.2,640.0 L390.3,640.5 M390.3,640.5 L390.4,641.0 M390.4,641.0 L390.6,641.5 M390.6,641.5 L390.7,642.0 M390.7,642.0 L390.8,642.5 M390.8,642.5 L391.0,643.0 M391.0,643.0 L391.1,643.5 M391.1,643.5 L391.3,644.0 M391.3,644.0 L391.3,644.2 M390.3,634.0 L390.5,634.5 M390.5,634.5 L390.6,635.0 M390.6,635.0 L390.7,635.5 M390.7,635.5 L390.9,636.0 M390.9,636.0 L391.0,636.5 M391.0,636.5 L391.2,637.0 M391.2,637.0 L391.3,637.5 M391.3,637.5 L391.5,638.0 M391.5,638.0 L391.6,638.5 M391.6,638.5 L391.8,639.0 M391.8,639.0 L391.9,639.5 M391.9,639.5 L392.1,640.0 M392.1,640.0 L392.2,640.5 M392.2,640.5 L392.4,641.0 M392.4,641.0 L392.5,641.5 M392.5,641.5 L392.7,642.0 M392.7,642.0 L392.9,642.5 M392.9,642.5 L393.0,643.0 M393.0,643.0 L393.2,643.5 M393.2,643.5 L393.3,644.0 M393.3,644.0 L393.4,644.2 M392.3,634.0 L392.4,634.5 M392.4,634.5 L392.6,635.0 M392.6,635.0 L392.7,635.5 M392.7,635.5 L392.9,636.0 M392.9,636.0 L393.1,636.5 M393.1,636.5 L393.2,637.0 M393.2,637.0 L393.4,637.5 M393.4,637.5 L393.6,638.0 M393.6,638.0 L393.7,638.5 M502.5,634.0 L502.4,634.5 M502.4,634.5 L502.2,635.0 M502.2,635.0 L502.1,635.5 M502.1,635.5 L501.9,636.0 M501.9,636.0 L501.7,636.5 M501.7,636.5 L501.6,637.0 M501.6,637.0 L501.4,637.5 M501.4,637.5 L501.2,638.0 M501.2,638.0 L501.1,638.5 M504.5,634.0 L504.3,634.5 M504.3,634.5 L504.2,635.0 M504.2,635.0 L504.1,635.5 M504.1,635.5 L503.9,636.0 M503.9,636.0 L503.8,636.5 M503.8,636.5 L503.6,637.0 M503.6,637.0 L503.5,637.5 M503.5,637.5 L503.3,638.0 M503.3,638.0 L503.2,638.5 M503.2,638.5 L503.0,639.0 M503.0,639.0 L502.9,639.5 M502.9,639.5 L502.7,640.0 M502.7,640.0 L502.6,640.5 M502.6,640.5 L502.4,641.0 M502.4,641.0 L502.3,641.5 M502.3,641.5 L502.1,642.0 M502.1,642.0 L501.9,642.5 M501.9,642.5 L501.8,643.0 M501.8,643.0 L501.6,643.5 M501.6,643.5 L501.5,644.0 M501.5,644.0 L501.4,644.2 M506.1,634.0 L506.0,634.5 M506.0,634.5 L505.9,635.0 M505.9,635.0 L505.7,635.5 M505.7,635.5 L505.6,636.0 M505.6,636.0 L505.5,636.5 M505.5,636.5 L505.4,637.0 M505.4,637.0 L505.3,637.5 M505.3,637.5 L505.1,638.0 M505.1,638.0 L505.0,638.5 M505.0,638.5 L504.9,639.0 M504.9,639.0 L504.8,639.5 M504.8,639.5 L504.6,640.0 M504.6,640.0 L504.5,640.5 M504.5,640.5 L504.4,641.0 M504.4,641.0 L504.2,641.5 M504.2,641.5 L504.1,642.0 M504.1,642.0 L504.0,642.5 M504.0,642.5 L503.8,643.0 M503.8,643.0 L503.7,643.5 M503.7,643.5 L503.5,644.0 M503.5,644.0 L503.5,644.2 M507.4,634.0 L507.3,634.5 M507.3,634.5 L507.2,635.0 M507.2,635.0 L507.1,635.5 M507.1,635.5 L507.0,636.0 M507.0,636.0 L506.9,636.5 M506.9,636.5 L506.8,637.0 M506.8,637.0 L506.7,637.5 M506.7,637.5 L506.6,638.0 M506.6,638.0 L506.5,638.5 M506.5,638.5 L506.4,639.0 M506.4,639.0 L506.3,639.5 M506.3,639.5 L506.2,640.0 M506.2,640.0 L506.1,640.5 M506.1,640.5 L506.0,641.0 M506.0,641.0 L505.9,641.5 M505.9,641.5 L505.8,642.0 M505.8,642.0 L505.7,642.5 M505.7,642.5 L505.5,643.0 M505.5,643.0 L505.4,643.5 M505.4,643.5 L505.3,644.0 M505.3,644.0 L505.3,644.2 M507.4,640.5 L507.3,641.0 M507.3,641.0 L507.2,641.5 M507.2,641.5 L507.1,642.0 M507.1,642.0 L507.1,642.5 M507.1,642.5 L507.0,643.0 M507.0,643.0 L506.9,643.5 M506.9,643.5 L506.8,644.0 M506.8,644.0 L506.7,644.2 M387.4,634.0 L387.3,634.5 M388.7,634.0 L388.6,634.5 M388.6,634.5 L388.5,635.0 M388.5,635.0 L388.4,635.5 M388.4,635.5 L388.3,636.0 M388.3,636.0 L388.2,636.5 M388.2,636.5 L388.1,637.0 M388.1,637.0 L388.0,637.5 M388.0,637.5 L387.9,638.0 M387.9,638.0 L387.8,638.5 M387.8,638.5 L387.7,639.0 M387.7,639.0 L387.6,639.5 M387.6,639.5 L387.5,640.0 M387.5,640.0 L387.4,640.5 M387.4,640.5 L387.4,641.0 M390.3,634.0 L390.2,634.5 M390.2,634.5 L390.1,635.0 M390.1,635.0 L389.9,635.5 M389.9,635.5 L389.8,636.0 M389.8,636.0 L389.7,636.5 M389.7,636.5 L389.6,637.0 M389.6,637.0 L389.4,637.5 M389.4,637.5 L389.3,638.0 M389.3,638.0 L389.2,638.5 M389.2,638.5 L389.1,639.0 M389.1,639.0 L389.0,639.5 M389.0,639.5 L388.9,640.0 M388.9,640.0 L388.8,640.5 M388.8,640.5 L388.6,641.0 M388.6,641.0 L388.5,641.5 M388.5,641.5 L388.4,642.0 M388.4,642.0 L388.3,642.5 M388.3,642.5 L388.2,643.0 M388.2,643.0 L388.1,643.5 M388.1,643.5 L388.0,644.0 M388.0,644.0 L388.0,644.2 M392.3,634.0 L392.1,634.5 M392.1,634.5 L392.0,635.0 M392.0,635.0 L391.8,635.5 M391.8,635.5 L391.7,636.0 M391.7,636.0 L391.5,636.5 M391.5,636.5 L391.4,637.0 M391.4,637.0 L391.2,637.5 M391.2,637.5 L391.1,638.0 M391.1,638.0 L390.9,638.5 M390.9,638.5 L390.8,639.0 M390.8,639.0 L390.6,639.5 M390.6,639.5 L390.5,640.0 M390.5,640.0 L390.4,640.5 M390.4,640.5 L390.2,641.0 M390.2,641.0 L390.1,641.5 M390.1,641.5 L390.0,642.0 M390.0,642.0 L389.9,642.5 M389.9,642.5 L389.7,643.0 M389.7,643.0 L389.6,643.5 M389.6,643.5 L389.5,644.0 M389.5,644.0 L389.4,644.2 M393.8,636.0 L393.6,636.5 M393.6,636.5 L393.4,637.0 M393.4,637.0 L393.3,637.5 M393.3,637.5 L393.1,638.0 M393.1,638.0 L392.9,638.5 M392.9,638.5 L392.8,639.0 M392.8,639.0 L392.6,639.5 M392.6,639.5 L392.5,640.0 M392.5,640.0 L392.3,640.5 M392.3,640.5 L392.1,641.0 M392.1,641.0 L392.0,641.5 M392.0,641.5 L391.8,642.0 M391.8,642.0 L391.7,642.5 M391.7,642.5 L391.5,643.0 M391.5,643.0 L391.4,643.5 M391.4,643.5 L391.3,644.0 M391.3,644.0 L391.2,644.2 M393.7,643.0 L393.5,643.5 M393.5,643.5 L393.3,644.0 M393.3,644.0 L393.3,644.2" stroke="#000" stroke-width="0.63" fill="none"/><path d="M507.4,641.0 L507.5,641.5 M507.5,641.5 L507.6,642.0 M507.6,642.0 L507.7,642.5 M507.7,642.5 L507.8,643.0 M507.8,643.0 L507.8,643.5 M507.8,643.5 L507.9,644.0 M507.9,644.0 L508.0,644.2 M507.5,634.5 L507.6,635.0 M507.6,635.0 L507.6,635.5 M507.6,635.5 L507.7,636.0 M507.7,636.0 L507.8,636.5 M507.8,636.5 L507.9,637.0 M507.9,637.0 L507.9,637.5 M507.9,637.5 L508.0,638.0 M508.0,638.0 L508.1,638.5 M508.1,638.5 L508.2,639.0 M508.2,639.0 L508.2,639.5 M508.2,639.5 L508.3,640.0 M508.3,640.0 L508.4,640.5 M508.4,640.5 L508.4,641.0 M508.4,641.0 L508.5,641.5 M508.5,641.5 L508.5,642.0 M508.5,642.0 L508.6,642.5 M508.6,642.5 L508.6,643.0 M508.6,643.0 L508.7,643.5 M508.7,643.5 L508.7,644.0 M508.7,644.0 L508.8,644.2 M508.4,634.0 L508.4,634.5 M508.4,634.5 L508.5,635.0 M508.5,635.0 L508.5,635.5 M508.5,635.5 L508.6,636.0 M508.6,636.0 L508.7,636.5 M508.7,636.5 L508.7,637.0 M508.7,637.0 L508.8,637.5 M508.8,637.5 L508.8,638.0 M508.8,638.0 L508.9,638.5 M508.9,638.5 L508.9,639.0 M508.9,639.0 L508.9,639.5 M508.9,639.5 L509.0,640.0 M509.0,640.0 L509.0,640.5 M509.0,640.5 L509.1,641.0 M509.1,641.0 L509.1,641.5 M509.1,641.5 L509.1,642.0 M509.1,642.0 L509.2,642.5 M509.2,642.5 L509.2,643.0 M509.2,643.0 L509.2,643.5 M509.2,643.5 L509.2,644.0 M509.2,644.0 L509.2,644.2 M509.0,634.0 L509.1,634.5 M509.1,634.5 L509.1,635.0 M509.1,635.0 L509.1,635.5 M509.1,635.5 L509.2,636.0 M509.2,636.0 L509.2,636.5 M509.2,636.5 L509.2,637.0 M509.2,637.0 L509.2,637.5 M509.2,637.5 L509.3,638.0 M509.3,638.0 L509.3,638.5 M509.3,638.5 L509.3,639.0 M509.3,639.0 L509.3,639.5 M509.3,639.5 L509.3,640.0 M509.3,640.0 L509.4,640.5 M509.4,640.5 L509.4,641.0 M509.4,641.0 L509.4,641.5 M509.4,641.5 L509.4,642.0 M509.4,642.0 L509.4,642.5 M509.4,642.5 L509.4,643.0 M509.4,643.0 L509.4,643.5 M509.4,643.5 L509.4,644.0 M509.4,644.0 L509.4,644.2 M509.4,634.0 L509.4,634.5 M509.4,634.5 L509.4,635.0 M509.4,635.0 L509.4,635.5 M509.4,635.5 L509.4,636.0 M509.4,636.0 L509.4,636.5 M509.4,636.5 L509.4,637.0 M509.4,637.0 L509.4,637.5 M509.4,637.5 L509.4,638.0 M385.4,643.0 L385.4,643.5 M385.4,643.5 L385.4,644.0 M385.4,644.0 L385.4,644.2 M385.4,636.5 L385.4,637.0 M385.4,637.0 L385.4,637.5 M385.4,637.5 L385.4,638.0 M385.4,638.0 L385.4,638.5 M385.4,638.5 L385.4,639.0 M385.4,639.0 L385.4,639.5 M385.4,639.5 L385.4,640.0 M385.4,640.0 L385.4,640.5 M385.4,640.5 L385.5,641.0 M385.5,641.0 L385.5,641.5 M385.5,641.5 L385.5,642.0 M385.5,642.0 L385.5,642.5 M385.5,642.5 L385.5,643.0 M385.5,643.0 L385.5,643.5 M385.5,643.5 L385.6,644.0 M385.6,644.0 L385.6,644.2 M385.4,634.0 L385.5,634.5 M385.5,634.5 L385.5,635.0 M385.5,635.0 L385.5,635.5 M385.5,635.5 L385.5,636.0 M385.5,636.0 L385.5,636.5 M385.5,636.5 L385.5,637.0 M385.5,637.0 L385.6,637.5 M385.6,637.5 L385.6,638.0 M385.6,638.0 L385.6,638.5 M385.6,638.5 L385.7,639.0 M385.7,639.0 L385.7,639.5 M385.7,639.5 L385.7,640.0 M385.7,640.0 L385.8,640.5 M385.8,640.5 L385.8,641.0 M385.8,641.0 L385.8,641.5 M385.8,641.5 L385.9,642.0 M385.9,642.0 L385.9,642.5 M385.9,642.5 L386.0,643.0 M386.0,643.0 L386.0,643.5 M386.0,643.5 L386.1,644.0 M386.1,644.0 L386.1,644.2 M385.8,634.0 L385.8,634.5 M385.8,634.5 L385.9,635.0 M385.9,635.0 L385.9,635.5 M385.9,635.5 L385.9,636.0 M385.9,636.0 L386.0,636.5 M386.0,636.5 L386.0,637.0 M386.0,637.0 L386.1,637.5 M386.1,637.5 L386.1,638.0 M386.1,638.0 L386.2,638.5 M386.2,638.5 L386.2,639.0 M386.2,639.0 L386.3,639.5 M386.3,639.5 L386.4,640.0 M386.4,640.0 L386.4,640.5 M386.4,640.5 L386.5,641.0 M386.5,641.0 L386.5,641.5 M386.5,641.5 L386.6,642.0 M386.6,642.0 L386.7,642.5 M386.7,642.5 L386.7,643.0 M386.7,643.0 L386.8,643.5 M386.8,643.5 L386.9,644.0 M386.9,644.0 L386.9,644.2 M386.4,634.0 L386.5,634.5 M386.5,634.5 L386.6,635.0 M386.6,635.0 L386.6,635.5 M386.6,635.5 L386.7,636.0 M386.7,636.0 L386.8,636.5 M386.8,636.5 L386.8,637.0 M386.8,637.0 L386.9,637.5 M386.9,637.5 L387.0,638.0 M387.0,638.0 L387.1,638.5 M387.1,638.5 L387.1,639.0 M387.1,639.0 L387.2,639.5 M387.2,639.5 L387.3,640.0 M387.3,640.0 L387.4,640.5 M508.4,634.0 L508.3,634.5 M508.3,634.5 L508.2,635.0 M508.2,635.0 L508.2,635.5 M508.2,635.5 L508.1,636.0 M508.1,636.0 L508.0,636.5 M508.0,636.5 L508.0,637.0 M508.0,637.0 L507.9,637.5 M507.9,637.5 L507.8,638.0 M507.8,638.0 L507.7,638.5 M507.7,638.5 L507.7,639.0 M507.7,639.0 L507.6,639.5 M507.6,639.5 L507.5,640.0 M507.5,640.0 L507.4,640.5 M509.0,634.0 L509.0,634.5 M509.0,634.5 L508.9,635.0 M508.9,635.0 L508.9,635.5 M508.9,635.5 L508.9,636.0 M508.9,636.0 L508.8,636.5 M508.8,636.5 L508.8,637.0 M508.8,637.0 L508.7,637.5 M508.7,637.5 L508.7,638.0 M508.7,638.0 L508.6,638.5 M508.6,638.5 L508.6,639.0 M508.6,639.0 L508.5,639.5 M508.5,639.5 L508.4,640.0 M508.4,640.0 L508.4,640.5 M508.4,640.5 L508.3,641.0 M508.3,641.0 L508.3,641.5 M508.3,641.5 L508.2,642.0 M508.2,642.0 L508.1,642.5 M508.1,642.5 L508.1,643.0 M508.1,643.0 L508.0,643.5 M508.0,643.5 L507.9,644.0 M507.9,644.0 L507.9,644.2 M509.4,634.0 L509.3,634.5 M509.3,634.5 L509.3,635.0 M509.3,635.0 L509.3,635.5 M509.3,635.5 L509.3,636.0 M509.3,636.0 L509.3,636.5 M509.3,636.5 L509.3,637.0 M509.3,637.0 L509.2,637.5 M509.2,637.5 L509.2,638.0 M509.2,638.0 L509.2,638.5 M509.2,638.5 L509.1,639.0 M509.1,639.0 L509.1,639.5 M509.1,639.5 L509.1,640.0 M509.1,640.0 L509.0,640.5 M509.0,640.5 L509.0,641.0 M509.0,641.0 L509.0,641.5 M509.0,641.5 L508.9,642.0 M508.9,642.0 L508.9,642.5 M508.9,642.5 L508.8,643.0 M508.8,643.0 L508.8,643.5 M508.8,643.5 L508.7,644.0 M508.7,644.0 L508.7,644.2 M509.4,636.5 L509.4,637.0 M509.4,637.0 L509.4,637.5 M509.4,637.5 L509.4,638.0 M509.4,638.0 L509.4,638.5 M509.4,638.5 L509.4,639.0 M509.4,639.0 L509.4,639.5 M509.4,639.5 L509.4,640.0 M509.4,640.0 L509.4,640.5 M509.4,640.5 L509.3,641.0 M509.3,641.0 L509.3,641.5 M509.3,641.5 L509.3,642.0 M509.3,642.0 L509.3,642.5 M509.3,642.5 L509.3,643.0 M509.3,643.0 L509.3,643.5 M509.3,643.5 L509.2,644.0 M509.2,644.0 L509.2,644.2 M509.4,643.0 L509.4,643.5 M509.4,643.5 L509.4,644.0 M509.4,644.0 L509.4,644.2 M385.4,634.0 L385.4,634.5 M385.4,634.5 L385.4,635.0 M385.4,635.0 L385.4,635.5 M385.4,635.5 L385.4,636.0 M385.4,636.0 L385.4,636.5 M385.4,636.5 L385.4,637.0 M385.4,637.0 L385.4,637.5 M385.4,637.5 L385.4,638.0 M385.8,634.0 L385.7,634.5 M385.7,634.5 L385.7,635.0 M385.7,635.0 L385.7,635.5 M385.7,635.5 L385.6,636.0 M385.6,636.0 L385.6,636.5 M385.6,636.5 L385.6,637.0 M385.6,637.0 L385.6,637.5 M385.6,637.5 L385.5,638.0 M385.5,638.0 L385.5,638.5 M385.5,638.5 L385.5,639.0 M385.5,639.0 L385.5,639.5 M385.5,639.5 L385.5,640.0 M385.5,640.0 L385.4,640.5 M385.4,640.5 L385.4,641.0 M385.4,641.0 L385.4,641.5 M385.4,641.5 L385.4,642.0 M385.4,642.0 L385.4,642.5 M385.4,642.5 L385.4,643.0 M385.4,643.0 L385.4,643.5 M385.4,643.5 L385.4,644.0 M385.4,644.0 L385.4,644.2 M386.4,634.0 L386.4,634.5 M386.4,634.5 L386.3,635.0 M386.3,635.0 L386.3,635.5 M386.3,635.5 L386.2,636.0 M386.2,636.0 L386.1,636.5 M386.1,636.5 L386.1,637.0 M386.1,637.0 L386.0,637.5 M386.0,637.5 L386.0,638.0 M386.0,638.0 L385.9,638.5 M385.9,638.5 L385.9,639.0 M385.9,639.0 L385.9,639.5 M385.9,639.5 L385.8,640.0 M385.8,640.0 L385.8,640.5 M385.8,640.5 L385.7,641.0 M385.7,641.0 L385.7,641.5 M385.7,641.5 L385.7,642.0 M385.7,642.0 L385.6,642.5 M385.6,642.5 L385.6,643.0 M385.6,643.0 L385.6,643.5 M385.6,643.5 L385.6,644.0 M385.6,644.0 L385.6,644.2 M387.3,634.5 L387.2,635.0 M387.2,635.0 L387.2,635.5 M387.2,635.5 L387.1,636.0 M387.1,636.0 L387.0,636.5 M387.0,636.5 L386.9,637.0 M386.9,637.0 L386.9,637.5 M386.9,637.5 L386.8,638.0 M386.8,638.0 L386.7,638.5 M386.7,638.5 L386.6,639.0 M386.6,639.0 L386.6,639.5 M386.6,639.5 L386.5,640.0 M386.5,640.0 L386.4,640.5 M386.4,640.5 L386.4,641.0 M386.4,641.0 L386.3,641.5 M386.3,641.5 L386.3,642.0 M386.3,642.0 L386.2,642.5 M386.2,642.5 L386.2,643.0 M386.2,643.0 L386.1,643.5 M386.1,643.5 L386.1,644.0 M386.1,644.0 L386.0,644.2 M387.4,641.0 L387.3,641.5 M387.3,641.5 L387.2,642.0 M387.2,642.0 L387.1,642.5 M387.1,642.5 L387.0,643.0 M387.0,643.0 L387.0,643.5 M387.0,643.5 L386.9,644.0 M386.9,644.0 L386.8,644.2" stroke="#000" stroke-width="0.36" fill="none"/></g>
<path d="M401,634.2 L401,634.2" stroke="#111" stroke-width="2.0" fill="none" stroke-linejoin="round" stroke-linecap="round"/>
<rect x="385.5" y="634.2" width="123.8" height="10" stroke="#000" stroke-width="1.5" fill="none"/>
<defs><clipPath id="lsc"><path d="M315.3,644.3 L403.8,644.3 L403.8,692.4 L319.3,692.4 C314,687 312,684 312.6,681 C313,676 318,671 321,666 C324,661 323.5,655 320,650 Z"/></clipPath><clipPath id="rsc"><path d="M491.2,644.3 L579.7,644.3 C575,649 571,655 571.3,660 C572,666 576,670 580,675 C583,679 583,684 576.1,692.4 L491.2,692.4 Z"/></clipPath></defs>
<g clip-path="url(#lsc)"><path d="M251.00,693.00 L300.00,644.00 M259.72,693.00 L308.72,644.00 M268.44,693.00 L317.44,644.00 M277.16,693.00 L326.16,644.00 M285.88,693.00 L334.88,644.00 M294.60,693.00 L343.60,644.00 M303.32,693.00 L352.32,644.00 M312.04,693.00 L361.04,644.00 M320.76,693.00 L369.76,644.00 M329.48,693.00 L378.48,644.00 M338.20,693.00 L387.20,644.00 M346.92,693.00 L395.92,644.00 M355.64,693.00 L404.64,644.00 M364.36,693.00 L413.36,644.00 M373.08,693.00 L422.08,644.00 M381.80,693.00 L430.80,644.00 M390.52,693.00 L439.52,644.00 M399.24,693.00 L448.24,644.00 M407.96,693.00 L456.96,644.00 M416.68,693.00 L465.68,644.00 M425.40,693.00 L474.40,644.00 M434.12,693.00 L483.12,644.00 M442.84,693.00 L491.84,644.00 M451.56,693.00 L500.56,644.00" stroke="#000" stroke-width="1.45" fill="none"/></g>
<g clip-path="url(#rsc)"><path d="M436.00,693.00 L485.00,644.00 M444.72,693.00 L493.72,644.00 M453.44,693.00 L502.44,644.00 M462.16,693.00 L511.16,644.00 M470.88,693.00 L519.88,644.00 M479.60,693.00 L528.60,644.00 M488.32,693.00 L537.32,644.00 M497.04,693.00 L546.04,644.00 M505.76,693.00 L554.76,644.00 M514.48,693.00 L563.48,644.00 M523.20,693.00 L572.20,644.00 M531.92,693.00 L580.92,644.00 M540.64,693.00 L589.64,644.00 M549.36,693.00 L598.36,644.00 M558.08,693.00 L607.08,644.00 M566.80,693.00 L615.80,644.00 M575.52,693.00 L624.52,644.00 M584.24,693.00 L633.24,644.00 M592.96,693.00 L641.96,644.00 M601.68,693.00 L650.68,644.00 M610.40,693.00 L659.40,644.00 M619.12,693.00 L668.12,644.00 M627.84,693.00 L676.84,644.00 M636.56,693.00 L685.56,644.00" stroke="#000" stroke-width="1.45" fill="none"/></g>
<path d="M315.3,644.3 L403.8,644.3 L403.8,692.4 L319.3,692.4 C314,687 312,684 312.6,681 C313,676 318,671 321,666 C324,661 323.5,655 320,650 Z" stroke="#111" stroke-width="2.0" fill="none" stroke-linejoin="round" stroke-linecap="round"/>
<path d="M491.2,644.3 L579.7,644.3 C575,649 571,655 571.3,660 C572,666 576,670 580,675 C583,679 583,684 576.1,692.4 L491.2,692.4 Z" stroke="#111" stroke-width="2.0" fill="none" stroke-linejoin="round" stroke-linecap="round"/>
<rect x="407.5" y="645.2" width="80" height="46.8" fill="#dcdcdc"/>
<path d="M407.5,646.60 L487.5,646.60 M407.5,648.64 L487.5,648.64 M407.5,650.68 L487.5,650.68 M407.5,652.72 L487.5,652.72 M407.5,654.76 L487.5,654.76 M407.5,656.80 L487.5,656.80 M407.5,658.84 L487.5,658.84 M407.5,660.88 L487.5,660.88 M407.5,662.92 L487.5,662.92 M407.5,664.96 L487.5,664.96 M407.5,667.00 L487.5,667.00 M407.5,669.04 L487.5,669.04 M407.5,671.08 L487.5,671.08 M407.5,673.12 L487.5,673.12 M407.5,675.16 L487.5,675.16 M407.5,677.20 L487.5,677.20 M407.5,679.24 L487.5,679.24 M407.5,681.28 L487.5,681.28 M407.5,683.32 L487.5,683.32 M407.5,685.36 L487.5,685.36 M407.5,687.40 L487.5,687.40 M407.5,689.44 L487.5,689.44 M407.5,691.48 L487.5,691.48" stroke="#5a5a5a" stroke-width="0.95" fill="none"/>
<path d="M407.9,645.60 L406.7,646.62 L407.9,647.64 M407.9,647.64 L406.7,648.66 L407.9,649.68 M407.9,649.68 L406.7,650.70 L407.9,651.72 M407.9,651.72 L406.7,652.74 L407.9,653.76 M407.9,653.76 L406.7,654.78 L407.9,655.80 M407.9,655.80 L406.7,656.82 L407.9,657.84 M407.9,657.84 L406.7,658.86 L407.9,659.88 M407.9,659.88 L406.7,660.90 L407.9,661.92 M407.9,661.92 L406.7,662.94 L407.9,663.96 M407.9,663.96 L406.7,664.98 L407.9,666.00 M407.9,666.00 L406.7,667.02 L407.9,668.04 M407.9,668.04 L406.7,669.06 L407.9,670.08 M407.9,670.08 L406.7,671.10 L407.9,672.12 M407.9,672.12 L406.7,673.14 L407.9,674.16 M407.9,674.16 L406.7,675.18 L407.9,676.20 M407.9,676.20 L406.7,677.22 L407.9,678.24 M407.9,678.24 L406.7,679.26 L407.9,680.28 M407.9,680.28 L406.7,681.30 L407.9,682.32 M407.9,682.32 L406.7,683.34 L407.9,684.36 M407.9,684.36 L406.7,685.38 L407.9,686.40 M407.9,686.40 L406.7,687.42 L407.9,688.44 M407.9,688.44 L406.7,689.46 L407.9,690.48 M407.9,690.48 L406.7,691.50 L407.9,692.52 M487.2,645.60 L488.4,646.62 L487.2,647.64 M487.2,647.64 L488.4,648.66 L487.2,649.68 M487.2,649.68 L488.4,650.70 L487.2,651.72 M487.2,651.72 L488.4,652.74 L487.2,653.76 M487.2,653.76 L488.4,654.78 L487.2,655.80 M487.2,655.80 L488.4,656.82 L487.2,657.84 M487.2,657.84 L488.4,658.86 L487.2,659.88 M487.2,659.88 L488.4,660.90 L487.2,661.92 M487.2,661.92 L488.4,662.94 L487.2,663.96 M487.2,663.96 L488.4,664.98 L487.2,666.00 M487.2,666.00 L488.4,667.02 L487.2,668.04 M487.2,668.04 L488.4,669.06 L487.2,670.08 M487.2,670.08 L488.4,671.10 L487.2,672.12 M487.2,672.12 L488.4,673.14 L487.2,674.16 M487.2,674.16 L488.4,675.18 L487.2,676.20 M487.2,676.20 L488.4,677.22 L487.2,678.24 M487.2,678.24 L488.4,679.26 L487.2,680.28 M487.2,680.28 L488.4,681.30 L487.2,682.32 M487.2,682.32 L488.4,683.34 L487.2,684.36 M487.2,684.36 L488.4,685.38 L487.2,686.40 M487.2,686.40 L488.4,687.42 L487.2,688.44 M487.2,688.44 L488.4,689.46 L487.2,690.48 M487.2,690.48 L488.4,691.50 L487.2,692.52" stroke="#000" stroke-width="1.3" fill="none"/>
<path d="M381.6,692.4 L381.6,699.6 M513.4,692.4 L513.4,699.6" stroke="#111" stroke-width="2.0" fill="none" stroke-linejoin="round" stroke-linecap="round"/>
<path d="M377.5,699.6 L517.3,699.6 Q519,699.6 519,701.1 Q519,702.6 517.3,702.6 L377.5,702.6 Q376,702.6 376,701.1 Q376,699.6 377.5,699.6 Z" stroke="#000" stroke-width="1.3" fill="#ddd"/>
<path d="M379.6,702.6 L379.6,713 Q379.6,715.5 382,715.5 L513,715.5 Q515.5,715.5 515.5,713 L515.5,702.6" stroke="#111" stroke-width="2.0" fill="none" stroke-linejoin="round" stroke-linecap="round"/>
<path d="M379.6,715.5 L388.5,723.3 L506.3,723.3 L515.5,715.5" stroke="#111" stroke-width="2.0" fill="none" stroke-linejoin="round" stroke-linecap="round"/>
<path d="M388.5,723.3 L388.5,822.3 M506.3,723.3 L506.3,822.3" stroke="#111" stroke-width="2.0" fill="none" stroke-linejoin="round" stroke-linecap="round"/>
<path d="M381.9,822.3 L381.9,760 Q381.9,755.2 386,755.2 L388.5,755.2" stroke="#111" stroke-width="2.0" fill="none" stroke-linejoin="round" stroke-linecap="round"/>
<path d="M381.9,760.4 L388.5,760.4" stroke="#000" stroke-width="1.6"/>
<path d="M513.4,822.3 L513.4,760 Q513.4,755.2 509.5,755.2 L506.3,755.2" stroke="#111" stroke-width="2.0" fill="none" stroke-linejoin="round" stroke-linecap="round"/>
<path d="M506.3,760.4 L513.4,760.4" stroke="#000" stroke-width="1.6"/>
<path d="M381.9,822.3 L513.4,822.3" stroke="#111" stroke-width="2.0" fill="none" stroke-linejoin="round" stroke-linecap="round"/>
<path d="M407.8,760.4 L407.8,759 Q407.8,755.2 411.8,755.2 L424.8,755.2 Q428.8,755.2 428.8,759 L428.8,760.4 Z" stroke="#000" stroke-width="1.8" fill="none"/>
<path d="M466,760.4 L466,759 Q466,755.2 470,755.2 L482.7,755.2 Q486.7,755.2 486.7,759 L486.7,760.4 Z" stroke="#000" stroke-width="1.8" fill="none"/>
<path d="M403.8,697 L403.8,797 M406.7,697 L406.7,704 M488.5,697 L488.5,704 M491.5,697 L491.5,797" stroke="#8a8a8a" stroke-width="1.1" fill="none"/>
<path d="M407.8,760.4 L407.8,822 M428.8,760.4 L428.8,822 M466,760.4 L466,822 M486.7,760.4 L486.7,822" stroke="#8a8a8a" stroke-width="1.1" fill="none"/>
<path d="M402.9,751.3 L687.4,751.3" stroke="#8a8a8a" stroke-width="1.1" fill="none"/>
<path d="M402.90,751.30 L428.00,755.00 L428.00,747.60 Z" fill="#000"/>
<path d="M491.50,751.30 L467.00,747.60 L467.00,755.00 Z" fill="#000"/>
<path d="M399.7,788.3 L668.9,788.3" stroke="#8a8a8a" stroke-width="1.1" fill="none"/>
<path d="M399.70,788.30 L425.30,792.00 L425.30,784.60 Z" fill="#000"/>
<path d="M494.20,788.30 L469.20,784.60 L469.20,792.00 Z" fill="#000"/>
<text transform="translate(519.80,747.60) rotate(0) scale(0.4188,0.4201)" font-size="100" fill="#000" stroke="#000" stroke-width="1.192" stroke-linejoin="round">M30x1,5</text>
<text transform="translate(531.50,781.70) rotate(0) scale(0.4161,0.4000)" font-size="100" fill="#000" stroke="#000" stroke-width="1.225" stroke-linejoin="round">ø30-35</text>
<defs><clipPath id="ahc"><path d="M393.13,953.20 L437.60,868.60 L438.00,868.60 L438.00,933.75 L421.45,965.23 Z"/></clipPath></defs>
<g clip-path="url(#ahc)"><path d="M361.59,815.22 L373.69,825.38 M373.69,825.38 L367.64,830.45 M367.64,830.45 L355.53,820.30 M355.53,820.30 L361.59,815.22 M355.53,820.30 L361.59,825.38 M361.59,825.38 L349.48,835.53 M349.48,835.53 L343.43,830.45 M343.43,830.45 L355.53,820.30 M385.79,815.22 L397.90,825.38 M397.90,825.38 L391.84,830.45 M391.84,830.45 L379.74,820.30 M379.74,820.30 L385.79,815.22 M379.74,820.30 L385.79,825.38 M385.79,825.38 L373.69,835.53 M373.69,835.53 L367.64,830.45 M367.64,830.45 L379.74,820.30 M410.00,815.22 L422.10,825.38 M422.10,825.38 L416.05,830.45 M416.05,830.45 L403.95,820.30 M403.95,820.30 L410.00,815.22 M403.95,820.30 L410.00,825.38 M410.00,825.38 L397.90,835.53 M397.90,835.53 L391.84,830.45 M391.84,830.45 L403.95,820.30 M434.21,815.22 L446.31,825.38 M446.31,825.38 L440.26,830.45 M440.26,830.45 L428.16,820.30 M428.16,820.30 L434.21,815.22 M428.16,820.30 L434.21,825.38 M434.21,825.38 L422.10,835.53 M422.10,835.53 L416.05,830.45 M416.05,830.45 L428.16,820.30 M458.41,815.22 L470.52,825.38 M470.52,825.38 L464.47,830.45 M464.47,830.45 L452.36,820.30 M452.36,820.30 L458.41,815.22 M452.36,820.30 L458.41,825.38 M458.41,825.38 L446.31,835.53 M446.31,835.53 L440.26,830.45 M440.26,830.45 L452.36,820.30 M361.59,825.38 L373.69,835.53 M373.69,835.53 L367.64,840.61 M367.64,840.61 L355.53,830.45 M355.53,830.45 L361.59,825.38 M355.53,830.45 L361.59,835.53 M361.59,835.53 L349.48,845.69 M349.48,845.69 L343.43,840.61 M343.43,840.61 L355.53,830.45 M385.79,825.38 L397.90,835.53 M397.90,835.53 L391.84,840.61 M391.84,840.61 L379.74,830.45 M379.74,830.45 L385.79,825.38 M379.74,830.45 L385.79,835.53 M385.79,835.53 L373.69,845.69 M373.69,845.69 L367.64,840.61 M367.64,840.61 L379.74,830.45 M410.00,825.38 L422.10,835.53 M422.10,835.53 L416.05,840.61 M416.05,840.61 L403.95,830.45 M403.95,830.45 L410.00,825.38 M403.95,830.45 L410.00,835.53 M410.00,835.53 L397.90,845.69 M397.90,845.69 L391.84,840.61 M391.84,840.61 L403.95,830.45 M434.21,825.38 L446.31,835.53 M446.31,835.53 L440.26,840.61 M440.26,840.61 L428.16,830.45 M428.16,830.45 L434.21,825.38 M428.16,830.45 L434.21,835.53 M434.21,835.53 L422.10,845.69 M422.10,845.69 L416.05,840.61 M416.05,840.61 L428.16,830.45 M458.41,825.38 L470.52,835.53 M470.52,835.53 L464.47,840.61 M464.47,840.61 L452.36,830.45 M452.36,830.45 L458.41,825.38 M452.36,830.45 L458.41,835.53 M458.41,835.53 L446.31,845.69 M446.31,845.69 L440.26,840.61 M440.26,840.61 L452.36,830.45 M361.59,835.53 L373.69,845.69 M373.69,845.69 L367.64,850.77 M367.64,850.77 L355.53,840.61 M355.53,840.61 L361.59,835.53 M355.53,840.61 L361.59,845.69 M361.59,845.69 L349.48,855.84 M349.48,855.84 L343.43,850.77 M343.43,850.77 L355.53,840.61 M385.79,835.53 L397.90,845.69 M397.90,845.69 L391.84,850.77 M391.84,850.77 L379.74,840.61 M379.74,840.61 L385.79,835.53 M379.74,840.61 L385.79,845.69 M385.79,845.69 L373.69,855.84 M373.69,855.84 L367.64,850.77 M367.64,850.77 L379.74,840.61 M410.00,835.53 L422.10,845.69 M422.10,845.69 L416.05,850.77 M416.05,850.77 L403.95,840.61 M403.95,840.61 L410.00,835.53 M403.95,840.61 L410.00,845.69 M410.00,845.69 L397.90,855.84 M397.90,855.84 L391.84,850.77 M391.84,850.77 L403.95,840.61 M434.21,835.53 L446.31,845.69 M446.31,845.69 L440.26,850.77 M440.26,850.77 L428.16,840.61 M428.16,840.61 L434.21,835.53 M428.16,840.61 L434.21,845.69 M434.21,845.69 L422.10,855.84 M422.10,855.84 L416.05,850.77 M416.05,850.77 L428.16,840.61 M458.41,835.53 L470.52,845.69 M470.52,845.69 L464.47,850.77 M464.47,850.77 L452.36,840.61 M452.36,840.61 L458.41,835.53 M452.36,840.61 L458.41,845.69 M458.41,845.69 L446.31,855.84 M446.31,855.84 L440.26,850.77 M440.26,850.77 L452.36,840.61 M361.59,845.69 L373.69,855.84 M373.69,855.84 L367.64,860.92 M367.64,860.92 L355.53,850.77 M355.53,850.77 L361.59,845.69 M355.53,850.77 L361.59,855.84 M361.59,855.84 L349.48,866.00 M349.48,866.00 L343.43,860.92 M343.43,860.92 L355.53,850.77 M385.79,845.69 L397.90,855.84 M397.90,855.84 L391.84,860.92 M391.84,860.92 L379.74,850.77 M379.74,850.77 L385.79,845.69 M379.74,850.77 L385.79,855.84 M385.79,855.84 L373.69,866.00 M373.69,866.00 L367.64,860.92 M367.64,860.92 L379.74,850.77 M410.00,845.69 L422.10,855.84 M422.10,855.84 L416.05,860.92 M416.05,860.92 L403.95,850.77 M403.95,850.77 L410.00,845.69 M403.95,850.77 L410.00,855.84 M410.00,855.84 L397.90,866.00 M397.90,866.00 L391.84,860.92 M391.84,860.92 L403.95,850.77 M434.21,845.69 L446.31,855.84 M446.31,855.84 L440.26,860.92 M440.26,860.92 L428.16,850.77 M428.16,850.77 L434.21,845.69 M428.16,850.77 L434.21,855.84 M434.21,855.84 L422.10,866.00 M422.10,866.00 L416.05,860.92 M416.05,860.92 L428.16,850.77 M458.41,845.69 L470.52,855.84 M470.52,855.84 L464.47,860.92 M464.47,860.92 L452.36,850.77 M452.36,850.77 L458.41,845.69 M452.36,850.77 L458.41,855.84 M458.41,855.84 L446.31,866.00 M446.31,866.00 L440.26,860.92 M440.26,860.92 L452.36,850.77 M361.59,855.84 L373.69,866.00 M373.69,866.00 L367.64,871.08 M367.64,871.08 L355.53,860.92 M355.53,860.92 L361.59,855.84 M355.53,860.92 L361.59,866.00 M361.59,866.00 L349.48,876.16 M349.48,876.16 L343.43,871.08 M343.43,871.08 L355.53,860.92 M385.79,855.84 L397.90,866.00 M397.90,866.00 L391.84,871.08 M391.84,871.08 L379.74,860.92 M379.74,860.92 L385.79,855.84 M379.74,860.92 L385.79,866.00 M385.79,866.00 L373.69,876.16 M373.69,876.16 L367.64,871.08 M367.64,871.08 L379.74,860.92 M410.00,855.84 L422.10,866.00 M422.10,866.00 L416.05,871.08 M416.05,871.08 L403.95,860.92 M403.95,860.92 L410.00,855.84 M403.95,860.92 L410.00,866.00 M410.00,866.00 L397.90,876.16 M397.90,876.16 L391.84,871.08 M391.84,871.08 L403.95,860.92 M434.21,855.84 L446.31,866.00 M446.31,866.00 L440.26,871.08 M440.26,871.08 L428.16,860.92 M428.16,860.92 L434.21,855.84 M428.16,860.92 L434.21,866.00 M434.21,866.00 L422.10,876.16 M422.10,876.16 L416.05,871.08 M416.05,871.08 L428.16,860.92 M458.41,855.84 L470.52,866.00 M470.52,866.00 L464.47,871.08 M464.47,871.08 L452.36,860.92 M452.36,860.92 L458.41,855.84 M452.36,860.92 L458.41,866.00 M458.41,866.00 L446.31,876.16 M446.31,876.16 L440.26,871.08 M440.26,871.08 L452.36,860.92 M361.59,866.00 L373.69,876.16 M373.69,876.16 L367.64,881.23 M367.64,881.23 L355.53,871.08 M355.53,871.08 L361.59,866.00 M355.53,871.08 L361.59,876.16 M361.59,876.16 L349.48,886.31 M349.48,886.31 L343.43,881.23 M343.43,881.23 L355.53,871.08 M385.79,866.00 L397.90,876.16 M397.90,876.16 L391.84,881.23 M391.84,881.23 L379.74,871.08 M379.74,871.08 L385.79,866.00 M379.74,871.08 L385.79,876.16 M385.79,876.16 L373.69,886.31 M373.69,886.31 L367.64,881.23 M367.64,881.23 L379.74,871.08 M410.00,866.00 L422.10,876.16 M422.10,876.16 L416.05,881.23 M416.05,881.23 L403.95,871.08 M403.95,871.08 L410.00,866.00 M403.95,871.08 L410.00,876.16 M410.00,876.16 L397.90,886.31 M397.90,886.31 L391.84,881.23 M391.84,881.23 L403.95,871.08 M434.21,866.00 L446.31,876.16 M446.31,876.16 L440.26,881.23 M440.26,881.23 L428.16,871.08 M428.16,871.08 L434.21,866.00 M428.16,871.08 L434.21,876.16 M434.21,876.16 L422.10,886.31 M422.10,886.31 L416.05,881.23 M416.05,881.23 L428.16,871.08 M458.41,866.00 L470.52,876.16 M470.52,876.16 L464.47,881.23 M464.47,881.23 L452.36,871.08 M452.36,871.08 L458.41,866.00 M452.36,871.08 L458.41,876.16 M458.41,876.16 L446.31,886.31 M446.31,886.31 L440.26,881.23 M440.26,881.23 L452.36,871.08 M361.59,876.16 L373.69,886.31 M373.69,886.31 L367.64,891.39 M367.64,891.39 L355.53,881.23 M355.53,881.23 L361.59,876.16 M355.53,881.23 L361.59,886.31 M361.59,886.31 L349.48,896.47 M349.48,896.47 L343.43,891.39 M343.43,891.39 L355.53,881.23 M385.79,876.16 L397.90,886.31 M397.90,886.31 L391.84,891.39 M391.84,891.39 L379.74,881.23 M379.74,881.23 L385.79,876.16 M379.74,881.23 L385.79,886.31 M385.79,886.31 L373.69,896.47 M373.69,896.47 L367.64,891.39 M367.64,891.39 L379.74,881.23 M410.00,876.16 L422.10,886.31 M422.10,886.31 L416.05,891.39 M416.05,891.39 L403.95,881.23 M403.95,881.23 L410.00,876.16 M403.95,881.23 L410.00,886.31 M410.00,886.31 L397.90,896.47 M397.90,896.47 L391.84,891.39 M391.84,891.39 L403.95,881.23 M434.21,876.16 L446.31,886.31 M446.31,886.31 L440.26,891.39 M440.26,891.39 L428.16,881.23 M428.16,881.23 L434.21,876.16 M428.16,881.23 L434.21,886.31 M434.21,886.31 L422.10,896.47 M422.10,896.47 L416.05,891.39 M416.05,891.39 L428.16,881.23 M458.41,876.16 L470.52,886.31 M470.52,886.31 L464.47,891.39 M464.47,891.39 L452.36,881.23 M452.36,881.23 L458.41,876.16 M452.36,881.23 L458.41,886.31 M458.41,886.31 L446.31,896.47 M446.31,896.47 L440.26,891.39 M440.26,891.39 L452.36,881.23 M361.59,886.31 L373.69,896.47 M373.69,896.47 L367.64,901.55 M367.64,901.55 L355.53,891.39 M355.53,891.39 L361.59,886.31 M355.53,891.39 L361.59,896.47 M361.59,896.47 L349.48,906.62 M349.48,906.62 L343.43,901.55 M343.43,901.55 L355.53,891.39 M385.79,886.31 L397.90,896.47 M397.90,896.47 L391.84,901.55 M391.84,901.55 L379.74,891.39 M379.74,891.39 L385.79,886.31 M379.74,891.39 L385.79,896.47 M385.79,896.47 L373.69,906.62 M373.69,906.62 L367.64,901.55 M367.64,901.55 L379.74,891.39 M410.00,886.31 L422.10,896.47 M422.10,896.47 L416.05,901.55 M416.05,901.55 L403.95,891.39 M403.95,891.39 L410.00,886.31 M403.95,891.39 L410.00,896.47 M410.00,896.47 L397.90,906.62 M397.90,906.62 L391.84,901.55 M391.84,901.55 L403.95,891.39 M434.21,886.31 L446.31,896.47 M446.31,896.47 L440.26,901.55 M440.26,901.55 L428.16,891.39 M428.16,891.39 L434.21,886.31 M428.16,891.39 L434.21,896.47 M434.21,896.47 L422.10,906.62 M422.10,906.62 L416.05,901.55 M416.05,901.55 L428.16,891.39 M458.41,886.31 L470.52,896.47 M470.52,896.47 L464.47,901.55 M464.47,901.55 L452.36,891.39 M452.36,891.39 L458.41,886.31 M452.36,891.39 L458.41,896.47 M458.41,896.47 L446.31,906.62 M446.31,906.62 L440.26,901.55 M440.26,901.55 L452.36,891.39 M361.59,896.47 L373.69,906.62 M373.69,906.62 L367.64,911.70 M367.64,911.70 L355.53,901.55 M355.53,901.55 L361.59,896.47 M355.53,901.55 L361.59,906.62 M361.59,906.62 L349.48,916.78 M349.48,916.78 L343.43,911.70 M343.43,911.70 L355.53,901.55 M385.79,896.47 L397.90,906.62 M397.90,906.62 L391.84,911.70 M391.84,911.70 L379.74,901.55 M379.74,901.55 L385.79,896.47 M379.74,901.55 L385.79,906.62 M385.79,906.62 L373.69,916.78 M373.69,916.78 L367.64,911.70 M367.64,911.70 L379.74,901.55 M410.00,896.47 L422.10,906.62 M422.10,906.62 L416.05,911.70 M416.05,911.70 L403.95,901.55 M403.95,901.55 L410.00,896.47 M403.95,901.55 L410.00,906.62 M410.00,906.62 L397.90,916.78 M397.90,916.78 L391.84,911.70 M391.84,911.70 L403.95,901.55 M434.21,896.47 L446.31,906.62 M446.31,906.62 L440.26,911.70 M440.26,911.70 L428.16,901.55 M428.16,901.55 L434.21,896.47 M428.16,901.55 L434.21,906.62 M434.21,906.62 L422.10,916.78 M422.10,916.78 L416.05,911.70 M416.05,911.70 L428.16,901.55 M458.41,896.47 L470.52,906.62 M470.52,906.62 L464.47,911.70 M464.47,911.70 L452.36,901.55 M452.36,901.55 L458.41,896.47 M452.36,901.55 L458.41,906.62 M458.41,906.62 L446.31,916.78 M446.31,916.78 L440.26,911.70 M440.26,911.70 L452.36,901.55 M361.59,906.62 L373.69,916.78 M373.69,916.78 L367.64,921.86 M367.64,921.86 L355.53,911.70 M355.53,911.70 L361.59,906.62 M355.53,911.70 L361.59,916.78 M361.59,916.78 L349.48,926.94 M349.48,926.94 L343.43,921.86 M343.43,921.86 L355.53,911.70 M385.79,906.62 L397.90,916.78 M397.90,916.78 L391.84,921.86 M391.84,921.86 L379.74,911.70 M379.74,911.70 L385.79,906.62 M379.74,911.70 L385.79,916.78 M385.79,916.78 L373.69,926.94 M373.69,926.94 L367.64,921.86 M367.64,921.86 L379.74,911.70 M410.00,906.62 L422.10,916.78 M422.10,916.78 L416.05,921.86 M416.05,921.86 L403.95,911.70 M403.95,911.70 L410.00,906.62 M403.95,911.70 L410.00,916.78 M410.00,916.78 L397.90,926.94 M397.90,926.94 L391.84,921.86 M391.84,921.86 L403.95,911.70 M434.21,906.62 L446.31,916.78 M446.31,916.78 L440.26,921.86 M440.26,921.86 L428.16,911.70 M428.16,911.70 L434.21,906.62 M428.16,911.70 L434.21,916.78 M434.21,916.78 L422.10,926.94 M422.10,926.94 L416.05,921.86 M416.05,921.86 L428.16,911.70 M458.41,906.62 L470.52,916.78 M470.52,916.78 L464.47,921.86 M464.47,921.86 L452.36,911.70 M452.36,911.70 L458.41,906.62 M452.36,911.70 L458.41,916.78 M458.41,916.78 L446.31,926.94 M446.31,926.94 L440.26,921.86 M440.26,921.86 L452.36,911.70 M361.59,916.78 L373.69,926.94 M373.69,926.94 L367.64,932.01 M367.64,932.01 L355.53,921.86 M355.53,921.86 L361.59,916.78 M355.53,921.86 L361.59,926.94 M361.59,926.94 L349.48,937.09 M349.48,937.09 L343.43,932.01 M343.43,932.01 L355.53,921.86 M385.79,916.78 L397.90,926.94 M397.90,926.94 L391.84,932.01 M391.84,932.01 L379.74,921.86 M379.74,921.86 L385.79,916.78 M379.74,921.86 L385.79,926.94 M385.79,926.94 L373.69,937.09 M373.69,937.09 L367.64,932.01 M367.64,932.01 L379.74,921.86 M410.00,916.78 L422.10,926.94 M422.10,926.94 L416.05,932.01 M416.05,932.01 L403.95,921.86 M403.95,921.86 L410.00,916.78 M403.95,921.86 L410.00,926.94 M410.00,926.94 L397.90,937.09 M397.90,937.09 L391.84,932.01 M391.84,932.01 L403.95,921.86 M434.21,916.78 L446.31,926.94 M446.31,926.94 L440.26,932.01 M440.26,932.01 L428.16,921.86 M428.16,921.86 L434.21,916.78 M428.16,921.86 L434.21,926.94 M434.21,926.94 L422.10,937.09 M422.10,937.09 L416.05,932.01 M416.05,932.01 L428.16,921.86 M458.41,916.78 L470.52,926.94 M470.52,926.94 L464.47,932.01 M464.47,932.01 L452.36,921.86 M452.36,921.86 L458.41,916.78 M452.36,921.86 L458.41,926.94 M458.41,926.94 L446.31,937.09 M446.31,937.09 L440.26,932.01 M440.26,932.01 L452.36,921.86 M361.59,926.94 L373.69,937.09 M373.69,937.09 L367.64,942.17 M367.64,942.17 L355.53,932.01 M355.53,932.01 L361.59,926.94 M355.53,932.01 L361.59,937.09 M361.59,937.09 L349.48,947.25 M349.48,947.25 L343.43,942.17 M343.43,942.17 L355.53,932.01 M385.79,926.94 L397.90,937.09 M397.90,937.09 L391.84,942.17 M391.84,942.17 L379.74,932.01 M379.74,932.01 L385.79,926.94 M379.74,932.01 L385.79,937.09 M385.79,937.09 L373.69,947.25 M373.69,947.25 L367.64,942.17 M367.64,942.17 L379.74,932.01 M410.00,926.94 L422.10,937.09 M422.10,937.09 L416.05,942.17 M416.05,942.17 L403.95,932.01 M403.95,932.01 L410.00,926.94 M403.95,932.01 L410.00,937.09 M410.00,937.09 L397.90,947.25 M397.90,947.25 L391.84,942.17 M391.84,942.17 L403.95,932.01 M434.21,926.94 L446.31,937.09 M446.31,937.09 L440.26,942.17 M440.26,942.17 L428.16,932.01 M428.16,932.01 L434.21,926.94 M428.16,932.01 L434.21,937.09 M434.21,937.09 L422.10,947.25 M422.10,947.25 L416.05,942.17 M416.05,942.17 L428.16,932.01 M458.41,926.94 L470.52,937.09 M470.52,937.09 L464.47,942.17 M464.47,942.17 L452.36,932.01 M452.36,932.01 L458.41,926.94 M452.36,932.01 L458.41,937.09 M458.41,937.09 L446.31,947.25 M446.31,947.25 L440.26,942.17 M440.26,942.17 L452.36,932.01 M361.59,937.09 L373.69,947.25 M373.69,947.25 L367.64,952.33 M367.64,952.33 L355.53,942.17 M355.53,942.17 L361.59,937.09 M355.53,942.17 L361.59,947.25 M361.59,947.25 L349.48,957.40 M349.48,957.40 L343.43,952.33 M343.43,952.33 L355.53,942.17 M385.79,937.09 L397.90,947.25 M397.90,947.25 L391.84,952.33 M391.84,952.33 L379.74,942.17 M379.74,942.17 L385.79,937.09 M379.74,942.17 L385.79,947.25 M385.79,947.25 L373.69,957.40 M373.69,957.40 L367.64,952.33 M367.64,952.33 L379.74,942.17 M410.00,937.09 L422.10,947.25 M422.10,947.25 L416.05,952.33 M416.05,952.33 L403.95,942.17 M403.95,942.17 L410.00,937.09 M403.95,942.17 L410.00,947.25 M410.00,947.25 L397.90,957.40 M397.90,957.40 L391.84,952.33 M391.84,952.33 L403.95,942.17 M434.21,937.09 L446.31,947.25 M446.31,947.25 L440.26,952.33 M440.26,952.33 L428.16,942.17 M428.16,942.17 L434.21,937.09 M428.16,942.17 L434.21,947.25 M434.21,947.25 L422.10,957.40 M422.10,957.40 L416.05,952.33 M416.05,952.33 L428.16,942.17 M458.41,937.09 L470.52,947.25 M470.52,947.25 L464.47,952.33 M464.47,952.33 L452.36,942.17 M452.36,942.17 L458.41,937.09 M452.36,942.17 L458.41,947.25 M458.41,947.25 L446.31,957.40 M446.31,957.40 L440.26,952.33 M440.26,952.33 L452.36,942.17 M361.59,947.25 L373.69,957.40 M373.69,957.40 L367.64,962.48 M367.64,962.48 L355.53,952.33 M355.53,952.33 L361.59,947.25 M355.53,952.33 L361.59,957.40 M361.59,957.40 L349.48,967.56 M349.48,967.56 L343.43,962.48 M343.43,962.48 L355.53,952.33 M385.79,947.25 L397.90,957.40 M397.90,957.40 L391.84,962.48 M391.84,962.48 L379.74,952.33 M379.74,952.33 L385.79,947.25 M379.74,952.33 L385.79,957.40 M385.79,957.40 L373.69,967.56 M373.69,967.56 L367.64,962.48 M367.64,962.48 L379.74,952.33 M410.00,947.25 L422.10,957.40 M422.10,957.40 L416.05,962.48 M416.05,962.48 L403.95,952.33 M403.95,952.33 L410.00,947.25 M403.95,952.33 L410.00,957.40 M410.00,957.40 L397.90,967.56 M397.90,967.56 L391.84,962.48 M391.84,962.48 L403.95,952.33 M434.21,947.25 L446.31,957.40 M446.31,957.40 L440.26,962.48 M440.26,962.48 L428.16,952.33 M428.16,952.33 L434.21,947.25 M428.16,952.33 L434.21,957.40 M434.21,957.40 L422.10,967.56 M422.10,967.56 L416.05,962.48 M416.05,962.48 L428.16,952.33 M458.41,947.25 L470.52,957.40 M470.52,957.40 L464.47,962.48 M464.47,962.48 L452.36,952.33 M452.36,952.33 L458.41,947.25 M452.36,952.33 L458.41,957.40 M458.41,957.40 L446.31,967.56 M446.31,967.56 L440.26,962.48 M440.26,962.48 L452.36,952.33 M361.59,957.40 L373.69,967.56 M373.69,967.56 L367.64,972.64 M367.64,972.64 L355.53,962.48 M355.53,962.48 L361.59,957.40 M355.53,962.48 L361.59,967.56 M361.59,967.56 L349.48,977.72 M349.48,977.72 L343.43,972.64 M343.43,972.64 L355.53,962.48 M385.79,957.40 L397.90,967.56 M397.90,967.56 L391.84,972.64 M391.84,972.64 L379.74,962.48 M379.74,962.48 L385.79,957.40 M379.74,962.48 L385.79,967.56 M385.79,967.56 L373.69,977.72 M373.69,977.72 L367.64,972.64 M367.64,972.64 L379.74,962.48 M410.00,957.40 L422.10,967.56 M422.10,967.56 L416.05,972.64 M416.05,972.64 L403.95,962.48 M403.95,962.48 L410.00,957.40 M403.95,962.48 L410.00,967.56 M410.00,967.56 L397.90,977.72 M397.90,977.72 L391.84,972.64 M391.84,972.64 L403.95,962.48 M434.21,957.40 L446.31,967.56 M446.31,967.56 L440.26,972.64 M440.26,972.64 L428.16,962.48 M428.16,962.48 L434.21,957.40 M428.16,962.48 L434.21,967.56 M434.21,967.56 L422.10,977.72 M422.10,977.72 L416.05,972.64 M416.05,972.64 L428.16,962.48 M458.41,957.40 L470.52,967.56 M470.52,967.56 L464.47,972.64 M464.47,972.64 L452.36,962.48 M452.36,962.48 L458.41,957.40 M452.36,962.48 L458.41,967.56 M458.41,967.56 L446.31,977.72 M446.31,977.72 L440.26,972.64 M440.26,972.64 L452.36,962.48 M361.59,967.56 L373.69,977.72 M373.69,977.72 L367.64,982.79 M367.64,982.79 L355.53,972.64 M355.53,972.64 L361.59,967.56 M355.53,972.64 L361.59,977.72 M361.59,977.72 L349.48,987.87 M349.48,987.87 L343.43,982.79 M343.43,982.79 L355.53,972.64 M385.79,967.56 L397.90,977.72 M397.90,977.72 L391.84,982.79 M391.84,982.79 L379.74,972.64 M379.74,972.64 L385.79,967.56 M379.74,972.64 L385.79,977.72 M385.79,977.72 L373.69,987.87 M373.69,987.87 L367.64,982.79 M367.64,982.79 L379.74,972.64 M410.00,967.56 L422.10,977.72 M422.10,977.72 L416.05,982.79 M416.05,982.79 L403.95,972.64 M403.95,972.64 L410.00,967.56 M403.95,972.64 L410.00,977.72 M410.00,977.72 L397.90,987.87 M397.90,987.87 L391.84,982.79 M391.84,982.79 L403.95,972.64 M434.21,967.56 L446.31,977.72 M446.31,977.72 L440.26,982.79 M440.26,982.79 L428.16,972.64 M428.16,972.64 L434.21,967.56 M428.16,972.64 L434.21,977.72 M434.21,977.72 L422.10,987.87 M422.10,987.87 L416.05,982.79 M416.05,982.79 L428.16,972.64 M458.41,967.56 L470.52,977.72 M470.52,977.72 L464.47,982.79 M464.47,982.79 L452.36,972.64 M452.36,972.64 L458.41,967.56 M452.36,972.64 L458.41,977.72 M458.41,977.72 L446.31,987.87 M446.31,987.87 L440.26,982.79 M440.26,982.79 L452.36,972.64 M361.59,977.72 L373.69,987.87 M373.69,987.87 L367.64,992.95 M367.64,992.95 L355.53,982.79 M355.53,982.79 L361.59,977.72 M355.53,982.79 L361.59,987.87 M361.59,987.87 L349.48,998.03 M349.48,998.03 L343.43,992.95 M343.43,992.95 L355.53,982.79 M385.79,977.72 L397.90,987.87 M397.90,987.87 L391.84,992.95 M391.84,992.95 L379.74,982.79 M379.74,982.79 L385.79,977.72 M379.74,982.79 L385.79,987.87 M385.79,987.87 L373.69,998.03 M373.69,998.03 L367.64,992.95 M367.64,992.95 L379.74,982.79 M410.00,977.72 L422.10,987.87 M422.10,987.87 L416.05,992.95 M416.05,992.95 L403.95,982.79 M403.95,982.79 L410.00,977.72 M403.95,982.79 L410.00,987.87 M410.00,987.87 L397.90,998.03 M397.90,998.03 L391.84,992.95 M391.84,992.95 L403.95,982.79 M434.21,977.72 L446.31,987.87 M446.31,987.87 L440.26,992.95 M440.26,992.95 L428.16,982.79 M428.16,982.79 L434.21,977.72 M428.16,982.79 L434.21,987.87 M434.21,987.87 L422.10,998.03 M422.10,998.03 L416.05,992.95 M416.05,992.95 L428.16,982.79 M458.41,977.72 L470.52,987.87 M470.52,987.87 L464.47,992.95 M464.47,992.95 L452.36,982.79 M452.36,982.79 L458.41,977.72 M452.36,982.79 L458.41,987.87 M458.41,987.87 L446.31,998.03 M446.31,998.03 L440.26,992.95 M440.26,992.95 L452.36,982.79 M361.59,987.87 L373.69,998.03 M373.69,998.03 L367.64,1003.11 M367.64,1003.11 L355.53,992.95 M355.53,992.95 L361.59,987.87 M355.53,992.95 L361.59,998.03 M361.59,998.03 L349.48,1008.18 M349.48,1008.18 L343.43,1003.11 M343.43,1003.11 L355.53,992.95 M385.79,987.87 L397.90,998.03 M397.90,998.03 L391.84,1003.11 M391.84,1003.11 L379.74,992.95 M379.74,992.95 L385.79,987.87 M379.74,992.95 L385.79,998.03 M385.79,998.03 L373.69,1008.18 M373.69,1008.18 L367.64,1003.11 M367.64,1003.11 L379.74,992.95 M410.00,987.87 L422.10,998.03 M422.10,998.03 L416.05,1003.11 M416.05,1003.11 L403.95,992.95 M403.95,992.95 L410.00,987.87 M403.95,992.95 L410.00,998.03 M410.00,998.03 L397.90,1008.18 M397.90,1008.18 L391.84,1003.11 M391.84,1003.11 L403.95,992.95 M434.21,987.87 L446.31,998.03 M446.31,998.03 L440.26,1003.11 M440.26,1003.11 L428.16,992.95 M428.16,992.95 L434.21,987.87 M428.16,992.95 L434.21,998.03 M434.21,998.03 L422.10,1008.18 M422.10,1008.18 L416.05,1003.11 M416.05,1003.11 L428.16,992.95 M458.41,987.87 L470.52,998.03 M470.52,998.03 L464.47,1003.11 M464.47,1003.11 L452.36,992.95 M452.36,992.95 L458.41,987.87 M452.36,992.95 L458.41,998.03 M458.41,998.03 L446.31,1008.18 M446.31,1008.18 L440.26,1003.11 M440.26,1003.11 L452.36,992.95 M361.59,998.03 L373.69,1008.18 M373.69,1008.18 L367.64,1013.26 M367.64,1013.26 L355.53,1003.11 M355.53,1003.11 L361.59,998.03 M355.53,1003.11 L361.59,1008.18 M361.59,1008.18 L349.48,1018.34 M349.48,1018.34 L343.43,1013.26 M343.43,1013.26 L355.53,1003.11 M385.79,998.03 L397.90,1008.18 M397.90,1008.18 L391.84,1013.26 M391.84,1013.26 L379.74,1003.11 M379.74,1003.11 L385.79,998.03 M379.74,1003.11 L385.79,1008.18 M385.79,1008.18 L373.69,1018.34 M373.69,1018.34 L367.64,1013.26 M367.64,1013.26 L379.74,1003.11 M410.00,998.03 L422.10,1008.18 M422.10,1008.18 L416.05,1013.26 M416.05,1013.26 L403.95,1003.11 M403.95,1003.11 L410.00,998.03 M403.95,1003.11 L410.00,1008.18 M410.00,1008.18 L397.90,1018.34 M397.90,1018.34 L391.84,1013.26 M391.84,1013.26 L403.95,1003.11 M434.21,998.03 L446.31,1008.18 M446.31,1008.18 L440.26,1013.26 M440.26,1013.26 L428.16,1003.11 M428.16,1003.11 L434.21,998.03 M428.16,1003.11 L434.21,1008.18 M434.21,1008.18 L422.10,1018.34 M422.10,1018.34 L416.05,1013.26 M416.05,1013.26 L428.16,1003.11 M458.41,998.03 L470.52,1008.18 M470.52,1008.18 L464.47,1013.26 M464.47,1013.26 L452.36,1003.11 M452.36,1003.11 L458.41,998.03 M452.36,1003.11 L458.41,1008.18 M458.41,1008.18 L446.31,1018.34 M446.31,1018.34 L440.26,1013.26 M440.26,1013.26 L452.36,1003.11" stroke="#000" stroke-width="1.4" fill="none" stroke-linecap="square"/></g>
<path d="M393.13,953.20 L437.60,868.60 M421.45,965.23 L438.00,933.75" stroke="#000" stroke-width="2" fill="none"/>
<g transform="matrix(0.843,0.358,-0.499,0.877,377.6,1011.4)"><path d="M-31,-18.75 L31,-18.75 L35,-13 L35,13 L31,18.75 L-31,18.75 L-35,13 L-35,-13 Z" stroke="#000" stroke-width="2.2" fill="#fff"/><path d="M-20.2,-12.95 L-20.2,12.95 M-14.5,-12.95 L-14.5,12.95 M14.5,-12.95 L14.5,12.95 M20.1,-12.95 L20.1,12.95 M-20.2,-12.95 L-14.5,-12.95 M-20.2,12.95 L-14.5,12.95 M14.5,-12.95 L20.1,-12.95 M14.5,12.95 L20.1,12.95" stroke="#000" stroke-width="1.6" fill="none"/><path d="M-35,-13 Q-27,-21 -20.2,-12.95 M-35,13 Q-27,21 -20.2,12.95 M35,-13 Q27,-21 20.1,-12.95 M35,13 Q27,21 20.1,12.95" stroke="#000" stroke-width="1.6" fill="none"/><path d="M-14.5,-12.95 Q0,-25 14.5,-12.95 M-14.5,12.95 Q0,25 14.5,12.95" stroke="#000" stroke-width="1.6" fill="none"/><path d="M-24,-18.75 L-20.2,-12.95 M-6,-18.75 L-14.5,-12.95 M6,-18.75 L14.5,-12.95 M24,-18.75 L20.1,-12.95 M-24,18.75 L-20.2,12.95 M-6,18.75 L-14.5,12.95 M6,18.75 L14.5,12.95 M24,18.75 L20.1,12.95" stroke="#000" stroke-width="1.4" fill="none"/><rect x="-18.2" y="-25.45" width="36.4" height="6.5" rx="3.2" stroke="#000" stroke-width="2" fill="#fff"/><rect x="-15.4" y="-45.2" width="30.8" height="19.75" stroke="#000" stroke-width="1.8" fill="#fff"/><path d="M-12.2,-45 L-12.2,-25.5 M-4.2,-45 L-4.2,-25.5 M4.6,-45 L4.6,-25.5 M12.5,-45 L12.5,-25.5" stroke="#000" stroke-width="1.5" fill="none"/><rect x="-18.3" y="-59.15" width="36.6" height="13.9" rx="1.5" stroke="#000" stroke-width="2.2" fill="#fff"/><path d="M-18,-47.7 L18,-47.7" stroke="#000" stroke-width="1.5"/></g>
<defs><clipPath id="shc1"><path d="M438,822.3 L471.4,822.3 L471.4,845.7 Q465,844.8 457.8,845 Q450,843 445.3,842.2 Q441,843.5 438,844.3 Z"/></clipPath><clipPath id="shc2"><path d="M438,852.6 Q441,850 445.3,849.2 Q450,850 457.8,852.6 Q465,853 471.4,853.3 L471.4,967.1 L438,967.1 Z"/></clipPath></defs>
<g clip-path="url(#shc1)"><path d="M403.09,775.22 L415.19,785.38 M415.19,785.38 L409.14,790.45 M409.14,790.45 L397.03,780.30 M397.03,780.30 L403.09,775.22 M397.03,780.30 L403.09,785.38 M403.09,785.38 L390.98,795.53 M390.98,795.53 L384.93,790.45 M384.93,790.45 L397.03,780.30 M427.29,775.22 L439.40,785.38 M439.40,785.38 L433.34,790.45 M433.34,790.45 L421.24,780.30 M421.24,780.30 L427.29,775.22 M421.24,780.30 L427.29,785.38 M427.29,785.38 L415.19,795.53 M415.19,795.53 L409.14,790.45 M409.14,790.45 L421.24,780.30 M451.50,775.22 L463.60,785.38 M463.60,785.38 L457.55,790.45 M457.55,790.45 L445.45,780.30 M445.45,780.30 L451.50,775.22 M445.45,780.30 L451.50,785.38 M451.50,785.38 L439.40,795.53 M439.40,795.53 L433.34,790.45 M433.34,790.45 L445.45,780.30 M475.71,775.22 L487.81,785.38 M487.81,785.38 L481.76,790.45 M481.76,790.45 L469.66,780.30 M469.66,780.30 L475.71,775.22 M469.66,780.30 L475.71,785.38 M475.71,785.38 L463.60,795.53 M463.60,795.53 L457.55,790.45 M457.55,790.45 L469.66,780.30 M499.91,775.22 L512.02,785.38 M512.02,785.38 L505.97,790.45 M505.97,790.45 L493.86,780.30 M493.86,780.30 L499.91,775.22 M493.86,780.30 L499.91,785.38 M499.91,785.38 L487.81,795.53 M487.81,795.53 L481.76,790.45 M481.76,790.45 L493.86,780.30 M403.09,785.38 L415.19,795.53 M415.19,795.53 L409.14,800.61 M409.14,800.61 L397.03,790.45 M397.03,790.45 L403.09,785.38 M397.03,790.45 L403.09,795.53 M403.09,795.53 L390.98,805.69 M390.98,805.69 L384.93,800.61 M384.93,800.61 L397.03,790.45 M427.29,785.38 L439.40,795.53 M439.40,795.53 L433.34,800.61 M433.34,800.61 L421.24,790.45 M421.24,790.45 L427.29,785.38 M421.24,790.45 L427.29,795.53 M427.29,795.53 L415.19,805.69 M415.19,805.69 L409.14,800.61 M409.14,800.61 L421.24,790.45 M451.50,785.38 L463.60,795.53 M463.60,795.53 L457.55,800.61 M457.55,800.61 L445.45,790.45 M445.45,790.45 L451.50,785.38 M445.45,790.45 L451.50,795.53 M451.50,795.53 L439.40,805.69 M439.40,805.69 L433.34,800.61 M433.34,800.61 L445.45,790.45 M475.71,785.38 L487.81,795.53 M487.81,795.53 L481.76,800.61 M481.76,800.61 L469.66,790.45 M469.66,790.45 L475.71,785.38 M469.66,790.45 L475.71,795.53 M475.71,795.53 L463.60,805.69 M463.60,805.69 L457.55,800.61 M457.55,800.61 L469.66,790.45 M499.91,785.38 L512.02,795.53 M512.02,795.53 L505.97,800.61 M505.97,800.61 L493.86,790.45 M493.86,790.45 L499.91,785.38 M493.86,790.45 L499.91,795.53 M499.91,795.53 L487.81,805.69 M487.81,805.69 L481.76,800.61 M481.76,800.61 L493.86,790.45 M403.09,795.53 L415.19,805.69 M415.19,805.69 L409.14,810.77 M409.14,810.77 L397.03,800.61 M397.03,800.61 L403.09,795.53 M397.03,800.61 L403.09,805.69 M403.09,805.69 L390.98,815.84 M390.98,815.84 L384.93,810.77 M384.93,810.77 L397.03,800.61 M427.29,795.53 L439.40,805.69 M439.40,805.69 L433.34,810.77 M433.34,810.77 L421.24,800.61 M421.24,800.61 L427.29,795.53 M421.24,800.61 L427.29,805.69 M427.29,805.69 L415.19,815.84 M415.19,815.84 L409.14,810.77 M409.14,810.77 L421.24,800.61 M451.50,795.53 L463.60,805.69 M463.60,805.69 L457.55,810.77 M457.55,810.77 L445.45,800.61 M445.45,800.61 L451.50,795.53 M445.45,800.61 L451.50,805.69 M451.50,805.69 L439.40,815.84 M439.40,815.84 L433.34,810.77 M433.34,810.77 L445.45,800.61 M475.71,795.53 L487.81,805.69 M487.81,805.69 L481.76,810.77 M481.76,810.77 L469.66,800.61 M469.66,800.61 L475.71,795.53 M469.66,800.61 L475.71,805.69 M475.71,805.69 L463.60,815.84 M463.60,815.84 L457.55,810.77 M457.55,810.77 L469.66,800.61 M499.91,795.53 L512.02,805.69 M512.02,805.69 L505.97,810.77 M505.97,810.77 L493.86,800.61 M493.86,800.61 L499.91,795.53 M493.86,800.61 L499.91,805.69 M499.91,805.69 L487.81,815.84 M487.81,815.84 L481.76,810.77 M481.76,810.77 L493.86,800.61 M403.09,805.69 L415.19,815.84 M415.19,815.84 L409.14,820.92 M409.14,820.92 L397.03,810.77 M397.03,810.77 L403.09,805.69 M397.03,810.77 L403.09,815.84 M403.09,815.84 L390.98,826.00 M390.98,826.00 L384.93,820.92 M384.93,820.92 L397.03,810.77 M427.29,805.69 L439.40,815.84 M439.40,815.84 L433.34,820.92 M433.34,820.92 L421.24,810.77 M421.24,810.77 L427.29,805.69 M421.24,810.77 L427.29,815.84 M427.29,815.84 L415.19,826.00 M415.19,826.00 L409.14,820.92 M409.14,820.92 L421.24,810.77 M451.50,805.69 L463.60,815.84 M463.60,815.84 L457.55,820.92 M457.55,820.92 L445.45,810.77 M445.45,810.77 L451.50,805.69 M445.45,810.77 L451.50,815.84 M451.50,815.84 L439.40,826.00 M439.40,826.00 L433.34,820.92 M433.34,820.92 L445.45,810.77 M475.71,805.69 L487.81,815.84 M487.81,815.84 L481.76,820.92 M481.76,820.92 L469.66,810.77 M469.66,810.77 L475.71,805.69 M469.66,810.77 L475.71,815.84 M475.71,815.84 L463.60,826.00 M463.60,826.00 L457.55,820.92 M457.55,820.92 L469.66,810.77 M499.91,805.69 L512.02,815.84 M512.02,815.84 L505.97,820.92 M505.97,820.92 L493.86,810.77 M493.86,810.77 L499.91,805.69 M493.86,810.77 L499.91,815.84 M499.91,815.84 L487.81,826.00 M487.81,826.00 L481.76,820.92 M481.76,820.92 L493.86,810.77 M403.09,815.84 L415.19,826.00 M415.19,826.00 L409.14,831.08 M409.14,831.08 L397.03,820.92 M397.03,820.92 L403.09,815.84 M397.03,820.92 L403.09,826.00 M403.09,826.00 L390.98,836.16 M390.98,836.16 L384.93,831.08 M384.93,831.08 L397.03,820.92 M427.29,815.84 L439.40,826.00 M439.40,826.00 L433.34,831.08 M433.34,831.08 L421.24,820.92 M421.24,820.92 L427.29,815.84 M421.24,820.92 L427.29,826.00 M427.29,826.00 L415.19,836.16 M415.19,836.16 L409.14,831.08 M409.14,831.08 L421.24,820.92 M451.50,815.84 L463.60,826.00 M463.60,826.00 L457.55,831.08 M457.55,831.08 L445.45,820.92 M445.45,820.92 L451.50,815.84 M445.45,820.92 L451.50,826.00 M451.50,826.00 L439.40,836.16 M439.40,836.16 L433.34,831.08 M433.34,831.08 L445.45,820.92 M475.71,815.84 L487.81,826.00 M487.81,826.00 L481.76,831.08 M481.76,831.08 L469.66,820.92 M469.66,820.92 L475.71,815.84 M469.66,820.92 L475.71,826.00 M475.71,826.00 L463.60,836.16 M463.60,836.16 L457.55,831.08 M457.55,831.08 L469.66,820.92 M499.91,815.84 L512.02,826.00 M512.02,826.00 L505.97,831.08 M505.97,831.08 L493.86,820.92 M493.86,820.92 L499.91,815.84 M493.86,820.92 L499.91,826.00 M499.91,826.00 L487.81,836.16 M487.81,836.16 L481.76,831.08 M481.76,831.08 L493.86,820.92 M403.09,826.00 L415.19,836.16 M415.19,836.16 L409.14,841.23 M409.14,841.23 L397.03,831.08 M397.03,831.08 L403.09,826.00 M397.03,831.08 L403.09,836.16 M403.09,836.16 L390.98,846.31 M390.98,846.31 L384.93,841.23 M384.93,841.23 L397.03,831.08 M427.29,826.00 L439.40,836.16 M439.40,836.16 L433.34,841.23 M433.34,841.23 L421.24,831.08 M421.24,831.08 L427.29,826.00 M421.24,831.08 L427.29,836.16 M427.29,836.16 L415.19,846.31 M415.19,846.31 L409.14,841.23 M409.14,841.23 L421.24,831.08 M451.50,826.00 L463.60,836.16 M463.60,836.16 L457.55,841.23 M457.55,841.23 L445.45,831.08 M445.45,831.08 L451.50,826.00 M445.45,831.08 L451.50,836.16 M451.50,836.16 L439.40,846.31 M439.40,846.31 L433.34,841.23 M433.34,841.23 L445.45,831.08 M475.71,826.00 L487.81,836.16 M487.81,836.16 L481.76,841.23 M481.76,841.23 L469.66,831.08 M469.66,831.08 L475.71,826.00 M469.66,831.08 L475.71,836.16 M475.71,836.16 L463.60,846.31 M463.60,846.31 L457.55,841.23 M457.55,841.23 L469.66,831.08 M499.91,826.00 L512.02,836.16 M512.02,836.16 L505.97,841.23 M505.97,841.23 L493.86,831.08 M493.86,831.08 L499.91,826.00 M493.86,831.08 L499.91,836.16 M499.91,836.16 L487.81,846.31 M487.81,846.31 L481.76,841.23 M481.76,841.23 L493.86,831.08 M403.09,836.16 L415.19,846.31 M415.19,846.31 L409.14,851.39 M409.14,851.39 L397.03,841.23 M397.03,841.23 L403.09,836.16 M397.03,841.23 L403.09,846.31 M403.09,846.31 L390.98,856.47 M390.98,856.47 L384.93,851.39 M384.93,851.39 L397.03,841.23 M427.29,836.16 L439.40,846.31 M439.40,846.31 L433.34,851.39 M433.34,851.39 L421.24,841.23 M421.24,841.23 L427.29,836.16 M421.24,841.23 L427.29,846.31 M427.29,846.31 L415.19,856.47 M415.19,856.47 L409.14,851.39 M409.14,851.39 L421.24,841.23 M451.50,836.16 L463.60,846.31 M463.60,846.31 L457.55,851.39 M457.55,851.39 L445.45,841.23 M445.45,841.23 L451.50,836.16 M445.45,841.23 L451.50,846.31 M451.50,846.31 L439.40,856.47 M439.40,856.47 L433.34,851.39 M433.34,851.39 L445.45,841.23 M475.71,836.16 L487.81,846.31 M487.81,846.31 L481.76,851.39 M481.76,851.39 L469.66,841.23 M469.66,841.23 L475.71,836.16 M469.66,841.23 L475.71,846.31 M475.71,846.31 L463.60,856.47 M463.60,856.47 L457.55,851.39 M457.55,851.39 L469.66,841.23 M499.91,836.16 L512.02,846.31 M512.02,846.31 L505.97,851.39 M505.97,851.39 L493.86,841.23 M493.86,841.23 L499.91,836.16 M493.86,841.23 L499.91,846.31 M499.91,846.31 L487.81,856.47 M487.81,856.47 L481.76,851.39 M481.76,851.39 L493.86,841.23 M403.09,846.31 L415.19,856.47 M415.19,856.47 L409.14,861.55 M409.14,861.55 L397.03,851.39 M397.03,851.39 L403.09,846.31 M397.03,851.39 L403.09,856.47 M403.09,856.47 L390.98,866.62 M390.98,866.62 L384.93,861.55 M384.93,861.55 L397.03,851.39 M427.29,846.31 L439.40,856.47 M439.40,856.47 L433.34,861.55 M433.34,861.55 L421.24,851.39 M421.24,851.39 L427.29,846.31 M421.24,851.39 L427.29,856.47 M427.29,856.47 L415.19,866.62 M415.19,866.62 L409.14,861.55 M409.14,861.55 L421.24,851.39 M451.50,846.31 L463.60,856.47 M463.60,856.47 L457.55,861.55 M457.55,861.55 L445.45,851.39 M445.45,851.39 L451.50,846.31 M445.45,851.39 L451.50,856.47 M451.50,856.47 L439.40,866.62 M439.40,866.62 L433.34,861.55 M433.34,861.55 L445.45,851.39 M475.71,846.31 L487.81,856.47 M487.81,856.47 L481.76,861.55 M481.76,861.55 L469.66,851.39 M469.66,851.39 L475.71,846.31 M469.66,851.39 L475.71,856.47 M475.71,856.47 L463.60,866.62 M463.60,866.62 L457.55,861.55 M457.55,861.55 L469.66,851.39 M499.91,846.31 L512.02,856.47 M512.02,856.47 L505.97,861.55 M505.97,861.55 L493.86,851.39 M493.86,851.39 L499.91,846.31 M493.86,851.39 L499.91,856.47 M499.91,856.47 L487.81,866.62 M487.81,866.62 L481.76,861.55 M481.76,861.55 L493.86,851.39 M403.09,856.47 L415.19,866.62 M415.19,866.62 L409.14,871.70 M409.14,871.70 L397.03,861.55 M397.03,861.55 L403.09,856.47 M397.03,861.55 L403.09,866.62 M403.09,866.62 L390.98,876.78 M390.98,876.78 L384.93,871.70 M384.93,871.70 L397.03,861.55 M427.29,856.47 L439.40,866.62 M439.40,866.62 L433.34,871.70 M433.34,871.70 L421.24,861.55 M421.24,861.55 L427.29,856.47 M421.24,861.55 L427.29,866.62 M427.29,866.62 L415.19,876.78 M415.19,876.78 L409.14,871.70 M409.14,871.70 L421.24,861.55 M451.50,856.47 L463.60,866.62 M463.60,866.62 L457.55,871.70 M457.55,871.70 L445.45,861.55 M445.45,861.55 L451.50,856.47 M445.45,861.55 L451.50,866.62 M451.50,866.62 L439.40,876.78 M439.40,876.78 L433.34,871.70 M433.34,871.70 L445.45,861.55 M475.71,856.47 L487.81,866.62 M487.81,866.62 L481.76,871.70 M481.76,871.70 L469.66,861.55 M469.66,861.55 L475.71,856.47 M469.66,861.55 L475.71,866.62 M475.71,866.62 L463.60,876.78 M463.60,876.78 L457.55,871.70 M457.55,871.70 L469.66,861.55 M499.91,856.47 L512.02,866.62 M512.02,866.62 L505.97,871.70 M505.97,871.70 L493.86,861.55 M493.86,861.55 L499.91,856.47 M493.86,861.55 L499.91,866.62 M499.91,866.62 L487.81,876.78 M487.81,876.78 L481.76,871.70 M481.76,871.70 L493.86,861.55 M403.09,866.62 L415.19,876.78 M415.19,876.78 L409.14,881.86 M409.14,881.86 L397.03,871.70 M397.03,871.70 L403.09,866.62 M397.03,871.70 L403.09,876.78 M403.09,876.78 L390.98,886.94 M390.98,886.94 L384.93,881.86 M384.93,881.86 L397.03,871.70 M427.29,866.62 L439.40,876.78 M439.40,876.78 L433.34,881.86 M433.34,881.86 L421.24,871.70 M421.24,871.70 L427.29,866.62 M421.24,871.70 L427.29,876.78 M427.29,876.78 L415.19,886.94 M415.19,886.94 L409.14,881.86 M409.14,881.86 L421.24,871.70 M451.50,866.62 L463.60,876.78 M463.60,876.78 L457.55,881.86 M457.55,881.86 L445.45,871.70 M445.45,871.70 L451.50,866.62 M445.45,871.70 L451.50,876.78 M451.50,876.78 L439.40,886.94 M439.40,886.94 L433.34,881.86 M433.34,881.86 L445.45,871.70 M475.71,866.62 L487.81,876.78 M487.81,876.78 L481.76,881.86 M481.76,881.86 L469.66,871.70 M469.66,871.70 L475.71,866.62 M469.66,871.70 L475.71,876.78 M475.71,876.78 L463.60,886.94 M463.60,886.94 L457.55,881.86 M457.55,881.86 L469.66,871.70 M499.91,866.62 L512.02,876.78 M512.02,876.78 L505.97,881.86 M505.97,881.86 L493.86,871.70 M493.86,871.70 L499.91,866.62 M493.86,871.70 L499.91,876.78 M499.91,876.78 L487.81,886.94 M487.81,886.94 L481.76,881.86 M481.76,881.86 L493.86,871.70" stroke="#000" stroke-width="1.4" fill="none" stroke-linecap="square"/></g>
<path d="M438,822.3 L438,844.3 Q441,843.5 445.3,842.2 Q450,843 457.8,845 Q465,844.8 471.4,845.7 L471.4,822.3" stroke="#000" stroke-width="2" fill="none"/>
<path d="M438,852.6 Q441,850 445.3,849.2 Q450,850 457.8,852.6 Q465,853 471.4,853.3 L471.4,967.1 L438,967.1 Z" fill="#fff" stroke="none"/>
<g clip-path="url(#shc2)"><path d="M403.09,805.69 L415.19,815.84 M415.19,815.84 L409.14,820.92 M409.14,820.92 L397.03,810.77 M397.03,810.77 L403.09,805.69 M397.03,810.77 L403.09,815.84 M403.09,815.84 L390.98,826.00 M390.98,826.00 L384.93,820.92 M384.93,820.92 L397.03,810.77 M427.29,805.69 L439.40,815.84 M439.40,815.84 L433.34,820.92 M433.34,820.92 L421.24,810.77 M421.24,810.77 L427.29,805.69 M421.24,810.77 L427.29,815.84 M427.29,815.84 L415.19,826.00 M415.19,826.00 L409.14,820.92 M409.14,820.92 L421.24,810.77 M451.50,805.69 L463.60,815.84 M463.60,815.84 L457.55,820.92 M457.55,820.92 L445.45,810.77 M445.45,810.77 L451.50,805.69 M445.45,810.77 L451.50,815.84 M451.50,815.84 L439.40,826.00 M439.40,826.00 L433.34,820.92 M433.34,820.92 L445.45,810.77 M475.71,805.69 L487.81,815.84 M487.81,815.84 L481.76,820.92 M481.76,820.92 L469.66,810.77 M469.66,810.77 L475.71,805.69 M469.66,810.77 L475.71,815.84 M475.71,815.84 L463.60,826.00 M463.60,826.00 L457.55,820.92 M457.55,820.92 L469.66,810.77 M499.91,805.69 L512.02,815.84 M512.02,815.84 L505.97,820.92 M505.97,820.92 L493.86,810.77 M493.86,810.77 L499.91,805.69 M493.86,810.77 L499.91,815.84 M499.91,815.84 L487.81,826.00 M487.81,826.00 L481.76,820.92 M481.76,820.92 L493.86,810.77 M403.09,815.84 L415.19,826.00 M415.19,826.00 L409.14,831.08 M409.14,831.08 L397.03,820.92 M397.03,820.92 L403.09,815.84 M397.03,820.92 L403.09,826.00 M403.09,826.00 L390.98,836.16 M390.98,836.16 L384.93,831.08 M384.93,831.08 L397.03,820.92 M427.29,815.84 L439.40,826.00 M439.40,826.00 L433.34,831.08 M433.34,831.08 L421.24,820.92 M421.24,820.92 L427.29,815.84 M421.24,820.92 L427.29,826.00 M427.29,826.00 L415.19,836.16 M415.19,836.16 L409.14,831.08 M409.14,831.08 L421.24,820.92 M451.50,815.84 L463.60,826.00 M463.60,826.00 L457.55,831.08 M457.55,831.08 L445.45,820.92 M445.45,820.92 L451.50,815.84 M445.45,820.92 L451.50,826.00 M451.50,826.00 L439.40,836.16 M439.40,836.16 L433.34,831.08 M433.34,831.08 L445.45,820.92 M475.71,815.84 L487.81,826.00 M487.81,826.00 L481.76,831.08 M481.76,831.08 L469.66,820.92 M469.66,820.92 L475.71,815.84 M469.66,820.92 L475.71,826.00 M475.71,826.00 L463.60,836.16 M463.60,836.16 L457.55,831.08 M457.55,831.08 L469.66,820.92 M499.91,815.84 L512.02,826.00 M512.02,826.00 L505.97,831.08 M505.97,831.08 L493.86,820.92 M493.86,820.92 L499.91,815.84 M493.86,820.92 L499.91,826.00 M499.91,826.00 L487.81,836.16 M487.81,836.16 L481.76,831.08 M481.76,831.08 L493.86,820.92 M403.09,826.00 L415.19,836.16 M415.19,836.16 L409.14,841.23 M409.14,841.23 L397.03,831.08 M397.03,831.08 L403.09,826.00 M397.03,831.08 L403.09,836.16 M403.09,836.16 L390.98,846.31 M390.98,846.31 L384.93,841.23 M384.93,841.23 L397.03,831.08 M427.29,826.00 L439.40,836.16 M439.40,836.16 L433.34,841.23 M433.34,841.23 L421.24,831.08 M421.24,831.08 L427.29,826.00 M421.24,831.08 L427.29,836.16 M427.29,836.16 L415.19,846.31 M415.19,846.31 L409.14,841.23 M409.14,841.23 L421.24,831.08 M451.50,826.00 L463.60,836.16 M463.60,836.16 L457.55,841.23 M457.55,841.23 L445.45,831.08 M445.45,831.08 L451.50,826.00 M445.45,831.08 L451.50,836.16 M451.50,836.16 L439.40,846.31 M439.40,846.31 L433.34,841.23 M433.34,841.23 L445.45,831.08 M475.71,826.00 L487.81,836.16 M487.81,836.16 L481.76,841.23 M481.76,841.23 L469.66,831.08 M469.66,831.08 L475.71,826.00 M469.66,831.08 L475.71,836.16 M475.71,836.16 L463.60,846.31 M463.60,846.31 L457.55,841.23 M457.55,841.23 L469.66,831.08 M499.91,826.00 L512.02,836.16 M512.02,836.16 L505.97,841.23 M505.97,841.23 L493.86,831.08 M493.86,831.08 L499.91,826.00 M493.86,831.08 L499.91,836.16 M499.91,836.16 L487.81,846.31 M487.81,846.31 L481.76,841.23 M481.76,841.23 L493.86,831.08 M403.09,836.16 L415.19,846.31 M415.19,846.31 L409.14,851.39 M409.14,851.39 L397.03,841.23 M397.03,841.23 L403.09,836.16 M397.03,841.23 L403.09,846.31 M403.09,846.31 L390.98,856.47 M390.98,856.47 L384.93,851.39 M384.93,851.39 L397.03,841.23 M427.29,836.16 L439.40,846.31 M439.40,846.31 L433.34,851.39 M433.34,851.39 L421.24,841.23 M421.24,841.23 L427.29,836.16 M421.24,841.23 L427.29,846.31 M427.29,846.31 L415.19,856.47 M415.19,856.47 L409.14,851.39 M409.14,851.39 L421.24,841.23 M451.50,836.16 L463.60,846.31 M463.60,846.31 L457.55,851.39 M457.55,851.39 L445.45,841.23 M445.45,841.23 L451.50,836.16 M445.45,841.23 L451.50,846.31 M451.50,846.31 L439.40,856.47 M439.40,856.47 L433.34,851.39 M433.34,851.39 L445.45,841.23 M475.71,836.16 L487.81,846.31 M487.81,846.31 L481.76,851.39 M481.76,851.39 L469.66,841.23 M469.66,841.23 L475.71,836.16 M469.66,841.23 L475.71,846.31 M475.71,846.31 L463.60,856.47 M463.60,856.47 L457.55,851.39 M457.55,851.39 L469.66,841.23 M499.91,836.16 L512.02,846.31 M512.02,846.31 L505.97,851.39 M505.97,851.39 L493.86,841.23 M493.86,841.23 L499.91,836.16 M493.86,841.23 L499.91,846.31 M499.91,846.31 L487.81,856.47 M487.81,856.47 L481.76,851.39 M481.76,851.39 L493.86,841.23 M403.09,846.31 L415.19,856.47 M415.19,856.47 L409.14,861.55 M409.14,861.55 L397.03,851.39 M397.03,851.39 L403.09,846.31 M397.03,851.39 L403.09,856.47 M403.09,856.47 L390.98,866.62 M390.98,866.62 L384.93,861.55 M384.93,861.55 L397.03,851.39 M427.29,846.31 L439.40,856.47 M439.40,856.47 L433.34,861.55 M433.34,861.55 L421.24,851.39 M421.24,851.39 L427.29,846.31 M421.24,851.39 L427.29,856.47 M427.29,856.47 L415.19,866.62 M415.19,866.62 L409.14,861.55 M409.14,861.55 L421.24,851.39 M451.50,846.31 L463.60,856.47 M463.60,856.47 L457.55,861.55 M457.55,861.55 L445.45,851.39 M445.45,851.39 L451.50,846.31 M445.45,851.39 L451.50,856.47 M451.50,856.47 L439.40,866.62 M439.40,866.62 L433.34,861.55 M433.34,861.55 L445.45,851.39 M475.71,846.31 L487.81,856.47 M487.81,856.47 L481.76,861.55 M481.76,861.55 L469.66,851.39 M469.66,851.39 L475.71,846.31 M469.66,851.39 L475.71,856.47 M475.71,856.47 L463.60,866.62 M463.60,866.62 L457.55,861.55 M457.55,861.55 L469.66,851.39 M499.91,846.31 L512.02,856.47 M512.02,856.47 L505.97,861.55 M505.97,861.55 L493.86,851.39 M493.86,851.39 L499.91,846.31 M493.86,851.39 L499.91,856.47 M499.91,856.47 L487.81,866.62 M487.81,866.62 L481.76,861.55 M481.76,861.55 L493.86,851.39 M403.09,856.47 L415.19,866.62 M415.19,866.62 L409.14,871.70 M409.14,871.70 L397.03,861.55 M397.03,861.55 L403.09,856.47 M397.03,861.55 L403.09,866.62 M403.09,866.62 L390.98,876.78 M390.98,876.78 L384.93,871.70 M384.93,871.70 L397.03,861.55 M427.29,856.47 L439.40,866.62 M439.40,866.62 L433.34,871.70 M433.34,871.70 L421.24,861.55 M421.24,861.55 L427.29,856.47 M421.24,861.55 L427.29,866.62 M427.29,866.62 L415.19,876.78 M415.19,876.78 L409.14,871.70 M409.14,871.70 L421.24,861.55 M451.50,856.47 L463.60,866.62 M463.60,866.62 L457.55,871.70 M457.55,871.70 L445.45,861.55 M445.45,861.55 L451.50,856.47 M445.45,861.55 L451.50,866.62 M451.50,866.62 L439.40,876.78 M439.40,876.78 L433.34,871.70 M433.34,871.70 L445.45,861.55 M475.71,856.47 L487.81,866.62 M487.81,866.62 L481.76,871.70 M481.76,871.70 L469.66,861.55 M469.66,861.55 L475.71,856.47 M469.66,861.55 L475.71,866.62 M475.71,866.62 L463.60,876.78 M463.60,876.78 L457.55,871.70 M457.55,871.70 L469.66,861.55 M499.91,856.47 L512.02,866.62 M512.02,866.62 L505.97,871.70 M505.97,871.70 L493.86,861.55 M493.86,861.55 L499.91,856.47 M493.86,861.55 L499.91,866.62 M499.91,866.62 L487.81,876.78 M487.81,876.78 L481.76,871.70 M481.76,871.70 L493.86,861.55 M403.09,866.62 L415.19,876.78 M415.19,876.78 L409.14,881.86 M409.14,881.86 L397.03,871.70 M397.03,871.70 L403.09,866.62 M397.03,871.70 L403.09,876.78 M403.09,876.78 L390.98,886.94 M390.98,886.94 L384.93,881.86 M384.93,881.86 L397.03,871.70 M427.29,866.62 L439.40,876.78 M439.40,876.78 L433.34,881.86 M433.34,881.86 L421.24,871.70 M421.24,871.70 L427.29,866.62 M421.24,871.70 L427.29,876.78 M427.29,876.78 L415.19,886.94 M415.19,886.94 L409.14,881.86 M409.14,881.86 L421.24,871.70 M451.50,866.62 L463.60,876.78 M463.60,876.78 L457.55,881.86 M457.55,881.86 L445.45,871.70 M445.45,871.70 L451.50,866.62 M445.45,871.70 L451.50,876.78 M451.50,876.78 L439.40,886.94 M439.40,886.94 L433.34,881.86 M433.34,881.86 L445.45,871.70 M475.71,866.62 L487.81,876.78 M487.81,876.78 L481.76,881.86 M481.76,881.86 L469.66,871.70 M469.66,871.70 L475.71,866.62 M469.66,871.70 L475.71,876.78 M475.71,876.78 L463.60,886.94 M463.60,886.94 L457.55,881.86 M457.55,881.86 L469.66,871.70 M499.91,866.62 L512.02,876.78 M512.02,876.78 L505.97,881.86 M505.97,881.86 L493.86,871.70 M493.86,871.70 L499.91,866.62 M493.86,871.70 L499.91,876.78 M499.91,876.78 L487.81,886.94 M487.81,886.94 L481.76,881.86 M481.76,881.86 L493.86,871.70 M403.09,876.78 L415.19,886.94 M415.19,886.94 L409.14,892.01 M409.14,892.01 L397.03,881.86 M397.03,881.86 L403.09,876.78 M397.03,881.86 L403.09,886.94 M403.09,886.94 L390.98,897.09 M390.98,897.09 L384.93,892.01 M384.93,892.01 L397.03,881.86 M427.29,876.78 L439.40,886.94 M439.40,886.94 L433.34,892.01 M433.34,892.01 L421.24,881.86 M421.24,881.86 L427.29,876.78 M421.24,881.86 L427.29,886.94 M427.29,886.94 L415.19,897.09 M415.19,897.09 L409.14,892.01 M409.14,892.01 L421.24,881.86 M451.50,876.78 L463.60,886.94 M463.60,886.94 L457.55,892.01 M457.55,892.01 L445.45,881.86 M445.45,881.86 L451.50,876.78 M445.45,881.86 L451.50,886.94 M451.50,886.94 L439.40,897.09 M439.40,897.09 L433.34,892.01 M433.34,892.01 L445.45,881.86 M475.71,876.78 L487.81,886.94 M487.81,886.94 L481.76,892.01 M481.76,892.01 L469.66,881.86 M469.66,881.86 L475.71,876.78 M469.66,881.86 L475.71,886.94 M475.71,886.94 L463.60,897.09 M463.60,897.09 L457.55,892.01 M457.55,892.01 L469.66,881.86 M499.91,876.78 L512.02,886.94 M512.02,886.94 L505.97,892.01 M505.97,892.01 L493.86,881.86 M493.86,881.86 L499.91,876.78 M493.86,881.86 L499.91,886.94 M499.91,886.94 L487.81,897.09 M487.81,897.09 L481.76,892.01 M481.76,892.01 L493.86,881.86 M403.09,886.94 L415.19,897.09 M415.19,897.09 L409.14,902.17 M409.14,902.17 L397.03,892.01 M397.03,892.01 L403.09,886.94 M397.03,892.01 L403.09,897.09 M403.09,897.09 L390.98,907.25 M390.98,907.25 L384.93,902.17 M384.93,902.17 L397.03,892.01 M427.29,886.94 L439.40,897.09 M439.40,897.09 L433.34,902.17 M433.34,902.17 L421.24,892.01 M421.24,892.01 L427.29,886.94 M421.24,892.01 L427.29,897.09 M427.29,897.09 L415.19,907.25 M415.19,907.25 L409.14,902.17 M409.14,902.17 L421.24,892.01 M451.50,886.94 L463.60,897.09 M463.60,897.09 L457.55,902.17 M457.55,902.17 L445.45,892.01 M445.45,892.01 L451.50,886.94 M445.45,892.01 L451.50,897.09 M451.50,897.09 L439.40,907.25 M439.40,907.25 L433.34,902.17 M433.34,902.17 L445.45,892.01 M475.71,886.94 L487.81,897.09 M487.81,897.09 L481.76,902.17 M481.76,902.17 L469.66,892.01 M469.66,892.01 L475.71,886.94 M469.66,892.01 L475.71,897.09 M475.71,897.09 L463.60,907.25 M463.60,907.25 L457.55,902.17 M457.55,902.17 L469.66,892.01 M499.91,886.94 L512.02,897.09 M512.02,897.09 L505.97,902.17 M505.97,902.17 L493.86,892.01 M493.86,892.01 L499.91,886.94 M493.86,892.01 L499.91,897.09 M499.91,897.09 L487.81,907.25 M487.81,907.25 L481.76,902.17 M481.76,902.17 L493.86,892.01 M403.09,897.09 L415.19,907.25 M415.19,907.25 L409.14,912.33 M409.14,912.33 L397.03,902.17 M397.03,902.17 L403.09,897.09 M397.03,902.17 L403.09,907.25 M403.09,907.25 L390.98,917.40 M390.98,917.40 L384.93,912.33 M384.93,912.33 L397.03,902.17 M427.29,897.09 L439.40,907.25 M439.40,907.25 L433.34,912.33 M433.34,912.33 L421.24,902.17 M421.24,902.17 L427.29,897.09 M421.24,902.17 L427.29,907.25 M427.29,907.25 L415.19,917.40 M415.19,917.40 L409.14,912.33 M409.14,912.33 L421.24,902.17 M451.50,897.09 L463.60,907.25 M463.60,907.25 L457.55,912.33 M457.55,912.33 L445.45,902.17 M445.45,902.17 L451.50,897.09 M445.45,902.17 L451.50,907.25 M451.50,907.25 L439.40,917.40 M439.40,917.40 L433.34,912.33 M433.34,912.33 L445.45,902.17 M475.71,897.09 L487.81,907.25 M487.81,907.25 L481.76,912.33 M481.76,912.33 L469.66,902.17 M469.66,902.17 L475.71,897.09 M469.66,902.17 L475.71,907.25 M475.71,907.25 L463.60,917.40 M463.60,917.40 L457.55,912.33 M457.55,912.33 L469.66,902.17 M499.91,897.09 L512.02,907.25 M512.02,907.25 L505.97,912.33 M505.97,912.33 L493.86,902.17 M493.86,902.17 L499.91,897.09 M493.86,902.17 L499.91,907.25 M499.91,907.25 L487.81,917.40 M487.81,917.40 L481.76,912.33 M481.76,912.33 L493.86,902.17 M403.09,907.25 L415.19,917.40 M415.19,917.40 L409.14,922.48 M409.14,922.48 L397.03,912.33 M397.03,912.33 L403.09,907.25 M397.03,912.33 L403.09,917.40 M403.09,917.40 L390.98,927.56 M390.98,927.56 L384.93,922.48 M384.93,922.48 L397.03,912.33 M427.29,907.25 L439.40,917.40 M439.40,917.40 L433.34,922.48 M433.34,922.48 L421.24,912.33 M421.24,912.33 L427.29,907.25 M421.24,912.33 L427.29,917.40 M427.29,917.40 L415.19,927.56 M415.19,927.56 L409.14,922.48 M409.14,922.48 L421.24,912.33 M451.50,907.25 L463.60,917.40 M463.60,917.40 L457.55,922.48 M457.55,922.48 L445.45,912.33 M445.45,912.33 L451.50,907.25 M445.45,912.33 L451.50,917.40 M451.50,917.40 L439.40,927.56 M439.40,927.56 L433.34,922.48 M433.34,922.48 L445.45,912.33 M475.71,907.25 L487.81,917.40 M487.81,917.40 L481.76,922.48 M481.76,922.48 L469.66,912.33 M469.66,912.33 L475.71,907.25 M469.66,912.33 L475.71,917.40 M475.71,917.40 L463.60,927.56 M463.60,927.56 L457.55,922.48 M457.55,922.48 L469.66,912.33 M499.91,907.25 L512.02,917.40 M512.02,917.40 L505.97,922.48 M505.97,922.48 L493.86,912.33 M493.86,912.33 L499.91,907.25 M493.86,912.33 L499.91,917.40 M499.91,917.40 L487.81,927.56 M487.81,927.56 L481.76,922.48 M481.76,922.48 L493.86,912.33 M403.09,917.40 L415.19,927.56 M415.19,927.56 L409.14,932.64 M409.14,932.64 L397.03,922.48 M397.03,922.48 L403.09,917.40 M397.03,922.48 L403.09,927.56 M403.09,927.56 L390.98,937.72 M390.98,937.72 L384.93,932.64 M384.93,932.64 L397.03,922.48 M427.29,917.40 L439.40,927.56 M439.40,927.56 L433.34,932.64 M433.34,932.64 L421.24,922.48 M421.24,922.48 L427.29,917.40 M421.24,922.48 L427.29,927.56 M427.29,927.56 L415.19,937.72 M415.19,937.72 L409.14,932.64 M409.14,932.64 L421.24,922.48 M451.50,917.40 L463.60,927.56 M463.60,927.56 L457.55,932.64 M457.55,932.64 L445.45,922.48 M445.45,922.48 L451.50,917.40 M445.45,922.48 L451.50,927.56 M451.50,927.56 L439.40,937.72 M439.40,937.72 L433.34,932.64 M433.34,932.64 L445.45,922.48 M475.71,917.40 L487.81,927.56 M487.81,927.56 L481.76,932.64 M481.76,932.64 L469.66,922.48 M469.66,922.48 L475.71,917.40 M469.66,922.48 L475.71,927.56 M475.71,927.56 L463.60,937.72 M463.60,937.72 L457.55,932.64 M457.55,932.64 L469.66,922.48 M499.91,917.40 L512.02,927.56 M512.02,927.56 L505.97,932.64 M505.97,932.64 L493.86,922.48 M493.86,922.48 L499.91,917.40 M493.86,922.48 L499.91,927.56 M499.91,927.56 L487.81,937.72 M487.81,937.72 L481.76,932.64 M481.76,932.64 L493.86,922.48 M403.09,927.56 L415.19,937.72 M415.19,937.72 L409.14,942.79 M409.14,942.79 L397.03,932.64 M397.03,932.64 L403.09,927.56 M397.03,932.64 L403.09,937.72 M403.09,937.72 L390.98,947.87 M390.98,947.87 L384.93,942.79 M384.93,942.79 L397.03,932.64 M427.29,927.56 L439.40,937.72 M439.40,937.72 L433.34,942.79 M433.34,942.79 L421.24,932.64 M421.24,932.64 L427.29,927.56 M421.24,932.64 L427.29,937.72 M427.29,937.72 L415.19,947.87 M415.19,947.87 L409.14,942.79 M409.14,942.79 L421.24,932.64 M451.50,927.56 L463.60,937.72 M463.60,937.72 L457.55,942.79 M457.55,942.79 L445.45,932.64 M445.45,932.64 L451.50,927.56 M445.45,932.64 L451.50,937.72 M451.50,937.72 L439.40,947.87 M439.40,947.87 L433.34,942.79 M433.34,942.79 L445.45,932.64 M475.71,927.56 L487.81,937.72 M487.81,937.72 L481.76,942.79 M481.76,942.79 L469.66,932.64 M469.66,932.64 L475.71,927.56 M469.66,932.64 L475.71,937.72 M475.71,937.72 L463.60,947.87 M463.60,947.87 L457.55,942.79 M457.55,942.79 L469.66,932.64 M499.91,927.56 L512.02,937.72 M512.02,937.72 L505.97,942.79 M505.97,942.79 L493.86,932.64 M493.86,932.64 L499.91,927.56 M493.86,932.64 L499.91,937.72 M499.91,937.72 L487.81,947.87 M487.81,947.87 L481.76,942.79 M481.76,942.79 L493.86,932.64 M403.09,937.72 L415.19,947.87 M415.19,947.87 L409.14,952.95 M409.14,952.95 L397.03,942.79 M397.03,942.79 L403.09,937.72 M397.03,942.79 L403.09,947.87 M403.09,947.87 L390.98,958.03 M390.98,958.03 L384.93,952.95 M384.93,952.95 L397.03,942.79 M427.29,937.72 L439.40,947.87 M439.40,947.87 L433.34,952.95 M433.34,952.95 L421.24,942.79 M421.24,942.79 L427.29,937.72 M421.24,942.79 L427.29,947.87 M427.29,947.87 L415.19,958.03 M415.19,958.03 L409.14,952.95 M409.14,952.95 L421.24,942.79 M451.50,937.72 L463.60,947.87 M463.60,947.87 L457.55,952.95 M457.55,952.95 L445.45,942.79 M445.45,942.79 L451.50,937.72 M445.45,942.79 L451.50,947.87 M451.50,947.87 L439.40,958.03 M439.40,958.03 L433.34,952.95 M433.34,952.95 L445.45,942.79 M475.71,937.72 L487.81,947.87 M487.81,947.87 L481.76,952.95 M481.76,952.95 L469.66,942.79 M469.66,942.79 L475.71,937.72 M469.66,942.79 L475.71,947.87 M475.71,947.87 L463.60,958.03 M463.60,958.03 L457.55,952.95 M457.55,952.95 L469.66,942.79 M499.91,937.72 L512.02,947.87 M512.02,947.87 L505.97,952.95 M505.97,952.95 L493.86,942.79 M493.86,942.79 L499.91,937.72 M493.86,942.79 L499.91,947.87 M499.91,947.87 L487.81,958.03 M487.81,958.03 L481.76,952.95 M481.76,952.95 L493.86,942.79 M403.09,947.87 L415.19,958.03 M415.19,958.03 L409.14,963.11 M409.14,963.11 L397.03,952.95 M397.03,952.95 L403.09,947.87 M397.03,952.95 L403.09,958.03 M403.09,958.03 L390.98,968.18 M390.98,968.18 L384.93,963.11 M384.93,963.11 L397.03,952.95 M427.29,947.87 L439.40,958.03 M439.40,958.03 L433.34,963.11 M433.34,963.11 L421.24,952.95 M421.24,952.95 L427.29,947.87 M421.24,952.95 L427.29,958.03 M427.29,958.03 L415.19,968.18 M415.19,968.18 L409.14,963.11 M409.14,963.11 L421.24,952.95 M451.50,947.87 L463.60,958.03 M463.60,958.03 L457.55,963.11 M457.55,963.11 L445.45,952.95 M445.45,952.95 L451.50,947.87 M445.45,952.95 L451.50,958.03 M451.50,958.03 L439.40,968.18 M439.40,968.18 L433.34,963.11 M433.34,963.11 L445.45,952.95 M475.71,947.87 L487.81,958.03 M487.81,958.03 L481.76,963.11 M481.76,963.11 L469.66,952.95 M469.66,952.95 L475.71,947.87 M469.66,952.95 L475.71,958.03 M475.71,958.03 L463.60,968.18 M463.60,968.18 L457.55,963.11 M457.55,963.11 L469.66,952.95 M499.91,947.87 L512.02,958.03 M512.02,958.03 L505.97,963.11 M505.97,963.11 L493.86,952.95 M493.86,952.95 L499.91,947.87 M493.86,952.95 L499.91,958.03 M499.91,958.03 L487.81,968.18 M487.81,968.18 L481.76,963.11 M481.76,963.11 L493.86,952.95 M403.09,958.03 L415.19,968.18 M415.19,968.18 L409.14,973.26 M409.14,973.26 L397.03,963.11 M397.03,963.11 L403.09,958.03 M397.03,963.11 L403.09,968.18 M403.09,968.18 L390.98,978.34 M390.98,978.34 L384.93,973.26 M384.93,973.26 L397.03,963.11 M427.29,958.03 L439.40,968.18 M439.40,968.18 L433.34,973.26 M433.34,973.26 L421.24,963.11 M421.24,963.11 L427.29,958.03 M421.24,963.11 L427.29,968.18 M427.29,968.18 L415.19,978.34 M415.19,978.34 L409.14,973.26 M409.14,973.26 L421.24,963.11 M451.50,958.03 L463.60,968.18 M463.60,968.18 L457.55,973.26 M457.55,973.26 L445.45,963.11 M445.45,963.11 L451.50,958.03 M445.45,963.11 L451.50,968.18 M451.50,968.18 L439.40,978.34 M439.40,978.34 L433.34,973.26 M433.34,973.26 L445.45,963.11 M475.71,958.03 L487.81,968.18 M487.81,968.18 L481.76,973.26 M481.76,973.26 L469.66,963.11 M469.66,963.11 L475.71,958.03 M469.66,963.11 L475.71,968.18 M475.71,968.18 L463.60,978.34 M463.60,978.34 L457.55,973.26 M457.55,973.26 L469.66,963.11 M499.91,958.03 L512.02,968.18 M512.02,968.18 L505.97,973.26 M505.97,973.26 L493.86,963.11 M493.86,963.11 L499.91,958.03 M493.86,963.11 L499.91,968.18 M499.91,968.18 L487.81,978.34 M487.81,978.34 L481.76,973.26 M481.76,973.26 L493.86,963.11 M403.09,968.18 L415.19,978.34 M415.19,978.34 L409.14,983.42 M409.14,983.42 L397.03,973.26 M397.03,973.26 L403.09,968.18 M397.03,973.26 L403.09,978.34 M403.09,978.34 L390.98,988.50 M390.98,988.50 L384.93,983.42 M384.93,983.42 L397.03,973.26 M427.29,968.18 L439.40,978.34 M439.40,978.34 L433.34,983.42 M433.34,983.42 L421.24,973.26 M421.24,973.26 L427.29,968.18 M421.24,973.26 L427.29,978.34 M427.29,978.34 L415.19,988.50 M415.19,988.50 L409.14,983.42 M409.14,983.42 L421.24,973.26 M451.50,968.18 L463.60,978.34 M463.60,978.34 L457.55,983.42 M457.55,983.42 L445.45,973.26 M445.45,973.26 L451.50,968.18 M445.45,973.26 L451.50,978.34 M451.50,978.34 L439.40,988.50 M439.40,988.50 L433.34,983.42 M433.34,983.42 L445.45,973.26 M475.71,968.18 L487.81,978.34 M487.81,978.34 L481.76,983.42 M481.76,983.42 L469.66,973.26 M469.66,973.26 L475.71,968.18 M469.66,973.26 L475.71,978.34 M475.71,978.34 L463.60,988.50 M463.60,988.50 L457.55,983.42 M457.55,983.42 L469.66,973.26 M499.91,968.18 L512.02,978.34 M512.02,978.34 L505.97,983.42 M505.97,983.42 L493.86,973.26 M493.86,973.26 L499.91,968.18 M493.86,973.26 L499.91,978.34 M499.91,978.34 L487.81,988.50 M487.81,988.50 L481.76,983.42 M481.76,983.42 L493.86,973.26 M403.09,978.34 L415.19,988.50 M415.19,988.50 L409.14,993.57 M409.14,993.57 L397.03,983.42 M397.03,983.42 L403.09,978.34 M397.03,983.42 L403.09,988.50 M403.09,988.50 L390.98,998.65 M390.98,998.65 L384.93,993.57 M384.93,993.57 L397.03,983.42 M427.29,978.34 L439.40,988.50 M439.40,988.50 L433.34,993.57 M433.34,993.57 L421.24,983.42 M421.24,983.42 L427.29,978.34 M421.24,983.42 L427.29,988.50 M427.29,988.50 L415.19,998.65 M415.19,998.65 L409.14,993.57 M409.14,993.57 L421.24,983.42 M451.50,978.34 L463.60,988.50 M463.60,988.50 L457.55,993.57 M457.55,993.57 L445.45,983.42 M445.45,983.42 L451.50,978.34 M445.45,983.42 L451.50,988.50 M451.50,988.50 L439.40,998.65 M439.40,998.65 L433.34,993.57 M433.34,993.57 L445.45,983.42 M475.71,978.34 L487.81,988.50 M487.81,988.50 L481.76,993.57 M481.76,993.57 L469.66,983.42 M469.66,983.42 L475.71,978.34 M469.66,983.42 L475.71,988.50 M475.71,988.50 L463.60,998.65 M463.60,998.65 L457.55,993.57 M457.55,993.57 L469.66,983.42 M499.91,978.34 L512.02,988.50 M512.02,988.50 L505.97,993.57 M505.97,993.57 L493.86,983.42 M493.86,983.42 L499.91,978.34 M493.86,983.42 L499.91,988.50 M499.91,988.50 L487.81,998.65 M487.81,998.65 L481.76,993.57 M481.76,993.57 L493.86,983.42 M403.09,988.50 L415.19,998.65 M415.19,998.65 L409.14,1003.73 M409.14,1003.73 L397.03,993.57 M397.03,993.57 L403.09,988.50 M397.03,993.57 L403.09,998.65 M403.09,998.65 L390.98,1008.81 M390.98,1008.81 L384.93,1003.73 M384.93,1003.73 L397.03,993.57 M427.29,988.50 L439.40,998.65 M439.40,998.65 L433.34,1003.73 M433.34,1003.73 L421.24,993.57 M421.24,993.57 L427.29,988.50 M421.24,993.57 L427.29,998.65 M427.29,998.65 L415.19,1008.81 M415.19,1008.81 L409.14,1003.73 M409.14,1003.73 L421.24,993.57 M451.50,988.50 L463.60,998.65 M463.60,998.65 L457.55,1003.73 M457.55,1003.73 L445.45,993.57 M445.45,993.57 L451.50,988.50 M445.45,993.57 L451.50,998.65 M451.50,998.65 L439.40,1008.81 M439.40,1008.81 L433.34,1003.73 M433.34,1003.73 L445.45,993.57 M475.71,988.50 L487.81,998.65 M487.81,998.65 L481.76,1003.73 M481.76,1003.73 L469.66,993.57 M469.66,993.57 L475.71,988.50 M469.66,993.57 L475.71,998.65 M475.71,998.65 L463.60,1008.81 M463.60,1008.81 L457.55,1003.73 M457.55,1003.73 L469.66,993.57 M499.91,988.50 L512.02,998.65 M512.02,998.65 L505.97,1003.73 M505.97,1003.73 L493.86,993.57 M493.86,993.57 L499.91,988.50 M493.86,993.57 L499.91,998.65 M499.91,998.65 L487.81,1008.81 M487.81,1008.81 L481.76,1003.73 M481.76,1003.73 L493.86,993.57" stroke="#000" stroke-width="1.4" fill="none" stroke-linecap="square"/></g>
<path d="M438,967.1 L438,852.6 Q441,850 445.3,849.2 Q450,850 457.8,852.6 Q465,853 471.4,853.3 L471.4,967.1" stroke="#000" stroke-width="2" fill="none"/>
<g transform="matrix(1,0,0,1,454.5,1026.25)"><path d="M-31,-18.75 L31,-18.75 L35,-13 L35,13 L31,18.75 L-31,18.75 L-35,13 L-35,-13 Z" stroke="#000" stroke-width="2.2" fill="#fff"/><path d="M-20.2,-12.95 L-20.2,12.95 M-14.5,-12.95 L-14.5,12.95 M14.5,-12.95 L14.5,12.95 M20.1,-12.95 L20.1,12.95 M-20.2,-12.95 L-14.5,-12.95 M-20.2,12.95 L-14.5,12.95 M14.5,-12.95 L20.1,-12.95 M14.5,12.95 L20.1,12.95" stroke="#000" stroke-width="1.6" fill="none"/><path d="M-35,-13 Q-27,-21 -20.2,-12.95 M-35,13 Q-27,21 -20.2,12.95 M35,-13 Q27,-21 20.1,-12.95 M35,13 Q27,21 20.1,12.95" stroke="#000" stroke-width="1.6" fill="none"/><path d="M-14.5,-12.95 Q0,-25 14.5,-12.95 M-14.5,12.95 Q0,25 14.5,12.95" stroke="#000" stroke-width="1.6" fill="none"/><path d="M-24,-18.75 L-20.2,-12.95 M-6,-18.75 L-14.5,-12.95 M6,-18.75 L14.5,-12.95 M24,-18.75 L20.1,-12.95 M-24,18.75 L-20.2,12.95 M-6,18.75 L-14.5,12.95 M6,18.75 L14.5,12.95 M24,18.75 L20.1,12.95" stroke="#000" stroke-width="1.4" fill="none"/><rect x="-18.2" y="-25.45" width="36.4" height="6.5" rx="3.2" stroke="#000" stroke-width="2" fill="#fff"/><rect x="-15.4" y="-45.2" width="30.8" height="19.75" stroke="#000" stroke-width="1.8" fill="#fff"/><path d="M-12.2,-45 L-12.2,-25.5 M-4.2,-45 L-4.2,-25.5 M4.6,-45 L4.6,-25.5 M12.5,-45 L12.5,-25.5" stroke="#000" stroke-width="1.5" fill="none"/><rect x="-18.3" y="-59.15" width="36.6" height="13.9" rx="1.5" stroke="#000" stroke-width="2.2" fill="#fff"/><path d="M-18,-47.7 L18,-47.7" stroke="#000" stroke-width="1.5"/></g>
<path d="M224.6,994.6 L415.4,1075.2" stroke="#8a8a8a" stroke-width="1.1" fill="none"/>
<path d="M331.1,1049.3 L345.9,1021.5 M373.7,1067.8 L388.5,1040" stroke="#8a8a8a" stroke-width="1.1" fill="none"/>
<path d="M335.70,1041.50 L316.83,1029.59 L313.97,1036.41 Z" fill="#000"/>
<path d="M376.50,1059.00 L396.36,1071.41 L399.24,1064.59 Z" fill="#000"/>
<text transform="translate(226.95,983.13) rotate(21) scale(0.4074,0.4057)" font-size="100" fill="#000" stroke="#000" stroke-width="1.230" stroke-linejoin="round">G3/8</text>
<path d="M317.5,1000.4 L326.5,992.2 L329.8,993.3 L322.6,1002.7 Z M325.6,1003.7 L334.3,995.2 L337.7,996.4 L331.1,1005.3 Z" fill="#000" stroke="#000" stroke-width="0.6" stroke-linejoin="round"/>
<path d="M607,460.6 L614.6,460.6 L614.6,467.2 L607,467.2 Z M621.4,460.6 L629,460.6 L629,467.2 L621.4,467.2 Z" fill="#fff"/>
<path d="M625.5,742.6 L633.6,742.6 L633.6,749.2 L625.5,749.2 Z M640.4,742.6 L648.5,742.6 L648.5,749.2 L640.4,749.2 Z" fill="#fff"/>
</svg></body></html>
